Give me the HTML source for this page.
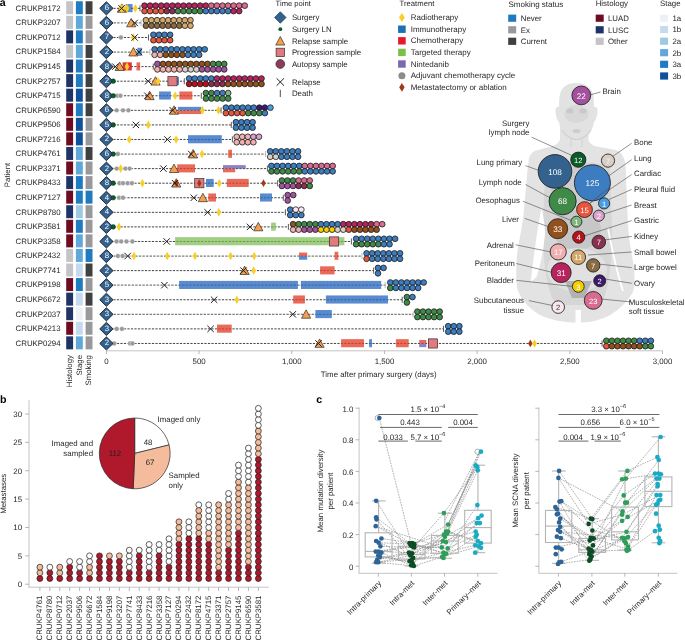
<!DOCTYPE html>
<html><head><meta charset="utf-8"><style>
html,body{margin:0;padding:0;background:#fff;overflow:hidden;width:685px;height:640px;}
svg{display:block;font-family:"Liberation Sans",sans-serif;text-rendering:geometricPrecision;will-change:transform;}
</style></head><body>
<svg width="685" height="640" viewBox="0 0 685 640">
<rect width="685" height="640" fill="#fff"/>
<text x="-0.3" y="6.4" font-size="10.6" font-weight="bold" fill="#000">a</text>
<text x="15.6" y="8.15" font-size="7.85" text-anchor="start" fill="#231f20" font-weight="normal" dominant-baseline="central" >CRUKP8172</text>
<rect x="66.2" y="1.25" width="6.9" height="13.0" fill="#c4c4c6"/>
<rect x="75.9" y="1.25" width="6.9" height="13.0" fill="#1f7bc2"/>
<rect x="85.6" y="1.25" width="6.9" height="13.0" fill="#404040"/>
<line x1="106.4" y1="8.35" x2="140" y2="8.35" stroke="#2e2e2e" stroke-width="0.9" stroke-dasharray="2.2,1.3"/>
<rect x="125.6" y="4.05" width="7" height="8.1" fill="#2a6ac0" fill-opacity="0.78"/>
<path d="M121.9,3.85 L126.5,12.25 L117.3,12.25 Z" fill="#f0a050" stroke="#3a2a20" stroke-width="0.7" stroke-linejoin="round"/>
<path d="M121.2,4.05 L123.6,8.35 L121.2,12.65 L118.8,8.35 Z" fill="#f7cf2a" stroke="none" stroke-width="0"/>
<path d="M123,4.05 L125.4,8.35 L123,12.65 L120.6,8.35 Z" fill="#f7cf2a" stroke="none" stroke-width="0"/>
<path d="M127,4.05 L129.4,8.35 L127,12.65 L124.6,8.35 Z" fill="#f7cf2a" stroke="none" stroke-width="0"/>
<path d="M135.3,4.05 L137.7,8.35 L135.3,12.65 L132.9,8.35 Z" fill="#f7cf2a" stroke="none" stroke-width="0"/>
<path d="M118.4,5.15 L124.8,11.55 M124.8,5.15 L118.4,11.55" stroke="#1e1e1e" stroke-width="1.0" fill="none"/>
<line x1="140" y1="5.35" x2="140" y2="11.35" stroke="#333" stroke-width="0.8"/>
<path d="M106.4,1.75 L113.05,8.35 L106.4,14.95 L99.75,8.35 Z" fill="#33628f" stroke="#141c28" stroke-width="0.9"/>
<text x="106.9" y="7.85" font-size="7.8" text-anchor="middle" fill="#fff" font-weight="normal" dominant-baseline="central" >6</text>
<circle cx="144.5" cy="5.65" r="2.85" fill="#b5245c" stroke="#1c1c1c" stroke-width="0.8"/>
<circle cx="150.07" cy="5.65" r="2.85" fill="#b5245c" stroke="#1c1c1c" stroke-width="0.8"/>
<circle cx="155.64" cy="5.65" r="2.85" fill="#b5245c" stroke="#1c1c1c" stroke-width="0.8"/>
<circle cx="161.21" cy="5.65" r="2.85" fill="#b5245c" stroke="#1c1c1c" stroke-width="0.8"/>
<circle cx="166.78" cy="5.65" r="2.85" fill="#b5245c" stroke="#1c1c1c" stroke-width="0.8"/>
<circle cx="172.35" cy="5.65" r="2.85" fill="#b5245c" stroke="#1c1c1c" stroke-width="0.8"/>
<circle cx="177.92" cy="5.65" r="2.85" fill="#b5245c" stroke="#1c1c1c" stroke-width="0.8"/>
<circle cx="183.49" cy="5.65" r="2.85" fill="#b5245c" stroke="#1c1c1c" stroke-width="0.8"/>
<circle cx="189.06" cy="5.65" r="2.85" fill="#b5245c" stroke="#1c1c1c" stroke-width="0.8"/>
<circle cx="194.63" cy="5.65" r="2.85" fill="#b5245c" stroke="#1c1c1c" stroke-width="0.8"/>
<circle cx="200.2" cy="5.65" r="2.85" fill="#b5245c" stroke="#1c1c1c" stroke-width="0.8"/>
<circle cx="205.77" cy="5.65" r="2.85" fill="#b5245c" stroke="#1c1c1c" stroke-width="0.8"/>
<circle cx="211.34" cy="5.65" r="2.85" fill="#d96a90" stroke="#1c1c1c" stroke-width="0.8"/>
<circle cx="216.91" cy="5.65" r="2.85" fill="#d96a90" stroke="#1c1c1c" stroke-width="0.8"/>
<circle cx="222.48" cy="5.65" r="2.85" fill="#d96a90" stroke="#1c1c1c" stroke-width="0.8"/>
<circle cx="228.05" cy="5.65" r="2.85" fill="#d96a90" stroke="#1c1c1c" stroke-width="0.8"/>
<circle cx="233.62" cy="5.65" r="2.85" fill="#d96a90" stroke="#1c1c1c" stroke-width="0.8"/>
<circle cx="239.19" cy="5.65" r="2.85" fill="#d96a90" stroke="#1c1c1c" stroke-width="0.8"/>
<circle cx="244.76" cy="5.65" r="2.85" fill="#d96a90" stroke="#1c1c1c" stroke-width="0.8"/>
<circle cx="144.5" cy="11.1" r="2.85" fill="#e8553d" stroke="#1c1c1c" stroke-width="0.8"/>
<circle cx="150.07" cy="11.1" r="2.85" fill="#e8553d" stroke="#1c1c1c" stroke-width="0.8"/>
<circle cx="155.64" cy="11.1" r="2.85" fill="#e8553d" stroke="#1c1c1c" stroke-width="0.8"/>
<circle cx="161.21" cy="11.1" r="2.85" fill="#e8553d" stroke="#1c1c1c" stroke-width="0.8"/>
<circle cx="166.78" cy="11.1" r="2.85" fill="#8b3050" stroke="#1c1c1c" stroke-width="0.8"/>
<circle cx="172.35" cy="11.1" r="2.85" fill="#8b3050" stroke="#1c1c1c" stroke-width="0.8"/>
<circle cx="177.92" cy="11.1" r="2.85" fill="#3f8a48" stroke="#1c1c1c" stroke-width="0.8"/>
<circle cx="183.49" cy="11.1" r="2.85" fill="#3f8a48" stroke="#1c1c1c" stroke-width="0.8"/>
<circle cx="189.06" cy="11.1" r="2.85" fill="#3f8a48" stroke="#1c1c1c" stroke-width="0.8"/>
<circle cx="194.63" cy="11.1" r="2.85" fill="#3f8a48" stroke="#1c1c1c" stroke-width="0.8"/>
<circle cx="200.2" cy="11.1" r="2.85" fill="#3f8a48" stroke="#1c1c1c" stroke-width="0.8"/>
<circle cx="205.77" cy="11.1" r="2.85" fill="#3b7dc0" stroke="#1c1c1c" stroke-width="0.8"/>
<circle cx="211.34" cy="11.1" r="2.85" fill="#3b7dc0" stroke="#1c1c1c" stroke-width="0.8"/>
<circle cx="216.91" cy="11.1" r="2.85" fill="#3b7dc0" stroke="#1c1c1c" stroke-width="0.8"/>
<circle cx="222.48" cy="11.1" r="2.85" fill="#3b7dc0" stroke="#1c1c1c" stroke-width="0.8"/>
<circle cx="228.05" cy="11.1" r="2.85" fill="#3b7dc0" stroke="#1c1c1c" stroke-width="0.8"/>
<circle cx="233.62" cy="11.1" r="2.85" fill="#b5245c" stroke="#1c1c1c" stroke-width="0.8"/>
<circle cx="239.19" cy="11.1" r="2.85" fill="#b5245c" stroke="#1c1c1c" stroke-width="0.8"/>
<text x="15.6" y="22.72" font-size="7.85" text-anchor="start" fill="#231f20" font-weight="normal" dominant-baseline="central" >CRUKP3207</text>
<rect x="66.2" y="15.82" width="6.9" height="13.0" fill="#c4c4c6"/>
<rect x="75.9" y="15.82" width="6.9" height="13.0" fill="#60a8da"/>
<rect x="85.6" y="15.82" width="6.9" height="13.0" fill="#99999c"/>
<line x1="106.4" y1="22.92" x2="141.1" y2="22.92" stroke="#7c7c7c" stroke-width="1.2" stroke-dasharray="2.4,1.2"/>
<path d="M131.2,18.42 L135.8,26.82 L126.6,26.82 Z" fill="#f0a050" stroke="#3a2a20" stroke-width="0.7" stroke-linejoin="round"/>
<path d="M131.5,19.72 L137.9,26.12 M137.9,19.72 L131.5,26.12" stroke="#1e1e1e" stroke-width="1.0" fill="none"/>
<line x1="141.1" y1="19.92" x2="141.1" y2="25.92" stroke="#aaa" stroke-width="0.8"/>
<path d="M106.4,16.32 L113.05,22.92 L106.4,29.52 L99.75,22.92 Z" fill="#33628f" stroke="#141c28" stroke-width="0.9"/>
<text x="106.9" y="22.42" font-size="7.8" text-anchor="middle" fill="#fff" font-weight="normal" dominant-baseline="central" >6</text>
<circle cx="145.9" cy="20.22" r="2.85" fill="#d4a86a" stroke="#1c1c1c" stroke-width="0.8"/>
<circle cx="151.47" cy="20.22" r="2.85" fill="#d4a86a" stroke="#1c1c1c" stroke-width="0.8"/>
<circle cx="157.04" cy="20.22" r="2.85" fill="#d4a86a" stroke="#1c1c1c" stroke-width="0.8"/>
<circle cx="162.61" cy="20.22" r="2.85" fill="#d4a86a" stroke="#1c1c1c" stroke-width="0.8"/>
<circle cx="168.18" cy="20.22" r="2.85" fill="#d4a86a" stroke="#1c1c1c" stroke-width="0.8"/>
<circle cx="173.75" cy="20.22" r="2.85" fill="#d4a86a" stroke="#1c1c1c" stroke-width="0.8"/>
<circle cx="179.32" cy="20.22" r="2.85" fill="#d4a86a" stroke="#1c1c1c" stroke-width="0.8"/>
<circle cx="184.89" cy="20.22" r="2.85" fill="#d4a86a" stroke="#1c1c1c" stroke-width="0.8"/>
<circle cx="190.46" cy="20.22" r="2.85" fill="#d4a86a" stroke="#1c1c1c" stroke-width="0.8"/>
<circle cx="145.9" cy="25.67" r="2.85" fill="#8a6a40" stroke="#1c1c1c" stroke-width="0.8"/>
<circle cx="151.47" cy="25.67" r="2.85" fill="#8a6a40" stroke="#1c1c1c" stroke-width="0.8"/>
<circle cx="157.04" cy="25.67" r="2.85" fill="#8a6a40" stroke="#1c1c1c" stroke-width="0.8"/>
<circle cx="162.61" cy="25.67" r="2.85" fill="#8a6a40" stroke="#1c1c1c" stroke-width="0.8"/>
<circle cx="168.18" cy="25.67" r="2.85" fill="#8a6a40" stroke="#1c1c1c" stroke-width="0.8"/>
<circle cx="173.75" cy="25.67" r="2.85" fill="#8a6a40" stroke="#1c1c1c" stroke-width="0.8"/>
<circle cx="179.32" cy="25.67" r="2.85" fill="#8a6a40" stroke="#1c1c1c" stroke-width="0.8"/>
<circle cx="184.89" cy="25.67" r="2.85" fill="#d4a86a" stroke="#1c1c1c" stroke-width="0.8"/>
<circle cx="190.46" cy="25.67" r="2.85" fill="#d4a86a" stroke="#1c1c1c" stroke-width="0.8"/>
<text x="15.6" y="37.29" font-size="7.85" text-anchor="start" fill="#231f20" font-weight="normal" dominant-baseline="central" >CRUKP0712</text>
<rect x="66.2" y="30.39" width="6.9" height="13.0" fill="#1f3466"/>
<rect x="75.9" y="30.39" width="6.9" height="13.0" fill="#1f7bc2"/>
<rect x="85.6" y="30.39" width="6.9" height="13.0" fill="#99999c"/>
<line x1="106.4" y1="37.49" x2="148.5" y2="37.49" stroke="#2e2e2e" stroke-width="0.9" stroke-dasharray="2.2,1.3"/>
<circle cx="120.9" cy="37.49" r="2.45" fill="#9a9a9a" stroke="#ffffff" stroke-width="0.45"/>
<path d="M133.3,33.19 L135.7,37.49 L133.3,41.79 L130.9,37.49 Z" fill="#f7cf2a" stroke="none" stroke-width="0"/>
<path d="M131.4,34.29 L137.8,40.69 M137.8,34.29 L131.4,40.69" stroke="#1e1e1e" stroke-width="1.0" fill="none"/>
<line x1="148.5" y1="34.49" x2="148.5" y2="40.49" stroke="#333" stroke-width="0.8"/>
<path d="M106.4,30.89 L113.05,37.49 L106.4,44.09 L99.75,37.49 Z" fill="#33628f" stroke="#141c28" stroke-width="0.9"/>
<text x="106.9" y="36.99" font-size="7.8" text-anchor="middle" fill="#fff" font-weight="normal" dominant-baseline="central" >7</text>
<circle cx="153.4" cy="34.79" r="2.85" fill="#3b7dc0" stroke="#1c1c1c" stroke-width="0.8"/>
<circle cx="158.97" cy="34.79" r="2.85" fill="#3b7dc0" stroke="#1c1c1c" stroke-width="0.8"/>
<circle cx="164.54" cy="34.79" r="2.85" fill="#3b7dc0" stroke="#1c1c1c" stroke-width="0.8"/>
<circle cx="170.11" cy="34.79" r="2.85" fill="#3b7dc0" stroke="#1c1c1c" stroke-width="0.8"/>
<circle cx="153.4" cy="40.24" r="2.85" fill="#e8553d" stroke="#1c1c1c" stroke-width="0.8"/>
<circle cx="158.97" cy="40.24" r="2.85" fill="#e8553d" stroke="#1c1c1c" stroke-width="0.8"/>
<circle cx="164.54" cy="40.24" r="2.85" fill="#e8553d" stroke="#1c1c1c" stroke-width="0.8"/>
<circle cx="170.11" cy="40.24" r="2.85" fill="#e8553d" stroke="#1c1c1c" stroke-width="0.8"/>
<text x="15.6" y="51.86" font-size="7.85" text-anchor="start" fill="#231f20" font-weight="normal" dominant-baseline="central" >CRUKP1584</text>
<rect x="66.2" y="44.96" width="6.9" height="13.0" fill="#c4c4c6"/>
<rect x="75.9" y="44.96" width="6.9" height="13.0" fill="#60a8da"/>
<rect x="85.6" y="44.96" width="6.9" height="13.0" fill="#404040"/>
<line x1="106.4" y1="52.06" x2="149.9" y2="52.06" stroke="#7c7c7c" stroke-width="1.2" stroke-dasharray="2.4,1.2"/>
<rect x="137.4" y="47.76" width="4.4" height="8.1" fill="#2a6ac0" fill-opacity="0.78"/>
<path d="M133.4,47.56 L138,55.96 L128.8,55.96 Z" fill="#f0a050" stroke="#3a2a20" stroke-width="0.7" stroke-linejoin="round"/>
<path d="M135.8,48.86 L142.2,55.26 M142.2,48.86 L135.8,55.26" stroke="#1e1e1e" stroke-width="1.0" fill="none"/>
<line x1="149.9" y1="49.06" x2="149.9" y2="55.06" stroke="#aaa" stroke-width="0.8"/>
<path d="M106.4,45.46 L113.05,52.06 L106.4,58.66 L99.75,52.06 Z" fill="#33628f" stroke="#141c28" stroke-width="0.9"/>
<text x="106.9" y="51.56" font-size="7.8" text-anchor="middle" fill="#fff" font-weight="normal" dominant-baseline="central" >2</text>
<circle cx="154.6" cy="49.36" r="2.85" fill="#3b7dc0" stroke="#1c1c1c" stroke-width="0.8"/>
<circle cx="160.17" cy="49.36" r="2.85" fill="#3b7dc0" stroke="#1c1c1c" stroke-width="0.8"/>
<circle cx="165.74" cy="49.36" r="2.85" fill="#3b7dc0" stroke="#1c1c1c" stroke-width="0.8"/>
<circle cx="171.31" cy="49.36" r="2.85" fill="#3b7dc0" stroke="#1c1c1c" stroke-width="0.8"/>
<circle cx="176.88" cy="49.36" r="2.85" fill="#3b7dc0" stroke="#1c1c1c" stroke-width="0.8"/>
<circle cx="182.45" cy="49.36" r="2.85" fill="#3b7dc0" stroke="#1c1c1c" stroke-width="0.8"/>
<circle cx="188.02" cy="49.36" r="2.85" fill="#3b7dc0" stroke="#1c1c1c" stroke-width="0.8"/>
<circle cx="193.59" cy="49.36" r="2.85" fill="#3b7dc0" stroke="#1c1c1c" stroke-width="0.8"/>
<circle cx="199.16" cy="49.36" r="2.85" fill="#3b7dc0" stroke="#1c1c1c" stroke-width="0.8"/>
<circle cx="204.73" cy="49.36" r="2.85" fill="#3b7dc0" stroke="#1c1c1c" stroke-width="0.8"/>
<circle cx="154.6" cy="54.81" r="2.85" fill="#efb0b0" stroke="#1c1c1c" stroke-width="0.8"/>
<circle cx="160.17" cy="54.81" r="2.85" fill="#efb0b0" stroke="#1c1c1c" stroke-width="0.8"/>
<circle cx="165.74" cy="54.81" r="2.85" fill="#92501d" stroke="#1c1c1c" stroke-width="0.8"/>
<circle cx="171.31" cy="54.81" r="2.85" fill="#92501d" stroke="#1c1c1c" stroke-width="0.8"/>
<circle cx="176.88" cy="54.81" r="2.85" fill="#92501d" stroke="#1c1c1c" stroke-width="0.8"/>
<circle cx="182.45" cy="54.81" r="2.85" fill="#92501d" stroke="#1c1c1c" stroke-width="0.8"/>
<circle cx="188.02" cy="54.81" r="2.85" fill="#3b7dc0" stroke="#1c1c1c" stroke-width="0.8"/>
<circle cx="193.59" cy="54.81" r="2.85" fill="#3b7dc0" stroke="#1c1c1c" stroke-width="0.8"/>
<circle cx="199.16" cy="54.81" r="2.85" fill="#3b7dc0" stroke="#1c1c1c" stroke-width="0.8"/>
<text x="15.6" y="66.43" font-size="7.85" text-anchor="start" fill="#231f20" font-weight="normal" dominant-baseline="central" >CRUKP9145</text>
<rect x="66.2" y="59.53" width="6.9" height="13.0" fill="#1f3466"/>
<rect x="75.9" y="59.53" width="6.9" height="13.0" fill="#1f7bc2"/>
<rect x="85.6" y="59.53" width="6.9" height="13.0" fill="#404040"/>
<line x1="106.4" y1="66.63" x2="153.3" y2="66.63" stroke="#2e2e2e" stroke-width="0.9" stroke-dasharray="2.2,1.3"/>
<rect x="122.6" y="62.33" width="9.2" height="8.1" fill="#e11f1f" fill-opacity="0.92"/>
<rect x="136.5" y="62.33" width="3.6" height="8.1" fill="#e3402a" fill-opacity="0.78"/>
<path d="M119.7,62.13 L124.3,70.53 L115.1,70.53 Z" fill="#f0a050" stroke="#3a2a20" stroke-width="0.7" stroke-linejoin="round"/>
<path d="M127,62.33 L129.4,66.63 L127,70.93 L124.6,66.63 Z" fill="#f7cf2a" stroke="none" stroke-width="0"/>
<path d="M112.1,63.43 L118.5,69.83 M118.5,63.43 L112.1,69.83" stroke="#1e1e1e" stroke-width="1.0" fill="none"/>
<line x1="153.3" y1="63.63" x2="153.3" y2="69.63" stroke="#333" stroke-width="0.8"/>
<path d="M106.4,60.03 L113.05,66.63 L106.4,73.23 L99.75,66.63 Z" fill="#33628f" stroke="#141c28" stroke-width="0.9"/>
<text x="106.9" y="66.13" font-size="7.8" text-anchor="middle" fill="#fff" font-weight="normal" dominant-baseline="central" >8</text>
<circle cx="157.4" cy="63.93" r="2.85" fill="#a3519e" stroke="#1c1c1c" stroke-width="0.8"/>
<circle cx="162.97" cy="63.93" r="2.85" fill="#92501d" stroke="#1c1c1c" stroke-width="0.8"/>
<circle cx="168.54" cy="63.93" r="2.85" fill="#92501d" stroke="#1c1c1c" stroke-width="0.8"/>
<circle cx="174.11" cy="63.93" r="2.85" fill="#92501d" stroke="#1c1c1c" stroke-width="0.8"/>
<circle cx="179.68" cy="63.93" r="2.85" fill="#92501d" stroke="#1c1c1c" stroke-width="0.8"/>
<circle cx="185.25" cy="63.93" r="2.85" fill="#92501d" stroke="#1c1c1c" stroke-width="0.8"/>
<circle cx="190.82" cy="63.93" r="2.85" fill="#92501d" stroke="#1c1c1c" stroke-width="0.8"/>
<circle cx="196.39" cy="63.93" r="2.85" fill="#92501d" stroke="#1c1c1c" stroke-width="0.8"/>
<circle cx="201.96" cy="63.93" r="2.85" fill="#92501d" stroke="#1c1c1c" stroke-width="0.8"/>
<circle cx="207.53" cy="63.93" r="2.85" fill="#92501d" stroke="#1c1c1c" stroke-width="0.8"/>
<circle cx="213.1" cy="63.93" r="2.85" fill="#3f8a48" stroke="#1c1c1c" stroke-width="0.8"/>
<circle cx="218.67" cy="63.93" r="2.85" fill="#3f8a48" stroke="#1c1c1c" stroke-width="0.8"/>
<circle cx="224.24" cy="63.93" r="2.85" fill="#3f8a48" stroke="#1c1c1c" stroke-width="0.8"/>
<circle cx="157.4" cy="69.38" r="2.85" fill="#efb0b0" stroke="#1c1c1c" stroke-width="0.8"/>
<circle cx="162.97" cy="69.38" r="2.85" fill="#efb0b0" stroke="#1c1c1c" stroke-width="0.8"/>
<circle cx="168.54" cy="69.38" r="2.85" fill="#efb0b0" stroke="#1c1c1c" stroke-width="0.8"/>
<circle cx="174.11" cy="69.38" r="2.85" fill="#efb0b0" stroke="#1c1c1c" stroke-width="0.8"/>
<circle cx="179.68" cy="69.38" r="2.85" fill="#efb0b0" stroke="#1c1c1c" stroke-width="0.8"/>
<circle cx="185.25" cy="69.38" r="2.85" fill="#d8d0c8" stroke="#1c1c1c" stroke-width="0.8"/>
<circle cx="190.82" cy="69.38" r="2.85" fill="#d8d0c8" stroke="#1c1c1c" stroke-width="0.8"/>
<circle cx="196.39" cy="69.38" r="2.85" fill="#d8d0c8" stroke="#1c1c1c" stroke-width="0.8"/>
<circle cx="201.96" cy="69.38" r="2.85" fill="#a3519e" stroke="#1c1c1c" stroke-width="0.8"/>
<circle cx="207.53" cy="69.38" r="2.85" fill="#a3519e" stroke="#1c1c1c" stroke-width="0.8"/>
<circle cx="213.1" cy="69.38" r="2.85" fill="#a3519e" stroke="#1c1c1c" stroke-width="0.8"/>
<circle cx="218.67" cy="69.38" r="2.85" fill="#a3519e" stroke="#1c1c1c" stroke-width="0.8"/>
<circle cx="224.24" cy="69.38" r="2.85" fill="#a3519e" stroke="#1c1c1c" stroke-width="0.8"/>
<text x="15.6" y="81" font-size="7.85" text-anchor="start" fill="#231f20" font-weight="normal" dominant-baseline="central" >CRUKP2757</text>
<rect x="66.2" y="74.1" width="6.9" height="13.0" fill="#1f3466"/>
<rect x="75.9" y="74.1" width="6.9" height="13.0" fill="#1f7bc2"/>
<rect x="85.6" y="74.1" width="6.9" height="13.0" fill="#404040"/>
<line x1="106.4" y1="81.2" x2="184.3" y2="81.2" stroke="#2e2e2e" stroke-width="0.9" stroke-dasharray="2.2,1.3"/>
<rect x="176.5" y="76.9" width="2.5" height="8.1" fill="#2a6ac0" fill-opacity="0.78"/>
<path d="M155.5,76.7 L160.1,85.1 L150.9,85.1 Z" fill="#f0a050" stroke="#3a2a20" stroke-width="0.7" stroke-linejoin="round"/>
<path d="M158.1,76.9 L160.5,81.2 L158.1,85.5 L155.7,81.2 Z" fill="#f7cf2a" stroke="none" stroke-width="0"/>
<rect x="167.9" y="76.6" width="9.2" height="9.2" fill="#e07a80" stroke="#3a2a2a" stroke-width="0.7"/>
<path d="M145,78 L151.4,84.4 M151.4,78 L145,84.4" stroke="#1e1e1e" stroke-width="1.0" fill="none"/>
<line x1="184.3" y1="78.2" x2="184.3" y2="84.2" stroke="#333" stroke-width="0.8"/>
<path d="M106.4,74.6 L113.05,81.2 L106.4,87.8 L99.75,81.2 Z" fill="#33628f" stroke="#141c28" stroke-width="0.9"/>
<text x="106.9" y="80.7" font-size="7.8" text-anchor="middle" fill="#fff" font-weight="normal" dominant-baseline="central" >2</text>
<circle cx="113.2" cy="81.2" r="2.35" fill="#0a5a2a" stroke="#1a1a1a" stroke-width="0.4"/>
<circle cx="189.1" cy="78.5" r="2.85" fill="#3b7dc0" stroke="#1c1c1c" stroke-width="0.8"/>
<circle cx="194.67" cy="78.5" r="2.85" fill="#3b7dc0" stroke="#1c1c1c" stroke-width="0.8"/>
<circle cx="200.24" cy="78.5" r="2.85" fill="#3b7dc0" stroke="#1c1c1c" stroke-width="0.8"/>
<circle cx="205.81" cy="78.5" r="2.85" fill="#3b7dc0" stroke="#1c1c1c" stroke-width="0.8"/>
<circle cx="211.38" cy="78.5" r="2.85" fill="#3b7dc0" stroke="#1c1c1c" stroke-width="0.8"/>
<circle cx="216.95" cy="78.5" r="2.85" fill="#b5245c" stroke="#1c1c1c" stroke-width="0.8"/>
<circle cx="222.52" cy="78.5" r="2.85" fill="#b5245c" stroke="#1c1c1c" stroke-width="0.8"/>
<circle cx="228.09" cy="78.5" r="2.85" fill="#b5245c" stroke="#1c1c1c" stroke-width="0.8"/>
<circle cx="233.66" cy="78.5" r="2.85" fill="#b5245c" stroke="#1c1c1c" stroke-width="0.8"/>
<circle cx="239.23" cy="78.5" r="2.85" fill="#b5245c" stroke="#1c1c1c" stroke-width="0.8"/>
<circle cx="244.8" cy="78.5" r="2.85" fill="#b5245c" stroke="#1c1c1c" stroke-width="0.8"/>
<circle cx="250.37" cy="78.5" r="2.85" fill="#b5245c" stroke="#1c1c1c" stroke-width="0.8"/>
<circle cx="255.94" cy="78.5" r="2.85" fill="#b5245c" stroke="#1c1c1c" stroke-width="0.8"/>
<circle cx="261.51" cy="78.5" r="2.85" fill="#b5245c" stroke="#1c1c1c" stroke-width="0.8"/>
<circle cx="189.1" cy="83.95" r="2.85" fill="#b5121b" stroke="#1c1c1c" stroke-width="0.8"/>
<circle cx="194.67" cy="83.95" r="2.85" fill="#b5121b" stroke="#1c1c1c" stroke-width="0.8"/>
<circle cx="200.24" cy="83.95" r="2.85" fill="#b5121b" stroke="#1c1c1c" stroke-width="0.8"/>
<circle cx="205.81" cy="83.95" r="2.85" fill="#b5121b" stroke="#1c1c1c" stroke-width="0.8"/>
<circle cx="211.38" cy="83.95" r="2.85" fill="#8b3050" stroke="#1c1c1c" stroke-width="0.8"/>
<circle cx="216.95" cy="83.95" r="2.85" fill="#8b3050" stroke="#1c1c1c" stroke-width="0.8"/>
<circle cx="222.52" cy="83.95" r="2.85" fill="#8b3050" stroke="#1c1c1c" stroke-width="0.8"/>
<circle cx="228.09" cy="83.95" r="2.85" fill="#92501d" stroke="#1c1c1c" stroke-width="0.8"/>
<circle cx="233.66" cy="83.95" r="2.85" fill="#92501d" stroke="#1c1c1c" stroke-width="0.8"/>
<circle cx="239.23" cy="83.95" r="2.85" fill="#92501d" stroke="#1c1c1c" stroke-width="0.8"/>
<circle cx="244.8" cy="83.95" r="2.85" fill="#92501d" stroke="#1c1c1c" stroke-width="0.8"/>
<circle cx="250.37" cy="83.95" r="2.85" fill="#92501d" stroke="#1c1c1c" stroke-width="0.8"/>
<circle cx="255.94" cy="83.95" r="2.85" fill="#92501d" stroke="#1c1c1c" stroke-width="0.8"/>
<circle cx="261.51" cy="83.95" r="2.85" fill="#92501d" stroke="#1c1c1c" stroke-width="0.8"/>
<text x="15.6" y="95.57" font-size="7.85" text-anchor="start" fill="#231f20" font-weight="normal" dominant-baseline="central" >CRUKP4715</text>
<rect x="66.2" y="88.67" width="6.9" height="13.0" fill="#1f3466"/>
<rect x="75.9" y="88.67" width="6.9" height="13.0" fill="#0f4f9c"/>
<rect x="85.6" y="88.67" width="6.9" height="13.0" fill="#404040"/>
<line x1="106.4" y1="95.77" x2="201.3" y2="95.77" stroke="#2e2e2e" stroke-width="0.9" stroke-dasharray="2.2,1.3"/>
<rect x="159.1" y="91.47" width="11.7" height="8.1" fill="#2a6ac0" fill-opacity="0.78"/>
<rect x="179.3" y="91.47" width="13" height="8.1" fill="#e3402a" fill-opacity="0.78"/>
<circle cx="117.2" cy="95.77" r="2.45" fill="#9a9a9a" stroke="#ffffff" stroke-width="0.45"/>
<circle cx="120.4" cy="95.77" r="2.45" fill="#9a9a9a" stroke="#ffffff" stroke-width="0.45"/>
<path d="M149.6,91.27 L154.2,99.67 L145,99.67 Z" fill="#f0a050" stroke="#3a2a20" stroke-width="0.7" stroke-linejoin="round"/>
<path d="M175.2,91.47 L177.6,95.77 L175.2,100.07 L172.8,95.77 Z" fill="#f7cf2a" stroke="none" stroke-width="0"/>
<path d="M144.2,92.57 L150.6,98.97 M150.6,92.57 L144.2,98.97" stroke="#1e1e1e" stroke-width="1.0" fill="none"/>
<line x1="201.3" y1="92.77" x2="201.3" y2="98.77" stroke="#333" stroke-width="0.8"/>
<path d="M106.4,89.17 L113.05,95.77 L106.4,102.37 L99.75,95.77 Z" fill="#33628f" stroke="#141c28" stroke-width="0.9"/>
<text x="106.9" y="95.27" font-size="7.8" text-anchor="middle" fill="#fff" font-weight="normal" dominant-baseline="central" >8</text>
<circle cx="113.2" cy="95.77" r="2.35" fill="#0a5a2a" stroke="#1a1a1a" stroke-width="0.4"/>
<circle cx="205.9" cy="93.07" r="2.85" fill="#3f8a48" stroke="#1c1c1c" stroke-width="0.8"/>
<circle cx="211.47" cy="93.07" r="2.85" fill="#3f8a48" stroke="#1c1c1c" stroke-width="0.8"/>
<circle cx="217.04" cy="93.07" r="2.85" fill="#3b7dc0" stroke="#1c1c1c" stroke-width="0.8"/>
<circle cx="222.61" cy="93.07" r="2.85" fill="#3b7dc0" stroke="#1c1c1c" stroke-width="0.8"/>
<circle cx="228.18" cy="93.07" r="2.85" fill="#7fb77e" stroke="#1c1c1c" stroke-width="0.8"/>
<circle cx="205.9" cy="98.52" r="2.85" fill="#3f8a48" stroke="#1c1c1c" stroke-width="0.8"/>
<circle cx="211.47" cy="98.52" r="2.85" fill="#3f8a48" stroke="#1c1c1c" stroke-width="0.8"/>
<circle cx="217.04" cy="98.52" r="2.85" fill="#3f8a48" stroke="#1c1c1c" stroke-width="0.8"/>
<circle cx="222.61" cy="98.52" r="2.85" fill="#3f8a48" stroke="#1c1c1c" stroke-width="0.8"/>
<circle cx="228.18" cy="98.52" r="2.85" fill="#3f8a48" stroke="#1c1c1c" stroke-width="0.8"/>
<text x="15.6" y="110.14" font-size="7.85" text-anchor="start" fill="#231f20" font-weight="normal" dominant-baseline="central" >CRUKP6590</text>
<rect x="66.2" y="103.24" width="6.9" height="13.0" fill="#6e0b20"/>
<rect x="75.9" y="103.24" width="6.9" height="13.0" fill="#1f7bc2"/>
<rect x="85.6" y="103.24" width="6.9" height="13.0" fill="#404040"/>
<line x1="106.4" y1="110.34" x2="221.1" y2="110.34" stroke="#2e2e2e" stroke-width="0.9" stroke-dasharray="2.2,1.3"/>
<rect x="177.9" y="106.84" width="23.4" height="3.6" fill="#2a6ac0" fill-opacity="0.78"/>
<rect x="177.9" y="110.44" width="23.4" height="3.6" fill="#e3402a" fill-opacity="0.78"/>
<circle cx="116.7" cy="110.34" r="2.45" fill="#9a9a9a" stroke="#ffffff" stroke-width="0.45"/>
<circle cx="123" cy="110.34" r="2.45" fill="#9a9a9a" stroke="#ffffff" stroke-width="0.45"/>
<circle cx="128.4" cy="110.34" r="2.45" fill="#9a9a9a" stroke="#ffffff" stroke-width="0.45"/>
<path d="M174,105.84 L178.6,114.24 L169.4,114.24 Z" fill="#f0a050" stroke="#3a2a20" stroke-width="0.7" stroke-linejoin="round"/>
<path d="M202.5,106.04 L204.9,110.34 L202.5,114.64 L200.1,110.34 Z" fill="#f7cf2a" stroke="none" stroke-width="0"/>
<path d="M218.5,106.04 L220.9,110.34 L218.5,114.64 L216.1,110.34 Z" fill="#f7cf2a" stroke="none" stroke-width="0"/>
<path d="M169.6,107.14 L176,113.54 M176,107.14 L169.6,113.54" stroke="#1e1e1e" stroke-width="1.0" fill="none"/>
<line x1="221.1" y1="107.34" x2="221.1" y2="113.34" stroke="#333" stroke-width="0.8"/>
<path d="M106.4,103.74 L113.05,110.34 L106.4,116.94 L99.75,110.34 Z" fill="#33628f" stroke="#141c28" stroke-width="0.9"/>
<text x="106.9" y="109.84" font-size="7.8" text-anchor="middle" fill="#fff" font-weight="normal" dominant-baseline="central" >6</text>
<circle cx="225.9" cy="107.64" r="2.85" fill="#3b7dc0" stroke="#1c1c1c" stroke-width="0.8"/>
<circle cx="231.47" cy="107.64" r="2.85" fill="#3b7dc0" stroke="#1c1c1c" stroke-width="0.8"/>
<circle cx="237.04" cy="107.64" r="2.85" fill="#3b7dc0" stroke="#1c1c1c" stroke-width="0.8"/>
<circle cx="242.61" cy="107.64" r="2.85" fill="#3b7dc0" stroke="#1c1c1c" stroke-width="0.8"/>
<circle cx="248.18" cy="107.64" r="2.85" fill="#3b7dc0" stroke="#1c1c1c" stroke-width="0.8"/>
<circle cx="253.75" cy="107.64" r="2.85" fill="#3b7dc0" stroke="#1c1c1c" stroke-width="0.8"/>
<circle cx="259.32" cy="107.64" r="2.85" fill="#3b1a6e" stroke="#1c1c1c" stroke-width="0.8"/>
<circle cx="264.89" cy="107.64" r="2.85" fill="#3b1a6e" stroke="#1c1c1c" stroke-width="0.8"/>
<circle cx="270.46" cy="107.64" r="2.85" fill="#4a9ee0" stroke="#1c1c1c" stroke-width="0.8"/>
<circle cx="225.9" cy="113.09" r="2.85" fill="#e8553d" stroke="#1c1c1c" stroke-width="0.8"/>
<circle cx="231.47" cy="113.09" r="2.85" fill="#e8553d" stroke="#1c1c1c" stroke-width="0.8"/>
<circle cx="237.04" cy="113.09" r="2.85" fill="#e8553d" stroke="#1c1c1c" stroke-width="0.8"/>
<circle cx="242.61" cy="113.09" r="2.85" fill="#e8553d" stroke="#1c1c1c" stroke-width="0.8"/>
<circle cx="248.18" cy="113.09" r="2.85" fill="#3f8a48" stroke="#1c1c1c" stroke-width="0.8"/>
<circle cx="253.75" cy="113.09" r="2.85" fill="#3f8a48" stroke="#1c1c1c" stroke-width="0.8"/>
<circle cx="259.32" cy="113.09" r="2.85" fill="#3f8a48" stroke="#1c1c1c" stroke-width="0.8"/>
<circle cx="264.89" cy="113.09" r="2.85" fill="#3b7dc0" stroke="#1c1c1c" stroke-width="0.8"/>
<text x="15.6" y="124.71" font-size="7.85" text-anchor="start" fill="#231f20" font-weight="normal" dominant-baseline="central" >CRUKP9506</text>
<rect x="66.2" y="117.81" width="6.9" height="13.0" fill="#6e0b20"/>
<rect x="75.9" y="117.81" width="6.9" height="13.0" fill="#0f4f9c"/>
<rect x="85.6" y="117.81" width="6.9" height="13.0" fill="#99999c"/>
<line x1="106.4" y1="124.91" x2="231.3" y2="124.91" stroke="#2e2e2e" stroke-width="0.9" stroke-dasharray="2.2,1.3"/>
<path d="M148.3,120.61 L150.7,124.91 L148.3,129.21 L145.9,124.91 Z" fill="#f7cf2a" stroke="none" stroke-width="0"/>
<path d="M132.7,121.71 L139.1,128.11 M139.1,121.71 L132.7,128.11" stroke="#1e1e1e" stroke-width="1.0" fill="none"/>
<line x1="231.3" y1="121.91" x2="231.3" y2="127.91" stroke="#333" stroke-width="0.8"/>
<path d="M106.4,118.31 L113.05,124.91 L106.4,131.51 L99.75,124.91 Z" fill="#33628f" stroke="#141c28" stroke-width="0.9"/>
<text x="106.9" y="124.41" font-size="7.8" text-anchor="middle" fill="#fff" font-weight="normal" dominant-baseline="central" >5</text>
<circle cx="113.2" cy="124.91" r="2.35" fill="#0a5a2a" stroke="#1a1a1a" stroke-width="0.4"/>
<circle cx="235.9" cy="122.21" r="2.85" fill="#3b7dc0" stroke="#1c1c1c" stroke-width="0.8"/>
<circle cx="241.47" cy="122.21" r="2.85" fill="#3b7dc0" stroke="#1c1c1c" stroke-width="0.8"/>
<circle cx="247.04" cy="122.21" r="2.85" fill="#3b7dc0" stroke="#1c1c1c" stroke-width="0.8"/>
<circle cx="252.61" cy="122.21" r="2.85" fill="#3b7dc0" stroke="#1c1c1c" stroke-width="0.8"/>
<circle cx="235.9" cy="127.66" r="2.85" fill="#3b7dc0" stroke="#1c1c1c" stroke-width="0.8"/>
<circle cx="241.47" cy="127.66" r="2.85" fill="#3b7dc0" stroke="#1c1c1c" stroke-width="0.8"/>
<circle cx="247.04" cy="127.66" r="2.85" fill="#3b7dc0" stroke="#1c1c1c" stroke-width="0.8"/>
<circle cx="252.61" cy="127.66" r="2.85" fill="#3b7dc0" stroke="#1c1c1c" stroke-width="0.8"/>
<text x="15.6" y="139.28" font-size="7.85" text-anchor="start" fill="#231f20" font-weight="normal" dominant-baseline="central" >CRUKP7216</text>
<rect x="66.2" y="132.38" width="6.9" height="13.0" fill="#6e0b20"/>
<rect x="75.9" y="132.38" width="6.9" height="13.0" fill="#0f4f9c"/>
<rect x="85.6" y="132.38" width="6.9" height="13.0" fill="#99999c"/>
<line x1="106.4" y1="139.48" x2="232.4" y2="139.48" stroke="#2e2e2e" stroke-width="0.9" stroke-dasharray="2.2,1.3"/>
<rect x="188" y="135.18" width="33.8" height="8.1" fill="#2a6ac0" fill-opacity="0.78"/>
<path d="M129.3,135.18 L131.7,139.48 L129.3,143.78 L126.9,139.48 Z" fill="#f7cf2a" stroke="none" stroke-width="0"/>
<path d="M176.1,135.18 L178.5,139.48 L176.1,143.78 L173.7,139.48 Z" fill="#f7cf2a" stroke="none" stroke-width="0"/>
<path d="M164.2,136.28 L170.6,142.68 M170.6,136.28 L164.2,142.68" stroke="#1e1e1e" stroke-width="1.0" fill="none"/>
<line x1="232.4" y1="136.48" x2="232.4" y2="142.48" stroke="#333" stroke-width="0.8"/>
<path d="M106.4,132.88 L113.05,139.48 L106.4,146.08 L99.75,139.48 Z" fill="#33628f" stroke="#141c28" stroke-width="0.9"/>
<text x="106.9" y="138.98" font-size="7.8" text-anchor="middle" fill="#fff" font-weight="normal" dominant-baseline="central" >2</text>
<circle cx="236.7" cy="136.78" r="2.85" fill="#efb0b0" stroke="#1c1c1c" stroke-width="0.8"/>
<circle cx="242.27" cy="136.78" r="2.85" fill="#efb0b0" stroke="#1c1c1c" stroke-width="0.8"/>
<circle cx="247.84" cy="136.78" r="2.85" fill="#efb0b0" stroke="#1c1c1c" stroke-width="0.8"/>
<circle cx="253.41" cy="136.78" r="2.85" fill="#d9a0cc" stroke="#1c1c1c" stroke-width="0.8"/>
<circle cx="258.98" cy="136.78" r="2.85" fill="#d9a0cc" stroke="#1c1c1c" stroke-width="0.8"/>
<circle cx="236.7" cy="142.23" r="2.85" fill="#efb0b0" stroke="#1c1c1c" stroke-width="0.8"/>
<circle cx="242.27" cy="142.23" r="2.85" fill="#efb0b0" stroke="#1c1c1c" stroke-width="0.8"/>
<circle cx="247.84" cy="142.23" r="2.85" fill="#efb0b0" stroke="#1c1c1c" stroke-width="0.8"/>
<circle cx="253.41" cy="142.23" r="2.85" fill="#efb0b0" stroke="#1c1c1c" stroke-width="0.8"/>
<text x="15.6" y="153.85" font-size="7.85" text-anchor="start" fill="#231f20" font-weight="normal" dominant-baseline="central" >CRUKP4761</text>
<rect x="66.2" y="146.95" width="6.9" height="13.0" fill="#1f3466"/>
<rect x="75.9" y="146.95" width="6.9" height="13.0" fill="#60a8da"/>
<rect x="85.6" y="146.95" width="6.9" height="13.0" fill="#404040"/>
<line x1="106.4" y1="154.05" x2="265.6" y2="154.05" stroke="#7c7c7c" stroke-width="1.2" stroke-dasharray="2.4,1.2"/>
<rect x="228.2" y="149.75" width="3.8" height="8.1" fill="#e3402a" fill-opacity="0.78"/>
<circle cx="117.9" cy="154.05" r="2.45" fill="#9a9a9a" stroke="#ffffff" stroke-width="0.45"/>
<path d="M193.1,149.55 L197.7,157.95 L188.5,157.95 Z" fill="#f0a050" stroke="#3a2a20" stroke-width="0.7" stroke-linejoin="round"/>
<path d="M202,149.75 L204.4,154.05 L202,158.35 L199.6,154.05 Z" fill="#f7cf2a" stroke="none" stroke-width="0"/>
<path d="M188.1,150.85 L194.5,157.25 M194.5,150.85 L188.1,157.25" stroke="#1e1e1e" stroke-width="1.0" fill="none"/>
<line x1="265.6" y1="151.05" x2="265.6" y2="157.05" stroke="#aaa" stroke-width="0.8"/>
<path d="M106.4,147.45 L113.05,154.05 L106.4,160.65 L99.75,154.05 Z" fill="#33628f" stroke="#141c28" stroke-width="0.9"/>
<text x="106.9" y="153.55" font-size="7.8" text-anchor="middle" fill="#fff" font-weight="normal" dominant-baseline="central" >6</text>
<circle cx="113.2" cy="154.05" r="2.35" fill="#0a5a2a" stroke="#1a1a1a" stroke-width="0.4"/>
<circle cx="270.2" cy="151.35" r="2.85" fill="#3b7dc0" stroke="#1c1c1c" stroke-width="0.8"/>
<circle cx="275.77" cy="151.35" r="2.85" fill="#3b7dc0" stroke="#1c1c1c" stroke-width="0.8"/>
<circle cx="281.34" cy="151.35" r="2.85" fill="#3b7dc0" stroke="#1c1c1c" stroke-width="0.8"/>
<circle cx="286.91" cy="151.35" r="2.85" fill="#3b7dc0" stroke="#1c1c1c" stroke-width="0.8"/>
<circle cx="292.48" cy="151.35" r="2.85" fill="#3b7dc0" stroke="#1c1c1c" stroke-width="0.8"/>
<circle cx="298.05" cy="151.35" r="2.85" fill="#3b7dc0" stroke="#1c1c1c" stroke-width="0.8"/>
<circle cx="270.2" cy="156.8" r="2.85" fill="#d8d0c8" stroke="#1c1c1c" stroke-width="0.8"/>
<circle cx="275.77" cy="156.8" r="2.85" fill="#d8d0c8" stroke="#1c1c1c" stroke-width="0.8"/>
<circle cx="281.34" cy="156.8" r="2.85" fill="#3b7dc0" stroke="#1c1c1c" stroke-width="0.8"/>
<circle cx="286.91" cy="156.8" r="2.85" fill="#3b7dc0" stroke="#1c1c1c" stroke-width="0.8"/>
<circle cx="292.48" cy="156.8" r="2.85" fill="#3b7dc0" stroke="#1c1c1c" stroke-width="0.8"/>
<circle cx="298.05" cy="156.8" r="2.85" fill="#3b7dc0" stroke="#1c1c1c" stroke-width="0.8"/>
<text x="15.6" y="168.42" font-size="7.85" text-anchor="start" fill="#231f20" font-weight="normal" dominant-baseline="central" >CRUKP3371</text>
<rect x="66.2" y="161.52" width="6.9" height="13.0" fill="#6e0b20"/>
<rect x="75.9" y="161.52" width="6.9" height="13.0" fill="#60a8da"/>
<rect x="85.6" y="161.52" width="6.9" height="13.0" fill="#99999c"/>
<line x1="106.4" y1="168.62" x2="267.4" y2="168.62" stroke="#2e2e2e" stroke-width="0.9" stroke-dasharray="2.2,1.3"/>
<rect x="177.2" y="164.32" width="17.8" height="8.1" fill="#e3402a" fill-opacity="0.78"/>
<rect x="223" y="165.12" width="22.7" height="3.6" fill="#6b56ab" fill-opacity="0.75"/>
<rect x="223" y="168.72" width="12.2" height="3.6" fill="#e3402a" fill-opacity="0.78"/>
<circle cx="116.7" cy="168.62" r="2.45" fill="#9a9a9a" stroke="#ffffff" stroke-width="0.45"/>
<path d="M120.7,164.32 L123.1,168.62 L120.7,172.92 L118.3,168.62 Z" fill="#f7cf2a" stroke="none" stroke-width="0"/>
<circle cx="125.4" cy="168.62" r="2.45" fill="#9a9a9a" stroke="#ffffff" stroke-width="0.45"/>
<circle cx="129.6" cy="168.62" r="2.45" fill="#9a9a9a" stroke="#ffffff" stroke-width="0.45"/>
<path d="M174,164.12 L178.6,172.52 L169.4,172.52 Z" fill="#f0a050" stroke="#3a2a20" stroke-width="0.7" stroke-linejoin="round"/>
<path d="M160.2,165.42 L166.6,171.82 M166.6,165.42 L160.2,171.82" stroke="#1e1e1e" stroke-width="1.0" fill="none"/>
<line x1="267.4" y1="165.62" x2="267.4" y2="171.62" stroke="#333" stroke-width="0.8"/>
<path d="M106.4,162.02 L113.05,168.62 L106.4,175.22 L99.75,168.62 Z" fill="#33628f" stroke="#141c28" stroke-width="0.9"/>
<text x="106.9" y="168.12" font-size="7.8" text-anchor="middle" fill="#fff" font-weight="normal" dominant-baseline="central" >2</text>
<circle cx="271.4" cy="165.92" r="2.85" fill="#3b7dc0" stroke="#1c1c1c" stroke-width="0.8"/>
<circle cx="276.97" cy="165.92" r="2.85" fill="#3b7dc0" stroke="#1c1c1c" stroke-width="0.8"/>
<circle cx="282.54" cy="165.92" r="2.85" fill="#3b7dc0" stroke="#1c1c1c" stroke-width="0.8"/>
<circle cx="288.11" cy="165.92" r="2.85" fill="#3b7dc0" stroke="#1c1c1c" stroke-width="0.8"/>
<circle cx="293.68" cy="165.92" r="2.85" fill="#3b7dc0" stroke="#1c1c1c" stroke-width="0.8"/>
<circle cx="299.25" cy="165.92" r="2.85" fill="#3b7dc0" stroke="#1c1c1c" stroke-width="0.8"/>
<circle cx="304.82" cy="165.92" r="2.85" fill="#d96a90" stroke="#1c1c1c" stroke-width="0.8"/>
<circle cx="310.39" cy="165.92" r="2.85" fill="#d96a90" stroke="#1c1c1c" stroke-width="0.8"/>
<circle cx="315.96" cy="165.92" r="2.85" fill="#d96a90" stroke="#1c1c1c" stroke-width="0.8"/>
<circle cx="321.53" cy="165.92" r="2.85" fill="#d96a90" stroke="#1c1c1c" stroke-width="0.8"/>
<circle cx="327.1" cy="165.92" r="2.85" fill="#d96a90" stroke="#1c1c1c" stroke-width="0.8"/>
<circle cx="332.67" cy="165.92" r="2.85" fill="#d96a90" stroke="#1c1c1c" stroke-width="0.8"/>
<circle cx="271.4" cy="171.37" r="2.85" fill="#3f8a48" stroke="#1c1c1c" stroke-width="0.8"/>
<circle cx="276.97" cy="171.37" r="2.85" fill="#3f8a48" stroke="#1c1c1c" stroke-width="0.8"/>
<circle cx="282.54" cy="171.37" r="2.85" fill="#3f8a48" stroke="#1c1c1c" stroke-width="0.8"/>
<circle cx="288.11" cy="171.37" r="2.85" fill="#3f8a48" stroke="#1c1c1c" stroke-width="0.8"/>
<circle cx="293.68" cy="171.37" r="2.85" fill="#3f8a48" stroke="#1c1c1c" stroke-width="0.8"/>
<circle cx="299.25" cy="171.37" r="2.85" fill="#3f8a48" stroke="#1c1c1c" stroke-width="0.8"/>
<circle cx="304.82" cy="171.37" r="2.85" fill="#3b7dc0" stroke="#1c1c1c" stroke-width="0.8"/>
<circle cx="310.39" cy="171.37" r="2.85" fill="#3b7dc0" stroke="#1c1c1c" stroke-width="0.8"/>
<circle cx="315.96" cy="171.37" r="2.85" fill="#3b7dc0" stroke="#1c1c1c" stroke-width="0.8"/>
<circle cx="321.53" cy="171.37" r="2.85" fill="#3b7dc0" stroke="#1c1c1c" stroke-width="0.8"/>
<circle cx="327.1" cy="171.37" r="2.85" fill="#3b7dc0" stroke="#1c1c1c" stroke-width="0.8"/>
<circle cx="332.67" cy="171.37" r="2.85" fill="#3b7dc0" stroke="#1c1c1c" stroke-width="0.8"/>
<text x="15.6" y="182.99" font-size="7.85" text-anchor="start" fill="#231f20" font-weight="normal" dominant-baseline="central" >CRUKP8433</text>
<rect x="66.2" y="176.09" width="6.9" height="13.0" fill="#1f3466"/>
<rect x="75.9" y="176.09" width="6.9" height="13.0" fill="#1f7bc2"/>
<rect x="85.6" y="176.09" width="6.9" height="13.0" fill="#99999c"/>
<line x1="106.4" y1="183.19" x2="277.6" y2="183.19" stroke="#2e2e2e" stroke-width="0.9" stroke-dasharray="2.2,1.3"/>
<rect x="206" y="178.89" width="7.7" height="8.1" fill="#2a6ac0" fill-opacity="0.78"/>
<rect x="226.8" y="178.89" width="21.9" height="8.1" fill="#e3402a" fill-opacity="0.78"/>
<circle cx="119.5" cy="183.19" r="2.45" fill="#9a9a9a" stroke="#ffffff" stroke-width="0.45"/>
<circle cx="123" cy="183.19" r="2.45" fill="#9a9a9a" stroke="#ffffff" stroke-width="0.45"/>
<circle cx="127.7" cy="183.19" r="2.45" fill="#9a9a9a" stroke="#ffffff" stroke-width="0.45"/>
<circle cx="131.9" cy="183.19" r="2.45" fill="#9a9a9a" stroke="#ffffff" stroke-width="0.45"/>
<path d="M142.4,178.89 L144.8,183.19 L142.4,187.49 L140,183.19 Z" fill="#f7cf2a" stroke="none" stroke-width="0"/>
<path d="M176.3,178.69 L180.9,187.09 L171.7,187.09 Z" fill="#f0a050" stroke="#3a2a20" stroke-width="0.7" stroke-linejoin="round"/>
<path d="M176.3,179.29 L178.5,183.19 L176.3,187.09 L174.1,183.19 Z" fill="#a0381a" stroke="none" stroke-width="0"/>
<rect x="194.7" y="178.59" width="9.2" height="9.2" fill="#e07a80" stroke="#3a2a2a" stroke-width="0.7"/>
<path d="M199.3,179.29 L201.5,183.19 L199.3,187.09 L197.1,183.19 Z" fill="#a0381a" stroke="none" stroke-width="0"/>
<path d="M219.3,178.89 L221.7,183.19 L219.3,187.49 L216.9,183.19 Z" fill="#f7cf2a" stroke="none" stroke-width="0"/>
<path d="M263.5,179.29 L265.7,183.19 L263.5,187.09 L261.3,183.19 Z" fill="#a0381a" stroke="none" stroke-width="0"/>
<path d="M171.8,179.99 L178.2,186.39 M178.2,179.99 L171.8,186.39" stroke="#1e1e1e" stroke-width="1.0" fill="none"/>
<line x1="277.6" y1="180.19" x2="277.6" y2="186.19" stroke="#333" stroke-width="0.8"/>
<path d="M106.4,176.59 L113.05,183.19 L106.4,189.79 L99.75,183.19 Z" fill="#33628f" stroke="#141c28" stroke-width="0.9"/>
<text x="106.9" y="182.69" font-size="7.8" text-anchor="middle" fill="#fff" font-weight="normal" dominant-baseline="central" >8</text>
<circle cx="113.2" cy="183.19" r="2.35" fill="#0a5a2a" stroke="#1a1a1a" stroke-width="0.4"/>
<circle cx="281.9" cy="180.49" r="2.85" fill="#3f8a48" stroke="#1c1c1c" stroke-width="0.8"/>
<circle cx="287.47" cy="180.49" r="2.85" fill="#3f8a48" stroke="#1c1c1c" stroke-width="0.8"/>
<circle cx="293.04" cy="180.49" r="2.85" fill="#3f8a48" stroke="#1c1c1c" stroke-width="0.8"/>
<circle cx="298.61" cy="180.49" r="2.85" fill="#d96a90" stroke="#1c1c1c" stroke-width="0.8"/>
<circle cx="304.18" cy="180.49" r="2.85" fill="#d96a90" stroke="#1c1c1c" stroke-width="0.8"/>
<circle cx="309.75" cy="180.49" r="2.85" fill="#d96a90" stroke="#1c1c1c" stroke-width="0.8"/>
<circle cx="281.9" cy="185.94" r="2.85" fill="#a3519e" stroke="#1c1c1c" stroke-width="0.8"/>
<circle cx="287.47" cy="185.94" r="2.85" fill="#a3519e" stroke="#1c1c1c" stroke-width="0.8"/>
<circle cx="293.04" cy="185.94" r="2.85" fill="#a3519e" stroke="#1c1c1c" stroke-width="0.8"/>
<circle cx="298.61" cy="185.94" r="2.85" fill="#8b3050" stroke="#1c1c1c" stroke-width="0.8"/>
<circle cx="304.18" cy="185.94" r="2.85" fill="#8b3050" stroke="#1c1c1c" stroke-width="0.8"/>
<circle cx="309.75" cy="185.94" r="2.85" fill="#3f8a48" stroke="#1c1c1c" stroke-width="0.8"/>
<text x="15.6" y="197.56" font-size="7.85" text-anchor="start" fill="#231f20" font-weight="normal" dominant-baseline="central" >CRUKP7127</text>
<rect x="66.2" y="190.66" width="6.9" height="13.0" fill="#6e0b20"/>
<rect x="75.9" y="190.66" width="6.9" height="13.0" fill="#1f7bc2"/>
<rect x="85.6" y="190.66" width="6.9" height="13.0" fill="#1f7ac0"/>
<line x1="106.4" y1="197.76" x2="283.3" y2="197.76" stroke="#2e2e2e" stroke-width="0.9" stroke-dasharray="2.2,1.3"/>
<rect x="208.3" y="193.46" width="7.7" height="8.1" fill="#e3402a" fill-opacity="0.78"/>
<rect x="260" y="193.46" width="12" height="8.1" fill="#2a6ac0" fill-opacity="0.78"/>
<circle cx="119" cy="197.76" r="2.45" fill="#9a9a9a" stroke="#ffffff" stroke-width="0.45"/>
<circle cx="123" cy="197.76" r="2.45" fill="#9a9a9a" stroke="#ffffff" stroke-width="0.45"/>
<path d="M202.9,193.26 L207.5,201.66 L198.3,201.66 Z" fill="#f0a050" stroke="#3a2a20" stroke-width="0.7" stroke-linejoin="round"/>
<path d="M190.6,194.56 L197,200.96 M197,194.56 L190.6,200.96" stroke="#1e1e1e" stroke-width="1.0" fill="none"/>
<line x1="283.3" y1="194.76" x2="283.3" y2="200.76" stroke="#333" stroke-width="0.8"/>
<path d="M106.4,191.16 L113.05,197.76 L106.4,204.36 L99.75,197.76 Z" fill="#33628f" stroke="#141c28" stroke-width="0.9"/>
<text x="106.9" y="197.26" font-size="7.8" text-anchor="middle" fill="#fff" font-weight="normal" dominant-baseline="central" >4</text>
<circle cx="113.2" cy="197.76" r="2.35" fill="#0a5a2a" stroke="#1a1a1a" stroke-width="0.4"/>
<circle cx="287.7" cy="195.06" r="2.85" fill="#a3519e" stroke="#1c1c1c" stroke-width="0.8"/>
<circle cx="293.27" cy="195.06" r="2.85" fill="#a3519e" stroke="#1c1c1c" stroke-width="0.8"/>
<circle cx="287.7" cy="200.51" r="2.85" fill="#a3519e" stroke="#1c1c1c" stroke-width="0.8"/>
<text x="15.6" y="212.13" font-size="7.85" text-anchor="start" fill="#231f20" font-weight="normal" dominant-baseline="central" >CRUKP8780</text>
<rect x="66.2" y="205.23" width="6.9" height="13.0" fill="#1f3466"/>
<rect x="75.9" y="205.23" width="6.9" height="13.0" fill="#9dcae1"/>
<rect x="85.6" y="205.23" width="6.9" height="13.0" fill="#99999c"/>
<line x1="106.4" y1="212.33" x2="285.4" y2="212.33" stroke="#2e2e2e" stroke-width="0.9" stroke-dasharray="2.2,1.3"/>
<path d="M218.8,208.03 L221.2,212.33 L218.8,216.63 L216.4,212.33 Z" fill="#f7cf2a" stroke="none" stroke-width="0"/>
<path d="M204.4,209.13 L210.8,215.53 M210.8,209.13 L204.4,215.53" stroke="#1e1e1e" stroke-width="1.0" fill="none"/>
<line x1="285.4" y1="209.33" x2="285.4" y2="215.33" stroke="#333" stroke-width="0.8"/>
<path d="M106.4,205.73 L113.05,212.33 L106.4,218.93 L99.75,212.33 Z" fill="#33628f" stroke="#141c28" stroke-width="0.9"/>
<text x="106.9" y="211.83" font-size="7.8" text-anchor="middle" fill="#fff" font-weight="normal" dominant-baseline="central" >4</text>
<circle cx="290.2" cy="209.63" r="2.85" fill="#3b7dc0" stroke="#1c1c1c" stroke-width="0.8"/>
<circle cx="295.77" cy="209.63" r="2.85" fill="#f8e8ee" stroke="#1c1c1c" stroke-width="0.8"/>
<circle cx="301.34" cy="209.63" r="2.85" fill="#f8e8ee" stroke="#1c1c1c" stroke-width="0.8"/>
<circle cx="290.2" cy="215.08" r="2.85" fill="#3b7dc0" stroke="#1c1c1c" stroke-width="0.8"/>
<circle cx="295.77" cy="215.08" r="2.85" fill="#3b7dc0" stroke="#1c1c1c" stroke-width="0.8"/>
<circle cx="301.34" cy="215.08" r="2.85" fill="#3b7dc0" stroke="#1c1c1c" stroke-width="0.8"/>
<text x="15.6" y="226.7" font-size="7.85" text-anchor="start" fill="#231f20" font-weight="normal" dominant-baseline="central" >CRUKP3581</text>
<rect x="66.2" y="219.8" width="6.9" height="13.0" fill="#6e0b20"/>
<rect x="75.9" y="219.8" width="6.9" height="13.0" fill="#1f7bc2"/>
<rect x="85.6" y="219.8" width="6.9" height="13.0" fill="#99999c"/>
<line x1="106.4" y1="226.9" x2="288.4" y2="226.9" stroke="#2e2e2e" stroke-width="0.9" stroke-dasharray="2.2,1.3"/>
<rect x="271.1" y="222.6" width="4.7" height="8.1" fill="#7cbb52" fill-opacity="0.72"/>
<path d="M119,222.6 L121.4,226.9 L119,231.2 L116.6,226.9 Z" fill="#f7cf2a" stroke="none" stroke-width="0"/>
<path d="M258.3,222.4 L262.9,230.8 L253.7,230.8 Z" fill="#f0a050" stroke="#3a2a20" stroke-width="0.7" stroke-linejoin="round"/>
<path d="M246.8,223.7 L253.2,230.1 M253.2,223.7 L246.8,230.1" stroke="#1e1e1e" stroke-width="1.0" fill="none"/>
<line x1="288.4" y1="223.9" x2="288.4" y2="229.9" stroke="#333" stroke-width="0.8"/>
<path d="M106.4,220.3 L113.05,226.9 L106.4,233.5 L99.75,226.9 Z" fill="#33628f" stroke="#141c28" stroke-width="0.9"/>
<text x="106.9" y="226.4" font-size="7.8" text-anchor="middle" fill="#fff" font-weight="normal" dominant-baseline="central" >2</text>
<circle cx="113.2" cy="226.9" r="2.35" fill="#0a5a2a" stroke="#1a1a1a" stroke-width="0.4"/>
<circle cx="293.1" cy="224.2" r="2.85" fill="#92501d" stroke="#1c1c1c" stroke-width="0.8"/>
<circle cx="298.67" cy="224.2" r="2.85" fill="#3f8a48" stroke="#1c1c1c" stroke-width="0.8"/>
<circle cx="304.24" cy="224.2" r="2.85" fill="#3f8a48" stroke="#1c1c1c" stroke-width="0.8"/>
<circle cx="309.81" cy="224.2" r="2.85" fill="#3f8a48" stroke="#1c1c1c" stroke-width="0.8"/>
<circle cx="315.38" cy="224.2" r="2.85" fill="#3f8a48" stroke="#1c1c1c" stroke-width="0.8"/>
<circle cx="320.95" cy="224.2" r="2.85" fill="#3b7dc0" stroke="#1c1c1c" stroke-width="0.8"/>
<circle cx="326.52" cy="224.2" r="2.85" fill="#3b7dc0" stroke="#1c1c1c" stroke-width="0.8"/>
<circle cx="332.09" cy="224.2" r="2.85" fill="#3b7dc0" stroke="#1c1c1c" stroke-width="0.8"/>
<circle cx="337.66" cy="224.2" r="2.85" fill="#3b7dc0" stroke="#1c1c1c" stroke-width="0.8"/>
<circle cx="343.23" cy="224.2" r="2.85" fill="#b5245c" stroke="#1c1c1c" stroke-width="0.8"/>
<circle cx="348.8" cy="224.2" r="2.85" fill="#b5245c" stroke="#1c1c1c" stroke-width="0.8"/>
<circle cx="354.37" cy="224.2" r="2.85" fill="#b5245c" stroke="#1c1c1c" stroke-width="0.8"/>
<circle cx="359.94" cy="224.2" r="2.85" fill="#b5245c" stroke="#1c1c1c" stroke-width="0.8"/>
<circle cx="365.51" cy="224.2" r="2.85" fill="#b5245c" stroke="#1c1c1c" stroke-width="0.8"/>
<circle cx="371.08" cy="224.2" r="2.85" fill="#b5245c" stroke="#1c1c1c" stroke-width="0.8"/>
<circle cx="376.65" cy="224.2" r="2.85" fill="#d96a90" stroke="#1c1c1c" stroke-width="0.8"/>
<circle cx="382.22" cy="224.2" r="2.85" fill="#d96a90" stroke="#1c1c1c" stroke-width="0.8"/>
<circle cx="293.1" cy="229.65" r="2.85" fill="#efb0b0" stroke="#1c1c1c" stroke-width="0.8"/>
<circle cx="298.67" cy="229.65" r="2.85" fill="#efb0b0" stroke="#1c1c1c" stroke-width="0.8"/>
<circle cx="304.24" cy="229.65" r="2.85" fill="#a3519e" stroke="#1c1c1c" stroke-width="0.8"/>
<circle cx="309.81" cy="229.65" r="2.85" fill="#a3519e" stroke="#1c1c1c" stroke-width="0.8"/>
<circle cx="315.38" cy="229.65" r="2.85" fill="#a3519e" stroke="#1c1c1c" stroke-width="0.8"/>
<circle cx="320.95" cy="229.65" r="2.85" fill="#f5d000" stroke="#1c1c1c" stroke-width="0.8"/>
<circle cx="326.52" cy="229.65" r="2.85" fill="#f5d000" stroke="#1c1c1c" stroke-width="0.8"/>
<circle cx="332.09" cy="229.65" r="2.85" fill="#f5d000" stroke="#1c1c1c" stroke-width="0.8"/>
<circle cx="337.66" cy="229.65" r="2.85" fill="#d8d0c8" stroke="#1c1c1c" stroke-width="0.8"/>
<circle cx="343.23" cy="229.65" r="2.85" fill="#d8d0c8" stroke="#1c1c1c" stroke-width="0.8"/>
<circle cx="348.8" cy="229.65" r="2.85" fill="#e8553d" stroke="#1c1c1c" stroke-width="0.8"/>
<circle cx="354.37" cy="229.65" r="2.85" fill="#92501d" stroke="#1c1c1c" stroke-width="0.8"/>
<circle cx="359.94" cy="229.65" r="2.85" fill="#92501d" stroke="#1c1c1c" stroke-width="0.8"/>
<circle cx="365.51" cy="229.65" r="2.85" fill="#92501d" stroke="#1c1c1c" stroke-width="0.8"/>
<circle cx="371.08" cy="229.65" r="2.85" fill="#92501d" stroke="#1c1c1c" stroke-width="0.8"/>
<circle cx="376.65" cy="229.65" r="2.85" fill="#92501d" stroke="#1c1c1c" stroke-width="0.8"/>
<text x="15.6" y="241.27" font-size="7.85" text-anchor="start" fill="#231f20" font-weight="normal" dominant-baseline="central" >CRUKP3358</text>
<rect x="66.2" y="234.37" width="6.9" height="13.0" fill="#6e0b20"/>
<rect x="75.9" y="234.37" width="6.9" height="13.0" fill="#60a8da"/>
<rect x="85.6" y="234.37" width="6.9" height="13.0" fill="#99999c"/>
<line x1="106.4" y1="241.47" x2="351.4" y2="241.47" stroke="#2e2e2e" stroke-width="0.9" stroke-dasharray="2.2,1.3"/>
<rect x="175.1" y="237.17" width="169.3" height="8.1" fill="#7cbb52" fill-opacity="0.72"/>
<circle cx="116.7" cy="241.47" r="2.45" fill="#9a9a9a" stroke="#ffffff" stroke-width="0.45"/>
<circle cx="121.2" cy="241.47" r="2.45" fill="#9a9a9a" stroke="#ffffff" stroke-width="0.45"/>
<circle cx="126.5" cy="241.47" r="2.45" fill="#9a9a9a" stroke="#ffffff" stroke-width="0.45"/>
<circle cx="132.4" cy="241.47" r="2.45" fill="#9a9a9a" stroke="#ffffff" stroke-width="0.45"/>
<rect x="329.5" y="236.87" width="9.2" height="9.2" fill="#e07a80" stroke="#3a2a2a" stroke-width="0.7"/>
<path d="M163.5,238.27 L169.9,244.67 M169.9,238.27 L163.5,244.67" stroke="#1e1e1e" stroke-width="1.0" fill="none"/>
<line x1="351.4" y1="238.47" x2="351.4" y2="244.47" stroke="#333" stroke-width="0.8"/>
<path d="M106.4,234.87 L113.05,241.47 L106.4,248.07 L99.75,241.47 Z" fill="#33628f" stroke="#141c28" stroke-width="0.9"/>
<text x="106.9" y="240.97" font-size="7.8" text-anchor="middle" fill="#fff" font-weight="normal" dominant-baseline="central" >4</text>
<circle cx="356.1" cy="238.77" r="2.85" fill="#3b7dc0" stroke="#1c1c1c" stroke-width="0.8"/>
<circle cx="361.67" cy="238.77" r="2.85" fill="#3b7dc0" stroke="#1c1c1c" stroke-width="0.8"/>
<circle cx="367.24" cy="238.77" r="2.85" fill="#3b7dc0" stroke="#1c1c1c" stroke-width="0.8"/>
<circle cx="372.81" cy="238.77" r="2.85" fill="#3b7dc0" stroke="#1c1c1c" stroke-width="0.8"/>
<circle cx="378.38" cy="238.77" r="2.85" fill="#3b7dc0" stroke="#1c1c1c" stroke-width="0.8"/>
<circle cx="383.95" cy="238.77" r="2.85" fill="#3b7dc0" stroke="#1c1c1c" stroke-width="0.8"/>
<circle cx="389.52" cy="238.77" r="2.85" fill="#3b7dc0" stroke="#1c1c1c" stroke-width="0.8"/>
<circle cx="395.09" cy="238.77" r="2.85" fill="#3b7dc0" stroke="#1c1c1c" stroke-width="0.8"/>
<circle cx="356.1" cy="244.22" r="2.85" fill="#3f8a48" stroke="#1c1c1c" stroke-width="0.8"/>
<circle cx="361.67" cy="244.22" r="2.85" fill="#3f8a48" stroke="#1c1c1c" stroke-width="0.8"/>
<circle cx="367.24" cy="244.22" r="2.85" fill="#3f8a48" stroke="#1c1c1c" stroke-width="0.8"/>
<circle cx="372.81" cy="244.22" r="2.85" fill="#3f8a48" stroke="#1c1c1c" stroke-width="0.8"/>
<circle cx="378.38" cy="244.22" r="2.85" fill="#3f8a48" stroke="#1c1c1c" stroke-width="0.8"/>
<circle cx="383.95" cy="244.22" r="2.85" fill="#3b7dc0" stroke="#1c1c1c" stroke-width="0.8"/>
<circle cx="389.52" cy="244.22" r="2.85" fill="#3b7dc0" stroke="#1c1c1c" stroke-width="0.8"/>
<text x="15.6" y="255.84" font-size="7.85" text-anchor="start" fill="#231f20" font-weight="normal" dominant-baseline="central" >CRUKP2432</text>
<rect x="66.2" y="248.94" width="6.9" height="13.0" fill="#c4c4c6"/>
<rect x="75.9" y="248.94" width="6.9" height="13.0" fill="#60a8da"/>
<rect x="85.6" y="248.94" width="6.9" height="13.0" fill="#1f7ac0"/>
<line x1="106.4" y1="256.04" x2="362" y2="256.04" stroke="#7c7c7c" stroke-width="1.2" stroke-dasharray="2.4,1.2"/>
<rect x="299" y="252.54" width="8.2" height="3.6" fill="#e3402a" fill-opacity="0.78"/>
<rect x="299" y="256.14" width="8.2" height="3.6" fill="#2a6ac0" fill-opacity="0.78"/>
<rect x="334.6" y="251.74" width="3.7" height="8.1" fill="#e3402a" fill-opacity="0.78"/>
<circle cx="117.9" cy="256.04" r="2.45" fill="#9a9a9a" stroke="#ffffff" stroke-width="0.45"/>
<circle cx="122.6" cy="256.04" r="2.45" fill="#9a9a9a" stroke="#ffffff" stroke-width="0.45"/>
<path d="M134,251.74 L136.4,256.04 L134,260.34 L131.6,256.04 Z" fill="#f7cf2a" stroke="none" stroke-width="0"/>
<path d="M167.2,251.74 L169.6,256.04 L167.2,260.34 L164.8,256.04 Z" fill="#f7cf2a" stroke="none" stroke-width="0"/>
<path d="M195,251.74 L197.4,256.04 L195,260.34 L192.6,256.04 Z" fill="#f7cf2a" stroke="none" stroke-width="0"/>
<path d="M230.6,251.74 L233,256.04 L230.6,260.34 L228.2,256.04 Z" fill="#f7cf2a" stroke="none" stroke-width="0"/>
<path d="M254.2,251.74 L256.6,256.04 L254.2,260.34 L251.8,256.04 Z" fill="#f7cf2a" stroke="none" stroke-width="0"/>
<path d="M124.5,252.84 L130.9,259.24 M130.9,252.84 L124.5,259.24" stroke="#1e1e1e" stroke-width="1.0" fill="none"/>
<line x1="362" y1="253.04" x2="362" y2="259.04" stroke="#aaa" stroke-width="0.8"/>
<path d="M106.4,249.44 L113.05,256.04 L106.4,262.64 L99.75,256.04 Z" fill="#33628f" stroke="#141c28" stroke-width="0.9"/>
<text x="106.9" y="255.54" font-size="7.8" text-anchor="middle" fill="#fff" font-weight="normal" dominant-baseline="central" >8</text>
<circle cx="366.6" cy="253.34" r="2.85" fill="#3b7dc0" stroke="#1c1c1c" stroke-width="0.8"/>
<circle cx="372.17" cy="253.34" r="2.85" fill="#3b7dc0" stroke="#1c1c1c" stroke-width="0.8"/>
<circle cx="377.74" cy="253.34" r="2.85" fill="#3b7dc0" stroke="#1c1c1c" stroke-width="0.8"/>
<circle cx="383.31" cy="253.34" r="2.85" fill="#3b7dc0" stroke="#1c1c1c" stroke-width="0.8"/>
<circle cx="388.88" cy="253.34" r="2.85" fill="#3b7dc0" stroke="#1c1c1c" stroke-width="0.8"/>
<circle cx="394.45" cy="253.34" r="2.85" fill="#3b7dc0" stroke="#1c1c1c" stroke-width="0.8"/>
<circle cx="400.02" cy="253.34" r="2.85" fill="#3b7dc0" stroke="#1c1c1c" stroke-width="0.8"/>
<circle cx="366.6" cy="258.79" r="2.85" fill="#e8553d" stroke="#1c1c1c" stroke-width="0.8"/>
<circle cx="372.17" cy="258.79" r="2.85" fill="#3b7dc0" stroke="#1c1c1c" stroke-width="0.8"/>
<circle cx="377.74" cy="258.79" r="2.85" fill="#3b7dc0" stroke="#1c1c1c" stroke-width="0.8"/>
<circle cx="383.31" cy="258.79" r="2.85" fill="#3b7dc0" stroke="#1c1c1c" stroke-width="0.8"/>
<circle cx="388.88" cy="258.79" r="2.85" fill="#3b7dc0" stroke="#1c1c1c" stroke-width="0.8"/>
<circle cx="394.45" cy="258.79" r="2.85" fill="#3b7dc0" stroke="#1c1c1c" stroke-width="0.8"/>
<circle cx="400.02" cy="258.79" r="2.85" fill="#3b7dc0" stroke="#1c1c1c" stroke-width="0.8"/>
<text x="15.6" y="270.41" font-size="7.85" text-anchor="start" fill="#231f20" font-weight="normal" dominant-baseline="central" >CRUKP7741</text>
<rect x="66.2" y="263.51" width="6.9" height="13.0" fill="#c4c4c6"/>
<rect x="75.9" y="263.51" width="6.9" height="13.0" fill="#c6daef"/>
<rect x="85.6" y="263.51" width="6.9" height="13.0" fill="#404040"/>
<line x1="106.4" y1="270.61" x2="373.6" y2="270.61" stroke="#2e2e2e" stroke-width="0.9" stroke-dasharray="2.2,1.3"/>
<rect x="320.1" y="266.31" width="14.5" height="8.1" fill="#e3402a" fill-opacity="0.78"/>
<path d="M244.6,266.11 L249.2,274.51 L240,274.51 Z" fill="#f0a050" stroke="#3a2a20" stroke-width="0.7" stroke-linejoin="round"/>
<path d="M253.7,266.31 L256.1,270.61 L253.7,274.91 L251.3,270.61 Z" fill="#f7cf2a" stroke="none" stroke-width="0"/>
<path d="M240.3,267.41 L246.7,273.81 M246.7,267.41 L240.3,273.81" stroke="#1e1e1e" stroke-width="1.0" fill="none"/>
<line x1="373.6" y1="267.61" x2="373.6" y2="273.61" stroke="#333" stroke-width="0.8"/>
<path d="M106.4,264.01 L113.05,270.61 L106.4,277.21 L99.75,270.61 Z" fill="#33628f" stroke="#141c28" stroke-width="0.9"/>
<text x="106.9" y="270.11" font-size="7.8" text-anchor="middle" fill="#fff" font-weight="normal" dominant-baseline="central" >2</text>
<circle cx="378" cy="267.91" r="2.85" fill="#3b7dc0" stroke="#1c1c1c" stroke-width="0.8"/>
<circle cx="383.57" cy="267.91" r="2.85" fill="#3b7dc0" stroke="#1c1c1c" stroke-width="0.8"/>
<circle cx="378" cy="273.36" r="2.85" fill="#3b7dc0" stroke="#1c1c1c" stroke-width="0.8"/>
<text x="15.6" y="284.98" font-size="7.85" text-anchor="start" fill="#231f20" font-weight="normal" dominant-baseline="central" >CRUKP9198</text>
<rect x="66.2" y="278.08" width="6.9" height="13.0" fill="#6e0b20"/>
<rect x="75.9" y="278.08" width="6.9" height="13.0" fill="#1f7bc2"/>
<rect x="85.6" y="278.08" width="6.9" height="13.0" fill="#99999c"/>
<line x1="106.4" y1="285.18" x2="385.2" y2="285.18" stroke="#7c7c7c" stroke-width="1.2" stroke-dasharray="2.4,1.2"/>
<rect x="179.1" y="280.88" width="118.8" height="8.1" fill="#2a6ac0" fill-opacity="0.78"/>
<rect x="300.9" y="280.88" width="80.3" height="8.1" fill="#2a6ac0" fill-opacity="0.78"/>
<path d="M161.2,281.98 L167.6,288.38 M167.6,281.98 L161.2,288.38" stroke="#1e1e1e" stroke-width="1.0" fill="none"/>
<line x1="385.2" y1="282.18" x2="385.2" y2="288.18" stroke="#aaa" stroke-width="0.8"/>
<path d="M106.4,278.58 L113.05,285.18 L106.4,291.78 L99.75,285.18 Z" fill="#33628f" stroke="#141c28" stroke-width="0.9"/>
<text x="106.9" y="284.68" font-size="7.8" text-anchor="middle" fill="#fff" font-weight="normal" dominant-baseline="central" >5</text>
<circle cx="390.3" cy="282.48" r="2.85" fill="#3b7dc0" stroke="#1c1c1c" stroke-width="0.8"/>
<circle cx="395.87" cy="282.48" r="2.85" fill="#3b7dc0" stroke="#1c1c1c" stroke-width="0.8"/>
<circle cx="401.44" cy="282.48" r="2.85" fill="#3b7dc0" stroke="#1c1c1c" stroke-width="0.8"/>
<circle cx="407.01" cy="282.48" r="2.85" fill="#3b7dc0" stroke="#1c1c1c" stroke-width="0.8"/>
<circle cx="412.58" cy="282.48" r="2.85" fill="#3b7dc0" stroke="#1c1c1c" stroke-width="0.8"/>
<circle cx="418.15" cy="282.48" r="2.85" fill="#3b7dc0" stroke="#1c1c1c" stroke-width="0.8"/>
<circle cx="423.72" cy="282.48" r="2.85" fill="#3b7dc0" stroke="#1c1c1c" stroke-width="0.8"/>
<circle cx="390.3" cy="287.93" r="2.85" fill="#3f8a48" stroke="#1c1c1c" stroke-width="0.8"/>
<circle cx="395.87" cy="287.93" r="2.85" fill="#3b7dc0" stroke="#1c1c1c" stroke-width="0.8"/>
<circle cx="401.44" cy="287.93" r="2.85" fill="#3b7dc0" stroke="#1c1c1c" stroke-width="0.8"/>
<circle cx="407.01" cy="287.93" r="2.85" fill="#3b7dc0" stroke="#1c1c1c" stroke-width="0.8"/>
<circle cx="412.58" cy="287.93" r="2.85" fill="#3b7dc0" stroke="#1c1c1c" stroke-width="0.8"/>
<circle cx="418.15" cy="287.93" r="2.85" fill="#3b7dc0" stroke="#1c1c1c" stroke-width="0.8"/>
<text x="15.6" y="299.55" font-size="7.85" text-anchor="start" fill="#231f20" font-weight="normal" dominant-baseline="central" >CRUKP6672</text>
<rect x="66.2" y="292.65" width="6.9" height="13.0" fill="#1f3466"/>
<rect x="75.9" y="292.65" width="6.9" height="13.0" fill="#c6daef"/>
<rect x="85.6" y="292.65" width="6.9" height="13.0" fill="#404040"/>
<line x1="106.4" y1="299.75" x2="402.2" y2="299.75" stroke="#2e2e2e" stroke-width="0.9" stroke-dasharray="2.2,1.3"/>
<rect x="293.2" y="295.45" width="11.7" height="8.1" fill="#e3402a" fill-opacity="0.78"/>
<rect x="325.9" y="295.45" width="62.1" height="8.1" fill="#2a6ac0" fill-opacity="0.78"/>
<path d="M236.8,295.45 L239.2,299.75 L236.8,304.05 L234.4,299.75 Z" fill="#f7cf2a" stroke="none" stroke-width="0"/>
<path d="M210.9,296.55 L217.3,302.95 M217.3,296.55 L210.9,302.95" stroke="#1e1e1e" stroke-width="1.0" fill="none"/>
<line x1="402.2" y1="296.75" x2="402.2" y2="302.75" stroke="#333" stroke-width="0.8"/>
<path d="M106.4,293.15 L113.05,299.75 L106.4,306.35 L99.75,299.75 Z" fill="#33628f" stroke="#141c28" stroke-width="0.9"/>
<text x="106.9" y="299.25" font-size="7.8" text-anchor="middle" fill="#fff" font-weight="normal" dominant-baseline="central" >3</text>
<circle cx="406.9" cy="297.05" r="2.85" fill="#3f8a48" stroke="#1c1c1c" stroke-width="0.8"/>
<circle cx="412.47" cy="297.05" r="2.85" fill="#3b7dc0" stroke="#1c1c1c" stroke-width="0.8"/>
<circle cx="406.9" cy="302.5" r="2.85" fill="#3f8a48" stroke="#1c1c1c" stroke-width="0.8"/>
<text x="15.6" y="314.12" font-size="7.85" text-anchor="start" fill="#231f20" font-weight="normal" dominant-baseline="central" >CRUKP2037</text>
<rect x="66.2" y="307.22" width="6.9" height="13.0" fill="#1f3466"/>
<rect x="75.9" y="307.22" width="6.9" height="13.0" fill="#eef0f7"/>
<rect x="85.6" y="307.22" width="6.9" height="13.0" fill="#99999c"/>
<line x1="106.4" y1="314.32" x2="413.2" y2="314.32" stroke="#7c7c7c" stroke-width="1.2" stroke-dasharray="2.4,1.2"/>
<rect x="315.4" y="310.02" width="16.4" height="8.1" fill="#2a6ac0" fill-opacity="0.78"/>
<path d="M306.1,309.82 L310.7,318.22 L301.5,318.22 Z" fill="#f0a050" stroke="#3a2a20" stroke-width="0.7" stroke-linejoin="round"/>
<path d="M289.6,311.12 L296,317.52 M296,311.12 L289.6,317.52" stroke="#1e1e1e" stroke-width="1.0" fill="none"/>
<line x1="413.2" y1="311.32" x2="413.2" y2="317.32" stroke="#aaa" stroke-width="0.8"/>
<path d="M106.4,307.72 L113.05,314.32 L106.4,320.92 L99.75,314.32 Z" fill="#33628f" stroke="#141c28" stroke-width="0.9"/>
<text x="106.9" y="313.82" font-size="7.8" text-anchor="middle" fill="#fff" font-weight="normal" dominant-baseline="central" >3</text>
<circle cx="417.4" cy="311.62" r="2.85" fill="#3f8a48" stroke="#1c1c1c" stroke-width="0.8"/>
<circle cx="422.97" cy="311.62" r="2.85" fill="#3f8a48" stroke="#1c1c1c" stroke-width="0.8"/>
<circle cx="428.54" cy="311.62" r="2.85" fill="#3f8a48" stroke="#1c1c1c" stroke-width="0.8"/>
<circle cx="434.11" cy="311.62" r="2.85" fill="#3f8a48" stroke="#1c1c1c" stroke-width="0.8"/>
<circle cx="439.68" cy="311.62" r="2.85" fill="#3f8a48" stroke="#1c1c1c" stroke-width="0.8"/>
<circle cx="417.4" cy="317.07" r="2.85" fill="#3f8a48" stroke="#1c1c1c" stroke-width="0.8"/>
<circle cx="422.97" cy="317.07" r="2.85" fill="#3f8a48" stroke="#1c1c1c" stroke-width="0.8"/>
<circle cx="428.54" cy="317.07" r="2.85" fill="#3f8a48" stroke="#1c1c1c" stroke-width="0.8"/>
<circle cx="434.11" cy="317.07" r="2.85" fill="#3f8a48" stroke="#1c1c1c" stroke-width="0.8"/>
<circle cx="439.68" cy="317.07" r="2.85" fill="#3f8a48" stroke="#1c1c1c" stroke-width="0.8"/>
<text x="15.6" y="328.69" font-size="7.85" text-anchor="start" fill="#231f20" font-weight="normal" dominant-baseline="central" >CRUKP4213</text>
<rect x="66.2" y="321.79" width="6.9" height="13.0" fill="#6e0b20"/>
<rect x="75.9" y="321.79" width="6.9" height="13.0" fill="#c6daef"/>
<rect x="85.6" y="321.79" width="6.9" height="13.0" fill="#99999c"/>
<line x1="106.4" y1="328.89" x2="443.5" y2="328.89" stroke="#2e2e2e" stroke-width="0.9" stroke-dasharray="2.2,1.3"/>
<rect x="217" y="324.59" width="14.7" height="8.1" fill="#e3402a" fill-opacity="0.78"/>
<circle cx="116.7" cy="328.89" r="2.45" fill="#9a9a9a" stroke="#ffffff" stroke-width="0.45"/>
<circle cx="121.9" cy="328.89" r="2.45" fill="#9a9a9a" stroke="#ffffff" stroke-width="0.45"/>
<path d="M207.4,325.69 L213.8,332.09 M213.8,325.69 L207.4,332.09" stroke="#1e1e1e" stroke-width="1.0" fill="none"/>
<line x1="443.5" y1="325.89" x2="443.5" y2="331.89" stroke="#333" stroke-width="0.8"/>
<path d="M106.4,322.29 L113.05,328.89 L106.4,335.49 L99.75,328.89 Z" fill="#33628f" stroke="#141c28" stroke-width="0.9"/>
<text x="106.9" y="328.39" font-size="7.8" text-anchor="middle" fill="#fff" font-weight="normal" dominant-baseline="central" >3</text>
<circle cx="448.2" cy="326.19" r="2.85" fill="#3b7dc0" stroke="#1c1c1c" stroke-width="0.8"/>
<circle cx="453.77" cy="326.19" r="2.85" fill="#3b7dc0" stroke="#1c1c1c" stroke-width="0.8"/>
<circle cx="459.34" cy="326.19" r="2.85" fill="#3b7dc0" stroke="#1c1c1c" stroke-width="0.8"/>
<circle cx="448.2" cy="331.64" r="2.85" fill="#3b7dc0" stroke="#1c1c1c" stroke-width="0.8"/>
<circle cx="453.77" cy="331.64" r="2.85" fill="#3b7dc0" stroke="#1c1c1c" stroke-width="0.8"/>
<circle cx="459.34" cy="331.64" r="2.85" fill="#3b7dc0" stroke="#1c1c1c" stroke-width="0.8"/>
<text x="15.6" y="343.26" font-size="7.85" text-anchor="start" fill="#231f20" font-weight="normal" dominant-baseline="central" >CRUKP0294</text>
<rect x="66.2" y="336.36" width="6.9" height="13.0" fill="#1f3466"/>
<rect x="75.9" y="336.36" width="6.9" height="13.0" fill="#60a8da"/>
<rect x="85.6" y="336.36" width="6.9" height="13.0" fill="#99999c"/>
<line x1="106.4" y1="343.46" x2="602.1" y2="343.46" stroke="#2e2e2e" stroke-width="0.9" stroke-dasharray="2.2,1.3"/>
<rect x="341.1" y="339.16" width="22.9" height="8.1" fill="#e3402a" fill-opacity="0.78"/>
<rect x="369.1" y="339.16" width="2.9" height="8.1" fill="#2a6ac0" fill-opacity="0.78"/>
<rect x="395.9" y="339.16" width="12.8" height="8.1" fill="#e3402a" fill-opacity="0.78"/>
<rect x="419.2" y="339.96" width="7.1" height="3.6" fill="#e3402a" fill-opacity="0.78"/>
<rect x="419.2" y="343.56" width="7.1" height="3.6" fill="#6b56ab" fill-opacity="0.75"/>
<circle cx="114.2" cy="343.46" r="2.45" fill="#9a9a9a" stroke="#ffffff" stroke-width="0.45"/>
<circle cx="130" cy="343.46" r="2.45" fill="#9a9a9a" stroke="#ffffff" stroke-width="0.45"/>
<circle cx="132.4" cy="343.46" r="2.45" fill="#9a9a9a" stroke="#ffffff" stroke-width="0.45"/>
<path d="M319.6,338.96 L324.2,347.36 L315,347.36 Z" fill="#f0a050" stroke="#3a2a20" stroke-width="0.7" stroke-linejoin="round"/>
<rect x="428.4" y="338.86" width="9.2" height="9.2" fill="#e07a80" stroke="#3a2a2a" stroke-width="0.7"/>
<path d="M530.3,339.56 L532.5,343.46 L530.3,347.36 L528.1,343.46 Z" fill="#a0381a" stroke="none" stroke-width="0"/>
<path d="M534.5,339.16 L536.9,343.46 L534.5,347.76 L532.1,343.46 Z" fill="#f7cf2a" stroke="none" stroke-width="0"/>
<path d="M315.3,340.26 L321.7,346.66 M321.7,340.26 L315.3,346.66" stroke="#1e1e1e" stroke-width="1.0" fill="none"/>
<line x1="602.1" y1="340.46" x2="602.1" y2="346.46" stroke="#333" stroke-width="0.8"/>
<path d="M106.4,336.86 L113.05,343.46 L106.4,350.06 L99.75,343.46 Z" fill="#33628f" stroke="#141c28" stroke-width="0.9"/>
<text x="106.9" y="342.96" font-size="7.8" text-anchor="middle" fill="#fff" font-weight="normal" dominant-baseline="central" >2</text>
<circle cx="606.3" cy="340.76" r="2.85" fill="#3f8a48" stroke="#1c1c1c" stroke-width="0.8"/>
<circle cx="611.87" cy="340.76" r="2.85" fill="#3f8a48" stroke="#1c1c1c" stroke-width="0.8"/>
<circle cx="617.44" cy="340.76" r="2.85" fill="#3f8a48" stroke="#1c1c1c" stroke-width="0.8"/>
<circle cx="623.01" cy="340.76" r="2.85" fill="#3f8a48" stroke="#1c1c1c" stroke-width="0.8"/>
<circle cx="628.58" cy="340.76" r="2.85" fill="#3f8a48" stroke="#1c1c1c" stroke-width="0.8"/>
<circle cx="634.15" cy="340.76" r="2.85" fill="#3f8a48" stroke="#1c1c1c" stroke-width="0.8"/>
<circle cx="639.72" cy="340.76" r="2.85" fill="#3b7dc0" stroke="#1c1c1c" stroke-width="0.8"/>
<circle cx="645.29" cy="340.76" r="2.85" fill="#3b7dc0" stroke="#1c1c1c" stroke-width="0.8"/>
<circle cx="650.86" cy="340.76" r="2.85" fill="#3b7dc0" stroke="#1c1c1c" stroke-width="0.8"/>
<circle cx="606.3" cy="346.21" r="2.85" fill="#e8553d" stroke="#1c1c1c" stroke-width="0.8"/>
<circle cx="611.87" cy="346.21" r="2.85" fill="#92501d" stroke="#1c1c1c" stroke-width="0.8"/>
<circle cx="617.44" cy="346.21" r="2.85" fill="#92501d" stroke="#1c1c1c" stroke-width="0.8"/>
<circle cx="623.01" cy="346.21" r="2.85" fill="#92501d" stroke="#1c1c1c" stroke-width="0.8"/>
<circle cx="628.58" cy="346.21" r="2.85" fill="#92501d" stroke="#1c1c1c" stroke-width="0.8"/>
<circle cx="634.15" cy="346.21" r="2.85" fill="#92501d" stroke="#1c1c1c" stroke-width="0.8"/>
<circle cx="639.72" cy="346.21" r="2.85" fill="#92501d" stroke="#1c1c1c" stroke-width="0.8"/>
<circle cx="645.29" cy="346.21" r="2.85" fill="#3f8a48" stroke="#1c1c1c" stroke-width="0.8"/>
<circle cx="650.86" cy="346.21" r="2.85" fill="#3f8a48" stroke="#1c1c1c" stroke-width="0.8"/>
<text transform="translate(69.6,355) rotate(-90)" font-size="7.85" text-anchor="end" fill="#231f20" dominant-baseline="central">Histology</text>
<text transform="translate(79.3,355) rotate(-90)" font-size="7.85" text-anchor="end" fill="#231f20" dominant-baseline="central">Stage</text>
<text transform="translate(88.6,355) rotate(-90)" font-size="7.85" text-anchor="end" fill="#231f20" dominant-baseline="central">Smoking</text>
<text transform="translate(7.2,175) rotate(-90)" font-size="7.85" text-anchor="middle" fill="#231f20" dominant-baseline="central">Patient</text>
<line x1="106.4" y1="350.8" x2="662.51" y2="350.8" stroke="#c4c4c4" stroke-width="1"/>
<line x1="106.4" y1="350.8" x2="106.4" y2="354" stroke="#999" stroke-width="0.7"/>
<text x="106.4" y="361.6" font-size="7.85" text-anchor="middle" fill="#231f20" font-weight="normal" dominant-baseline="central" >0</text>
<line x1="199.09" y1="350.8" x2="199.09" y2="354" stroke="#999" stroke-width="0.7"/>
<text x="199.09" y="361.6" font-size="7.85" text-anchor="middle" fill="#231f20" font-weight="normal" dominant-baseline="central" >500</text>
<line x1="291.77" y1="350.8" x2="291.77" y2="354" stroke="#999" stroke-width="0.7"/>
<text x="291.77" y="361.6" font-size="7.85" text-anchor="middle" fill="#231f20" font-weight="normal" dominant-baseline="central" >1,000</text>
<line x1="384.46" y1="350.8" x2="384.46" y2="354" stroke="#999" stroke-width="0.7"/>
<text x="384.46" y="361.6" font-size="7.85" text-anchor="middle" fill="#231f20" font-weight="normal" dominant-baseline="central" >1,500</text>
<line x1="477.14" y1="350.8" x2="477.14" y2="354" stroke="#999" stroke-width="0.7"/>
<text x="477.14" y="361.6" font-size="7.85" text-anchor="middle" fill="#231f20" font-weight="normal" dominant-baseline="central" >2,000</text>
<line x1="569.83" y1="350.8" x2="569.83" y2="354" stroke="#999" stroke-width="0.7"/>
<text x="569.83" y="361.6" font-size="7.85" text-anchor="middle" fill="#231f20" font-weight="normal" dominant-baseline="central" >2,500</text>
<line x1="662.51" y1="350.8" x2="662.51" y2="354" stroke="#999" stroke-width="0.7"/>
<text x="662.51" y="361.6" font-size="7.85" text-anchor="middle" fill="#231f20" font-weight="normal" dominant-baseline="central" >3,000</text>
<text x="378.7" y="374.2" font-size="7.85" text-anchor="middle" fill="#231f20" font-weight="normal" dominant-baseline="central" >Time after primary surgery (days)</text>
<text x="275.6" y="3.5" font-size="7.6" text-anchor="start" fill="#231f20" font-weight="normal" dominant-baseline="central" >Time point</text>
<path d="M280.3,11.75 L286.05,17.5 L280.3,23.25 L274.55,17.5 Z" fill="#33628f" stroke="#1e3550" stroke-width="0.7"/>
<text x="291.9" y="17.8" font-size="7.85" text-anchor="start" fill="#231f20" font-weight="normal" dominant-baseline="central" >Surgery</text>
<circle cx="280.3" cy="29.2" r="1.9" fill="#0a5a2a" stroke="none" stroke-width="0"/>
<text x="291.9" y="29.5" font-size="7.85" text-anchor="start" fill="#231f20" font-weight="normal" dominant-baseline="central" >Surgery LN</text>
<path d="M280.3,36.55 L284.8,45.05 L275.8,45.05 Z" fill="#f0a050" stroke="#3a2a20" stroke-width="0.7" stroke-linejoin="round"/>
<text x="291.9" y="41.3" font-size="7.85" text-anchor="start" fill="#231f20" font-weight="normal" dominant-baseline="central" >Relapse sample</text>
<rect x="276.1" y="48.2" width="8.4" height="8.4" fill="#e07a80" stroke="#3a2a2a" stroke-width="0.7"/>
<text x="291.9" y="52.7" font-size="7.85" text-anchor="start" fill="#231f20" font-weight="normal" dominant-baseline="central" >Progression sample</text>
<circle cx="280.3" cy="64" r="4.4" fill="#8e3a5c" stroke="#2a2a2a" stroke-width="0.7"/>
<text x="291.9" y="64.3" font-size="7.85" text-anchor="start" fill="#231f20" font-weight="normal" dominant-baseline="central" >Autopsy sample</text>
<path d="M276.6,78.3 L284,85.7 M284,78.3 L276.6,85.7" stroke="#1e1e1e" stroke-width="1.0" fill="none"/>
<text x="291.9" y="82.3" font-size="7.85" text-anchor="start" fill="#231f20" font-weight="normal" dominant-baseline="central" >Relapse</text>
<line x1="280.3" y1="89.8" x2="280.3" y2="97" stroke="#222" stroke-width="0.8"/>
<text x="291.9" y="93.6" font-size="7.85" text-anchor="start" fill="#231f20" font-weight="normal" dominant-baseline="central" >Death</text>
<text x="399.6" y="3.5" font-size="7.7" text-anchor="start" fill="#231f20" font-weight="normal" dominant-baseline="central" >Treatment</text>
<path d="M401.9,13.1 L404.8,17.5 L401.9,21.9 L399,17.5 Z" fill="#f7cf2a" stroke="none" stroke-width="0"/>
<text x="410.7" y="17.5" font-size="8.0" text-anchor="start" fill="#231f20" font-weight="normal" dominant-baseline="central" >Radiotherapy</text>
<rect x="398.1" y="25.5" width="7.6" height="7.4" fill="#1a6fb5"/>
<text x="410.7" y="29.2" font-size="8.0" text-anchor="start" fill="#231f20" font-weight="normal" dominant-baseline="central" >Immunotherapy</text>
<rect x="398.1" y="37.1" width="7.6" height="7.4" fill="#e31a2c"/>
<text x="410.7" y="40.8" font-size="8.0" text-anchor="start" fill="#231f20" font-weight="normal" dominant-baseline="central" >Chemotherapy</text>
<rect x="398.1" y="48.7" width="7.6" height="7.4" fill="#7cbf4c"/>
<text x="410.7" y="52.4" font-size="8.0" text-anchor="start" fill="#231f20" font-weight="normal" dominant-baseline="central" >Targeted therapy</text>
<rect x="398.1" y="60.3" width="7.6" height="7.4" fill="#7b68b0"/>
<text x="410.7" y="64" font-size="8.0" text-anchor="start" fill="#231f20" font-weight="normal" dominant-baseline="central" >Nintedanib</text>
<circle cx="401.9" cy="75.7" r="3.5" fill="#8c8c8c" stroke="none" stroke-width="0"/>
<text x="410.7" y="75.5" font-size="8.0" text-anchor="start" fill="#231f20" font-weight="normal" dominant-baseline="central" >Adjuvant chemotherapy cycle</text>
<path d="M401.9,82.9 L404.6,87.3 L401.9,91.7 L399.2,87.3 Z" fill="#a0381a" stroke="none" stroke-width="0"/>
<text x="410.7" y="87.3" font-size="8.0" text-anchor="start" fill="#231f20" font-weight="normal" dominant-baseline="central" >Metastatectomy or ablation</text>
<text x="508.5" y="4" font-size="8.0" text-anchor="start" fill="#231f20" font-weight="normal" dominant-baseline="central" >Smoking status</text>
<rect x="508.2" y="14.6" width="8.0" height="7.2" fill="#1f7ac0"/>
<text x="520.8" y="18.5" font-size="7.85" text-anchor="start" fill="#231f20" font-weight="normal" dominant-baseline="central" >Never</text>
<rect x="508.2" y="26.2" width="8.0" height="7.2" fill="#99999c"/>
<text x="520.8" y="30.1" font-size="7.85" text-anchor="start" fill="#231f20" font-weight="normal" dominant-baseline="central" >Ex</text>
<rect x="508.2" y="37.7" width="8.0" height="7.2" fill="#404040"/>
<text x="520.8" y="41.6" font-size="7.85" text-anchor="start" fill="#231f20" font-weight="normal" dominant-baseline="central" >Current</text>
<text x="595.7" y="3.7" font-size="7.85" text-anchor="start" fill="#231f20" font-weight="normal" dominant-baseline="central" >Histology</text>
<rect x="595.7" y="14.6" width="8.0" height="7.2" fill="#6e0b20"/>
<text x="608" y="18.5" font-size="7.85" text-anchor="start" fill="#231f20" font-weight="normal" dominant-baseline="central" >LUAD</text>
<rect x="595.7" y="26.2" width="8.0" height="7.2" fill="#1f3466"/>
<text x="608" y="30.1" font-size="7.85" text-anchor="start" fill="#231f20" font-weight="normal" dominant-baseline="central" >LUSC</text>
<rect x="595.7" y="37.7" width="8.0" height="7.2" fill="#c4c4c6"/>
<text x="608" y="41.6" font-size="7.85" text-anchor="start" fill="#231f20" font-weight="normal" dominant-baseline="central" >Other</text>
<text x="660" y="3.7" font-size="7.85" text-anchor="start" fill="#231f20" font-weight="normal" dominant-baseline="central" >Stage</text>
<rect x="660.1" y="14.7" width="8.0" height="7.2" fill="#eef0f7"/>
<text x="672.4" y="18.6" font-size="7.85" text-anchor="start" fill="#231f20" font-weight="normal" dominant-baseline="central" >1a</text>
<rect x="660.1" y="25.9" width="8.0" height="7.2" fill="#c6daef"/>
<text x="672.4" y="29.8" font-size="7.85" text-anchor="start" fill="#231f20" font-weight="normal" dominant-baseline="central" >1b</text>
<rect x="660.1" y="37.6" width="8.0" height="7.2" fill="#9dcae1"/>
<text x="672.4" y="41.5" font-size="7.85" text-anchor="start" fill="#231f20" font-weight="normal" dominant-baseline="central" >2a</text>
<rect x="660.1" y="49.1" width="8.0" height="7.2" fill="#60a8da"/>
<text x="672.4" y="53" font-size="7.85" text-anchor="start" fill="#231f20" font-weight="normal" dominant-baseline="central" >2b</text>
<rect x="660.1" y="60.7" width="8.0" height="7.2" fill="#1f7bc2"/>
<text x="672.4" y="64.6" font-size="7.85" text-anchor="start" fill="#231f20" font-weight="normal" dominant-baseline="central" >3a</text>
<rect x="660.1" y="72.4" width="8.0" height="7.2" fill="#0f4f9c"/>
<text x="672.4" y="76.3" font-size="7.85" text-anchor="start" fill="#231f20" font-weight="normal" dominant-baseline="central" >3b</text>
<g>
<path d="M560,122 L560,139 C559.5,142 557,144.5 553,146 C547,147.5 541,149 536,150.5 C531,152.5 529,156 528.5,162 C527,172 526,190 524.5,205 C523,225 518,245 517,255 C516,268 516,280 517,288 C520,298 528,308 540,315 C550,320 565,322.5 575.5,322.5 L575.5,310 L581,310 L581,322.5 C592,322.5 603,319 611,314.5 C620,309 628,301 633,292 C635,285 635,275 633,262 C631,250 628.5,235 628,225 C627.5,210 626.5,190 625.8,170 C625.5,160 623,153 617,150.5 C610,148.5 600,147.5 595,146 C591,144.5 588.5,142 588.5,139 L588.5,122 Z" fill="#e3e3e3"/>
<path d="M576,83 C586,83 592.5,88 593.5,97 C594,101 594,104 593.8,107 C596,106 598,108 597.5,112 C597,117 595.5,121 594,122 C593,128 590,134 585,138 L568,138 C563,134 560,128 559,122 C557.5,121 556,117 555.5,112 C555,108 557,106 559.2,107 C559,104 559,101 559.5,97 C560.5,88 566,83 576,83 Z" fill="#e2e2e2"/>
<ellipse cx="576.5" cy="114" rx="12" ry="9" fill="#d6d6d6" opacity="0.8"/>
<ellipse cx="570" cy="111" rx="3.5" ry="2.5" fill="#c8c8c8"/>
<ellipse cx="583" cy="111" rx="3.5" ry="2.5" fill="#c8c8c8"/>
<path d="M562,130 C566,136 571,139 576.5,139.5 C582,139 587,136 591,130" stroke="#c9c9c9" stroke-width="1" fill="none"/>
<path d="M571,138 L571,147 M582,138 L582,147" stroke="#cfcfcf" stroke-width="0.9" fill="none"/>
<ellipse cx="576.5" cy="131" rx="4" ry="2" fill="#cdcdcd"/>
<path d="M545,168 C555,160 600,160 610,168 L612,230 C612,260 610,290 600,305 L556,305 C546,290 543,260 543,230 Z" fill="#d6d6d6"/>
<ellipse cx="577" cy="185" rx="27" ry="22" fill="#cdcdcd"/>
<ellipse cx="577" cy="230" rx="24" ry="20" fill="#bdbdbd" opacity="0.6"/>
<ellipse cx="577" cy="270" rx="30" ry="22" fill="#e6e6e6" opacity="0.7"/>
<path d="M565,281 L592,281 L584,298 L572,298 Z" fill="#a4a4a4" opacity="0.75"/>
<path d="M541.5,208 C544,220 545.5,228 544.8,236 C543.5,250 540.5,265 536.5,277 L530.8,282 C532,270 533.8,256 535.8,242 C537.5,229 539.5,218 541.5,208 Z" fill="#fff"/>
<path d="M608,228 C612,250 617,272 623,291" stroke="#fff" stroke-width="1.8" fill="none"/>
</g>
<path d="M531.7,137.2 L573,156" stroke="#4a4a4a" stroke-width="0.6" fill="none"/>
<path d="M525.5,165.6 L539,170.5" stroke="#4a4a4a" stroke-width="0.6" fill="none"/>
<path d="M525.5,184.4 L552,199" stroke="#4a4a4a" stroke-width="0.6" fill="none"/>
<path d="M522.8,201.2 L571,220.4" stroke="#4a4a4a" stroke-width="0.6" fill="none"/>
<path d="M524.8,218.4 L548,226.5" stroke="#4a4a4a" stroke-width="0.6" fill="none"/>
<path d="M515.7,244.8 L550.5,251.9" stroke="#4a4a4a" stroke-width="0.6" fill="none"/>
<path d="M516.3,263.5 L551.5,272.2" stroke="#4a4a4a" stroke-width="0.6" fill="none"/>
<path d="M516.3,280.3 L573,286.5" stroke="#4a4a4a" stroke-width="0.6" fill="none"/>
<path d="M528.9,300.6 L552.5,305.5" stroke="#4a4a4a" stroke-width="0.6" fill="none"/>
<path d="M600.5,92 L590,95" stroke="#4a4a4a" stroke-width="0.6" fill="none"/>
<path d="M631.7,143.3 L612.5,156.5" stroke="#4a4a4a" stroke-width="0.6" fill="none"/>
<path d="M631.7,159.7 L608.5,176" stroke="#4a4a4a" stroke-width="0.6" fill="none"/>
<path d="M631.7,174.5 L590,203" stroke="#4a4a4a" stroke-width="0.6" fill="none"/>
<path d="M631.7,189.4 L609,199.5" stroke="#4a4a4a" stroke-width="0.6" fill="none"/>
<path d="M631.7,205 L604,214" stroke="#4a4a4a" stroke-width="0.6" fill="none"/>
<path d="M631.7,220.6 L584,236" stroke="#4a4a4a" stroke-width="0.6" fill="none"/>
<path d="M631.7,236.4 L604,240" stroke="#4a4a4a" stroke-width="0.6" fill="none"/>
<path d="M631.7,252 L588,255" stroke="#4a4a4a" stroke-width="0.6" fill="none"/>
<path d="M631.7,267.6 L598,264" stroke="#4a4a4a" stroke-width="0.6" fill="none"/>
<path d="M631.7,283.3 L605,279" stroke="#4a4a4a" stroke-width="0.6" fill="none"/>
<path d="M631.7,302 L601,299" stroke="#4a4a4a" stroke-width="0.6" fill="none"/>
<circle cx="581.3" cy="95.4" r="9.4" fill="#a3519e" stroke="#1e1e1e" stroke-width="0.85"/>
<text x="581.3" y="96" font-size="8.2" text-anchor="middle" fill="#fff" font-weight="normal" dominant-baseline="central" >22</text>
<circle cx="578.3" cy="159.7" r="7.6" fill="#0a5a2a" stroke="#1e1e1e" stroke-width="0.85"/>
<text x="578.3" y="160.3" font-size="7.6" text-anchor="middle" fill="#fff" font-weight="normal" dominant-baseline="central" >12</text>
<circle cx="608" cy="160.6" r="6.6" fill="#d8d0c8" stroke="#1e1e1e" stroke-width="0.85"/>
<text x="608" y="161.2" font-size="7.6" text-anchor="middle" fill="#f4f4f4" font-weight="normal" dominant-baseline="central" >7</text>
<circle cx="555" cy="171.4" r="16.8" fill="#33628f" stroke="#1e1e1e" stroke-width="0.85"/>
<text x="555" y="172" font-size="8.2" text-anchor="middle" fill="#fff" font-weight="normal" dominant-baseline="central" >108</text>
<circle cx="592.4" cy="182.8" r="18" fill="#3b7dc0" stroke="#1e1e1e" stroke-width="0.85"/>
<text x="592.4" y="183.4" font-size="8.2" text-anchor="middle" fill="#fff" font-weight="normal" dominant-baseline="central" >125</text>
<circle cx="562.6" cy="201.2" r="13.6" fill="#3f8a48" stroke="#1e1e1e" stroke-width="0.85"/>
<text x="562.6" y="201.8" font-size="8.2" text-anchor="middle" fill="#fff" font-weight="normal" dominant-baseline="central" >68</text>
<circle cx="584.5" cy="209.6" r="7.9" fill="#e8553d" stroke="#1e1e1e" stroke-width="0.85"/>
<text x="584.5" y="210.2" font-size="7.6" text-anchor="middle" fill="#fff" font-weight="normal" dominant-baseline="central" >15</text>
<circle cx="604.1" cy="203.4" r="5.6" fill="#4a9ee0" stroke="#1e1e1e" stroke-width="0.85"/>
<text x="604.1" y="204" font-size="7.6" text-anchor="middle" fill="#fff" font-weight="normal" dominant-baseline="central" >1</text>
<circle cx="598.8" cy="215.7" r="5.6" fill="#d9a0cc" stroke="#1e1e1e" stroke-width="0.85"/>
<text x="598.8" y="216.3" font-size="7.6" text-anchor="middle" fill="#fff" font-weight="normal" dominant-baseline="central" >2</text>
<circle cx="576.4" cy="221.7" r="5.5" fill="#7fb77e" stroke="#1e1e1e" stroke-width="0.85"/>
<text x="576.4" y="222.3" font-size="7.6" text-anchor="middle" fill="#fff" font-weight="normal" dominant-baseline="central" >1</text>
<circle cx="557.7" cy="228.7" r="10" fill="#92501d" stroke="#1e1e1e" stroke-width="0.85"/>
<text x="557.7" y="229.3" font-size="8.2" text-anchor="middle" fill="#fff" font-weight="normal" dominant-baseline="central" >33</text>
<circle cx="578.7" cy="237.1" r="6.1" fill="#b5121b" stroke="#1e1e1e" stroke-width="0.85"/>
<text x="578.7" y="237.7" font-size="7.6" text-anchor="middle" fill="#fff" font-weight="normal" dominant-baseline="central" >4</text>
<circle cx="598.8" cy="242" r="6.8" fill="#8b3050" stroke="#1e1e1e" stroke-width="0.85"/>
<text x="598.8" y="242.6" font-size="7.6" text-anchor="middle" fill="#fff" font-weight="normal" dominant-baseline="central" >7</text>
<circle cx="558.2" cy="251.9" r="8.1" fill="#efb0b0" stroke="#1e1e1e" stroke-width="0.85"/>
<text x="558.2" y="252.5" font-size="7.6" text-anchor="middle" fill="#fff" font-weight="normal" dominant-baseline="central" >17</text>
<circle cx="578.3" cy="257.2" r="7.3" fill="#d4a86a" stroke="#1e1e1e" stroke-width="0.85"/>
<text x="578.3" y="257.8" font-size="7.6" text-anchor="middle" fill="#fff" font-weight="normal" dominant-baseline="central" >11</text>
<circle cx="593.2" cy="265.4" r="6.7" fill="#8a6a40" stroke="#1e1e1e" stroke-width="0.85"/>
<text x="593.2" y="266" font-size="7.6" text-anchor="middle" fill="#fff" font-weight="normal" dominant-baseline="central" >7</text>
<circle cx="561.2" cy="272.6" r="10" fill="#b5245c" stroke="#1e1e1e" stroke-width="0.85"/>
<text x="561.2" y="273.2" font-size="8.2" text-anchor="middle" fill="#fff" font-weight="normal" dominant-baseline="central" >31</text>
<circle cx="599.7" cy="280.8" r="6" fill="#3b1a6e" stroke="#1e1e1e" stroke-width="0.85"/>
<text x="599.7" y="281.4" font-size="7.6" text-anchor="middle" fill="#fff" font-weight="normal" dominant-baseline="central" >2</text>
<circle cx="578.3" cy="286.4" r="5.9" fill="#f5d000" stroke="#1e1e1e" stroke-width="0.85"/>
<text x="578.3" y="287" font-size="7.6" text-anchor="middle" fill="#fff" font-weight="normal" dominant-baseline="central" >3</text>
<circle cx="593.2" cy="300.4" r="8.9" fill="#d96a90" stroke="#1e1e1e" stroke-width="0.85"/>
<text x="593.2" y="301" font-size="7.6" text-anchor="middle" fill="#fff" font-weight="normal" dominant-baseline="central" >23</text>
<circle cx="558.2" cy="307.1" r="6.3" fill="#f8e8ee" stroke="#1e1e1e" stroke-width="0.85"/>
<text x="558.2" y="307.7" font-size="7.6" text-anchor="middle" fill="#333" font-weight="normal" dominant-baseline="central" >2</text>
<path d="M609,188 L590,203" stroke="#4a4a4a" stroke-width="0.6" fill="none"/>
<text x="529.4" y="123.4" font-size="7.85" text-anchor="end" fill="#231f20" font-weight="normal" dominant-baseline="central" >Surgery</text>
<text x="529.4" y="132.6" font-size="7.85" text-anchor="end" fill="#231f20" font-weight="normal" dominant-baseline="central" >lymph node</text>
<text x="522.3" y="162.6" font-size="7.85" text-anchor="end" fill="#231f20" font-weight="normal" dominant-baseline="central" >Lung primary</text>
<text x="521.7" y="182.5" font-size="7.85" text-anchor="end" fill="#231f20" font-weight="normal" dominant-baseline="central" >Lymph node</text>
<text x="519.9" y="200" font-size="7.85" text-anchor="end" fill="#231f20" font-weight="normal" dominant-baseline="central" >Oesophagus</text>
<text x="518.9" y="219.7" font-size="7.85" text-anchor="end" fill="#231f20" font-weight="normal" dominant-baseline="central" >Liver</text>
<text x="513.8" y="245.5" font-size="7.85" text-anchor="end" fill="#231f20" font-weight="normal" dominant-baseline="central" >Adrenal</text>
<text x="514.9" y="263" font-size="7.85" text-anchor="end" fill="#231f20" font-weight="normal" dominant-baseline="central" >Peritoneum</text>
<text x="513.8" y="280" font-size="7.85" text-anchor="end" fill="#231f20" font-weight="normal" dominant-baseline="central" >Bladder</text>
<text x="524" y="300.5" font-size="7.85" text-anchor="end" fill="#231f20" font-weight="normal" dominant-baseline="central" >Subcutaneous</text>
<text x="524" y="310" font-size="7.85" text-anchor="end" fill="#231f20" font-weight="normal" dominant-baseline="central" >tissue</text>
<text x="602.5" y="91.5" font-size="7.85" text-anchor="start" fill="#231f20" font-weight="normal" dominant-baseline="central" >Brain</text>
<text x="634.1" y="142" font-size="7.85" text-anchor="start" fill="#231f20" font-weight="normal" dominant-baseline="central" >Bone</text>
<text x="634.1" y="158.1" font-size="7.85" text-anchor="start" fill="#231f20" font-weight="normal" dominant-baseline="central" >Lung</text>
<text x="634.1" y="173.6" font-size="7.85" text-anchor="start" fill="#231f20" font-weight="normal" dominant-baseline="central" >Cardiac</text>
<text x="634.1" y="189.4" font-size="7.85" text-anchor="start" fill="#231f20" font-weight="normal" dominant-baseline="central" >Pleural fluid</text>
<text x="634.1" y="205.3" font-size="7.85" text-anchor="start" fill="#231f20" font-weight="normal" dominant-baseline="central" >Breast</text>
<text x="634.1" y="220.9" font-size="7.85" text-anchor="start" fill="#231f20" font-weight="normal" dominant-baseline="central" >Gastric</text>
<text x="634.1" y="236.7" font-size="7.85" text-anchor="start" fill="#231f20" font-weight="normal" dominant-baseline="central" >Kidney</text>
<text x="634.1" y="252.3" font-size="7.85" text-anchor="start" fill="#231f20" font-weight="normal" dominant-baseline="central" >Small bowel</text>
<text x="634.1" y="267.9" font-size="7.85" text-anchor="start" fill="#231f20" font-weight="normal" dominant-baseline="central" >Large bowel</text>
<text x="634.1" y="283.6" font-size="7.85" text-anchor="start" fill="#231f20" font-weight="normal" dominant-baseline="central" >Ovary</text>
<text x="628.8" y="302.3" font-size="7.85" text-anchor="start" fill="#231f20" font-weight="normal" dominant-baseline="central" >Musculoskeletal</text>
<text x="628.8" y="311.7" font-size="7.85" text-anchor="start" fill="#231f20" font-weight="normal" dominant-baseline="central" >soft tissue</text>
<text x="-0.1" y="402.7" font-size="10.6" font-weight="bold" fill="#000">b</text>
<line x1="29" y1="400.2" x2="29" y2="587.7" stroke="#c4c4c4" stroke-width="1"/>
<line x1="25.1" y1="584.2" x2="29" y2="584.2" stroke="#999" stroke-width="0.7"/>
<text x="22.1" y="584.7" font-size="7.85" text-anchor="end" fill="#231f20" font-weight="normal" dominant-baseline="central" >0</text>
<line x1="25.1" y1="555.84" x2="29" y2="555.84" stroke="#999" stroke-width="0.7"/>
<text x="22.1" y="556.34" font-size="7.85" text-anchor="end" fill="#231f20" font-weight="normal" dominant-baseline="central" >5</text>
<line x1="25.1" y1="527.47" x2="29" y2="527.47" stroke="#999" stroke-width="0.7"/>
<text x="22.1" y="527.97" font-size="7.85" text-anchor="end" fill="#231f20" font-weight="normal" dominant-baseline="central" >10</text>
<line x1="25.1" y1="499.11" x2="29" y2="499.11" stroke="#999" stroke-width="0.7"/>
<text x="22.1" y="499.61" font-size="7.85" text-anchor="end" fill="#231f20" font-weight="normal" dominant-baseline="central" >15</text>
<line x1="25.1" y1="470.74" x2="29" y2="470.74" stroke="#999" stroke-width="0.7"/>
<text x="22.1" y="471.24" font-size="7.85" text-anchor="end" fill="#231f20" font-weight="normal" dominant-baseline="central" >20</text>
<line x1="25.1" y1="442.38" x2="29" y2="442.38" stroke="#999" stroke-width="0.7"/>
<text x="22.1" y="442.88" font-size="7.85" text-anchor="end" fill="#231f20" font-weight="normal" dominant-baseline="central" >25</text>
<line x1="25.1" y1="414.01" x2="29" y2="414.01" stroke="#999" stroke-width="0.7"/>
<text x="22.1" y="414.51" font-size="7.85" text-anchor="end" fill="#231f20" font-weight="normal" dominant-baseline="central" >30</text>
<text transform="translate(3.5,493.8) rotate(-90)" font-size="7.85" text-anchor="middle" fill="#231f20" dominant-baseline="central">Metastases</text>
<line x1="28.5" y1="587.2" x2="268.8" y2="587.2" stroke="#c4c4c4" stroke-width="1"/>
<line x1="39.9" y1="587.2" x2="39.9" y2="591" stroke="#999" stroke-width="0.7"/>
<text transform="translate(39.9,595.6) rotate(-90)" font-size="7.85" text-anchor="end" fill="#231f20" dominant-baseline="central">CRUKP4761</text>
<circle cx="39.9" cy="578.53" r="2.95" fill="#b0182c" stroke="#1e1e1e" stroke-width="0.7"/>
<circle cx="39.9" cy="572.85" r="2.95" fill="#f4bc9c" stroke="#1e1e1e" stroke-width="0.7"/>
<circle cx="39.9" cy="567.18" r="2.95" fill="#f4bc9c" stroke="#1e1e1e" stroke-width="0.7"/>
<line x1="49.83" y1="587.2" x2="49.83" y2="591" stroke="#999" stroke-width="0.7"/>
<text transform="translate(49.83,595.6) rotate(-90)" font-size="7.85" text-anchor="end" fill="#231f20" dominant-baseline="central">CRUKP8780</text>
<circle cx="49.83" cy="578.53" r="2.95" fill="#b0182c" stroke="#1e1e1e" stroke-width="0.7"/>
<circle cx="49.83" cy="572.85" r="2.95" fill="#b0182c" stroke="#1e1e1e" stroke-width="0.7"/>
<circle cx="49.83" cy="567.18" r="2.95" fill="#ffffff" stroke="#1e1e1e" stroke-width="0.7"/>
<line x1="59.76" y1="587.2" x2="59.76" y2="591" stroke="#999" stroke-width="0.7"/>
<text transform="translate(59.76,595.6) rotate(-90)" font-size="7.85" text-anchor="end" fill="#231f20" dominant-baseline="central">CRUKP0712</text>
<circle cx="59.76" cy="578.53" r="2.95" fill="#b0182c" stroke="#1e1e1e" stroke-width="0.7"/>
<circle cx="59.76" cy="572.85" r="2.95" fill="#f4bc9c" stroke="#1e1e1e" stroke-width="0.7"/>
<circle cx="59.76" cy="567.18" r="2.95" fill="#f4bc9c" stroke="#1e1e1e" stroke-width="0.7"/>
<line x1="69.69" y1="587.2" x2="69.69" y2="591" stroke="#999" stroke-width="0.7"/>
<text transform="translate(69.69,595.6) rotate(-90)" font-size="7.85" text-anchor="end" fill="#231f20" dominant-baseline="central">CRUKP2037</text>
<circle cx="69.69" cy="578.53" r="2.95" fill="#b0182c" stroke="#1e1e1e" stroke-width="0.7"/>
<circle cx="69.69" cy="572.85" r="2.95" fill="#b0182c" stroke="#1e1e1e" stroke-width="0.7"/>
<circle cx="69.69" cy="567.18" r="2.95" fill="#b0182c" stroke="#1e1e1e" stroke-width="0.7"/>
<circle cx="69.69" cy="561.51" r="2.95" fill="#ffffff" stroke="#1e1e1e" stroke-width="0.7"/>
<line x1="79.62" y1="587.2" x2="79.62" y2="591" stroke="#999" stroke-width="0.7"/>
<text transform="translate(79.62,595.6) rotate(-90)" font-size="7.85" text-anchor="end" fill="#231f20" dominant-baseline="central">CRUKP9506</text>
<circle cx="79.62" cy="578.53" r="2.95" fill="#b0182c" stroke="#1e1e1e" stroke-width="0.7"/>
<circle cx="79.62" cy="572.85" r="2.95" fill="#b0182c" stroke="#1e1e1e" stroke-width="0.7"/>
<circle cx="79.62" cy="567.18" r="2.95" fill="#ffffff" stroke="#1e1e1e" stroke-width="0.7"/>
<circle cx="79.62" cy="561.51" r="2.95" fill="#ffffff" stroke="#1e1e1e" stroke-width="0.7"/>
<line x1="89.55" y1="587.2" x2="89.55" y2="591" stroke="#999" stroke-width="0.7"/>
<text transform="translate(89.55,595.6) rotate(-90)" font-size="7.85" text-anchor="end" fill="#231f20" dominant-baseline="central">CRUKP6672</text>
<circle cx="89.55" cy="578.53" r="2.95" fill="#b0182c" stroke="#1e1e1e" stroke-width="0.7"/>
<circle cx="89.55" cy="572.85" r="2.95" fill="#f4bc9c" stroke="#1e1e1e" stroke-width="0.7"/>
<circle cx="89.55" cy="567.18" r="2.95" fill="#f4bc9c" stroke="#1e1e1e" stroke-width="0.7"/>
<circle cx="89.55" cy="561.51" r="2.95" fill="#ffffff" stroke="#1e1e1e" stroke-width="0.7"/>
<circle cx="89.55" cy="555.84" r="2.95" fill="#ffffff" stroke="#1e1e1e" stroke-width="0.7"/>
<line x1="99.48" y1="587.2" x2="99.48" y2="591" stroke="#999" stroke-width="0.7"/>
<text transform="translate(99.48,595.6) rotate(-90)" font-size="7.85" text-anchor="end" fill="#231f20" dominant-baseline="central">CRUKP1584</text>
<circle cx="99.48" cy="578.53" r="2.95" fill="#b0182c" stroke="#1e1e1e" stroke-width="0.7"/>
<circle cx="99.48" cy="572.85" r="2.95" fill="#b0182c" stroke="#1e1e1e" stroke-width="0.7"/>
<circle cx="99.48" cy="567.18" r="2.95" fill="#b0182c" stroke="#1e1e1e" stroke-width="0.7"/>
<circle cx="99.48" cy="561.51" r="2.95" fill="#b0182c" stroke="#1e1e1e" stroke-width="0.7"/>
<circle cx="99.48" cy="555.84" r="2.95" fill="#b0182c" stroke="#1e1e1e" stroke-width="0.7"/>
<line x1="109.41" y1="587.2" x2="109.41" y2="591" stroke="#999" stroke-width="0.7"/>
<text transform="translate(109.41,595.6) rotate(-90)" font-size="7.85" text-anchor="end" fill="#231f20" dominant-baseline="central">CRUKP9198</text>
<circle cx="109.41" cy="578.53" r="2.95" fill="#b0182c" stroke="#1e1e1e" stroke-width="0.7"/>
<circle cx="109.41" cy="572.85" r="2.95" fill="#b0182c" stroke="#1e1e1e" stroke-width="0.7"/>
<circle cx="109.41" cy="567.18" r="2.95" fill="#b0182c" stroke="#1e1e1e" stroke-width="0.7"/>
<circle cx="109.41" cy="561.51" r="2.95" fill="#b0182c" stroke="#1e1e1e" stroke-width="0.7"/>
<circle cx="109.41" cy="555.84" r="2.95" fill="#f4bc9c" stroke="#1e1e1e" stroke-width="0.7"/>
<line x1="119.34" y1="587.2" x2="119.34" y2="591" stroke="#999" stroke-width="0.7"/>
<text transform="translate(119.34,595.6) rotate(-90)" font-size="7.85" text-anchor="end" fill="#231f20" dominant-baseline="central">CRUKP3207</text>
<circle cx="119.34" cy="578.53" r="2.95" fill="#b0182c" stroke="#1e1e1e" stroke-width="0.7"/>
<circle cx="119.34" cy="572.85" r="2.95" fill="#b0182c" stroke="#1e1e1e" stroke-width="0.7"/>
<circle cx="119.34" cy="567.18" r="2.95" fill="#b0182c" stroke="#1e1e1e" stroke-width="0.7"/>
<circle cx="119.34" cy="561.51" r="2.95" fill="#b0182c" stroke="#1e1e1e" stroke-width="0.7"/>
<circle cx="119.34" cy="555.84" r="2.95" fill="#f4bc9c" stroke="#1e1e1e" stroke-width="0.7"/>
<line x1="129.27" y1="587.2" x2="129.27" y2="591" stroke="#999" stroke-width="0.7"/>
<text transform="translate(129.27,595.6) rotate(-90)" font-size="7.85" text-anchor="end" fill="#231f20" dominant-baseline="central">CRUKP7741</text>
<circle cx="129.27" cy="578.53" r="2.95" fill="#b0182c" stroke="#1e1e1e" stroke-width="0.7"/>
<circle cx="129.27" cy="572.85" r="2.95" fill="#b0182c" stroke="#1e1e1e" stroke-width="0.7"/>
<circle cx="129.27" cy="567.18" r="2.95" fill="#ffffff" stroke="#1e1e1e" stroke-width="0.7"/>
<circle cx="129.27" cy="561.51" r="2.95" fill="#ffffff" stroke="#1e1e1e" stroke-width="0.7"/>
<circle cx="129.27" cy="555.84" r="2.95" fill="#ffffff" stroke="#1e1e1e" stroke-width="0.7"/>
<circle cx="129.27" cy="550.16" r="2.95" fill="#ffffff" stroke="#1e1e1e" stroke-width="0.7"/>
<line x1="139.2" y1="587.2" x2="139.2" y2="591" stroke="#999" stroke-width="0.7"/>
<text transform="translate(139.2,595.6) rotate(-90)" font-size="7.85" text-anchor="end" fill="#231f20" dominant-baseline="central">CRUKP8433</text>
<circle cx="139.2" cy="578.53" r="2.95" fill="#b0182c" stroke="#1e1e1e" stroke-width="0.7"/>
<circle cx="139.2" cy="572.85" r="2.95" fill="#b0182c" stroke="#1e1e1e" stroke-width="0.7"/>
<circle cx="139.2" cy="567.18" r="2.95" fill="#b0182c" stroke="#1e1e1e" stroke-width="0.7"/>
<circle cx="139.2" cy="561.51" r="2.95" fill="#b0182c" stroke="#1e1e1e" stroke-width="0.7"/>
<circle cx="139.2" cy="555.84" r="2.95" fill="#b0182c" stroke="#1e1e1e" stroke-width="0.7"/>
<circle cx="139.2" cy="550.16" r="2.95" fill="#ffffff" stroke="#1e1e1e" stroke-width="0.7"/>
<line x1="149.13" y1="587.2" x2="149.13" y2="591" stroke="#999" stroke-width="0.7"/>
<text transform="translate(149.13,595.6) rotate(-90)" font-size="7.85" text-anchor="end" fill="#231f20" dominant-baseline="central">CRUKP7216</text>
<circle cx="149.13" cy="578.53" r="2.95" fill="#b0182c" stroke="#1e1e1e" stroke-width="0.7"/>
<circle cx="149.13" cy="572.85" r="2.95" fill="#b0182c" stroke="#1e1e1e" stroke-width="0.7"/>
<circle cx="149.13" cy="567.18" r="2.95" fill="#ffffff" stroke="#1e1e1e" stroke-width="0.7"/>
<circle cx="149.13" cy="561.51" r="2.95" fill="#ffffff" stroke="#1e1e1e" stroke-width="0.7"/>
<circle cx="149.13" cy="555.84" r="2.95" fill="#ffffff" stroke="#1e1e1e" stroke-width="0.7"/>
<circle cx="149.13" cy="550.16" r="2.95" fill="#ffffff" stroke="#1e1e1e" stroke-width="0.7"/>
<circle cx="149.13" cy="544.49" r="2.95" fill="#ffffff" stroke="#1e1e1e" stroke-width="0.7"/>
<line x1="159.06" y1="587.2" x2="159.06" y2="591" stroke="#999" stroke-width="0.7"/>
<text transform="translate(159.06,595.6) rotate(-90)" font-size="7.85" text-anchor="end" fill="#231f20" dominant-baseline="central">CRUKP3358</text>
<circle cx="159.06" cy="578.53" r="2.95" fill="#b0182c" stroke="#1e1e1e" stroke-width="0.7"/>
<circle cx="159.06" cy="572.85" r="2.95" fill="#b0182c" stroke="#1e1e1e" stroke-width="0.7"/>
<circle cx="159.06" cy="567.18" r="2.95" fill="#b0182c" stroke="#1e1e1e" stroke-width="0.7"/>
<circle cx="159.06" cy="561.51" r="2.95" fill="#b0182c" stroke="#1e1e1e" stroke-width="0.7"/>
<circle cx="159.06" cy="555.84" r="2.95" fill="#b0182c" stroke="#1e1e1e" stroke-width="0.7"/>
<circle cx="159.06" cy="550.16" r="2.95" fill="#ffffff" stroke="#1e1e1e" stroke-width="0.7"/>
<circle cx="159.06" cy="544.49" r="2.95" fill="#ffffff" stroke="#1e1e1e" stroke-width="0.7"/>
<line x1="168.99" y1="587.2" x2="168.99" y2="591" stroke="#999" stroke-width="0.7"/>
<text transform="translate(168.99,595.6) rotate(-90)" font-size="7.85" text-anchor="end" fill="#231f20" dominant-baseline="central">CRUKP7127</text>
<circle cx="168.99" cy="578.53" r="2.95" fill="#b0182c" stroke="#1e1e1e" stroke-width="0.7"/>
<circle cx="168.99" cy="572.85" r="2.95" fill="#b0182c" stroke="#1e1e1e" stroke-width="0.7"/>
<circle cx="168.99" cy="567.18" r="2.95" fill="#b0182c" stroke="#1e1e1e" stroke-width="0.7"/>
<circle cx="168.99" cy="561.51" r="2.95" fill="#ffffff" stroke="#1e1e1e" stroke-width="0.7"/>
<circle cx="168.99" cy="555.84" r="2.95" fill="#ffffff" stroke="#1e1e1e" stroke-width="0.7"/>
<circle cx="168.99" cy="550.16" r="2.95" fill="#ffffff" stroke="#1e1e1e" stroke-width="0.7"/>
<circle cx="168.99" cy="544.49" r="2.95" fill="#ffffff" stroke="#1e1e1e" stroke-width="0.7"/>
<circle cx="168.99" cy="538.82" r="2.95" fill="#ffffff" stroke="#1e1e1e" stroke-width="0.7"/>
<line x1="178.92" y1="587.2" x2="178.92" y2="591" stroke="#999" stroke-width="0.7"/>
<text transform="translate(178.92,595.6) rotate(-90)" font-size="7.85" text-anchor="end" fill="#231f20" dominant-baseline="central">CRUKP0294</text>
<circle cx="178.92" cy="578.53" r="2.95" fill="#b0182c" stroke="#1e1e1e" stroke-width="0.7"/>
<circle cx="178.92" cy="572.85" r="2.95" fill="#b0182c" stroke="#1e1e1e" stroke-width="0.7"/>
<circle cx="178.92" cy="567.18" r="2.95" fill="#b0182c" stroke="#1e1e1e" stroke-width="0.7"/>
<circle cx="178.92" cy="561.51" r="2.95" fill="#b0182c" stroke="#1e1e1e" stroke-width="0.7"/>
<circle cx="178.92" cy="555.84" r="2.95" fill="#b0182c" stroke="#1e1e1e" stroke-width="0.7"/>
<circle cx="178.92" cy="550.16" r="2.95" fill="#b0182c" stroke="#1e1e1e" stroke-width="0.7"/>
<circle cx="178.92" cy="544.49" r="2.95" fill="#b0182c" stroke="#1e1e1e" stroke-width="0.7"/>
<circle cx="178.92" cy="538.82" r="2.95" fill="#f4bc9c" stroke="#1e1e1e" stroke-width="0.7"/>
<circle cx="178.92" cy="533.14" r="2.95" fill="#f4bc9c" stroke="#1e1e1e" stroke-width="0.7"/>
<circle cx="178.92" cy="527.47" r="2.95" fill="#f4bc9c" stroke="#1e1e1e" stroke-width="0.7"/>
<circle cx="178.92" cy="521.8" r="2.95" fill="#f4bc9c" stroke="#1e1e1e" stroke-width="0.7"/>
<line x1="188.85" y1="587.2" x2="188.85" y2="591" stroke="#999" stroke-width="0.7"/>
<text transform="translate(188.85,595.6) rotate(-90)" font-size="7.85" text-anchor="end" fill="#231f20" dominant-baseline="central">CRUKP2432</text>
<circle cx="188.85" cy="578.53" r="2.95" fill="#b0182c" stroke="#1e1e1e" stroke-width="0.7"/>
<circle cx="188.85" cy="572.85" r="2.95" fill="#b0182c" stroke="#1e1e1e" stroke-width="0.7"/>
<circle cx="188.85" cy="567.18" r="2.95" fill="#b0182c" stroke="#1e1e1e" stroke-width="0.7"/>
<circle cx="188.85" cy="561.51" r="2.95" fill="#b0182c" stroke="#1e1e1e" stroke-width="0.7"/>
<circle cx="188.85" cy="555.84" r="2.95" fill="#b0182c" stroke="#1e1e1e" stroke-width="0.7"/>
<circle cx="188.85" cy="550.16" r="2.95" fill="#b0182c" stroke="#1e1e1e" stroke-width="0.7"/>
<circle cx="188.85" cy="544.49" r="2.95" fill="#b0182c" stroke="#1e1e1e" stroke-width="0.7"/>
<circle cx="188.85" cy="538.82" r="2.95" fill="#b0182c" stroke="#1e1e1e" stroke-width="0.7"/>
<circle cx="188.85" cy="533.14" r="2.95" fill="#ffffff" stroke="#1e1e1e" stroke-width="0.7"/>
<circle cx="188.85" cy="527.47" r="2.95" fill="#ffffff" stroke="#1e1e1e" stroke-width="0.7"/>
<circle cx="188.85" cy="521.8" r="2.95" fill="#ffffff" stroke="#1e1e1e" stroke-width="0.7"/>
<line x1="198.78" y1="587.2" x2="198.78" y2="591" stroke="#999" stroke-width="0.7"/>
<text transform="translate(198.78,595.6) rotate(-90)" font-size="7.85" text-anchor="end" fill="#231f20" dominant-baseline="central">CRUKP8172</text>
<circle cx="198.78" cy="578.53" r="2.95" fill="#b0182c" stroke="#1e1e1e" stroke-width="0.7"/>
<circle cx="198.78" cy="572.85" r="2.95" fill="#b0182c" stroke="#1e1e1e" stroke-width="0.7"/>
<circle cx="198.78" cy="567.18" r="2.95" fill="#b0182c" stroke="#1e1e1e" stroke-width="0.7"/>
<circle cx="198.78" cy="561.51" r="2.95" fill="#b0182c" stroke="#1e1e1e" stroke-width="0.7"/>
<circle cx="198.78" cy="555.84" r="2.95" fill="#b0182c" stroke="#1e1e1e" stroke-width="0.7"/>
<circle cx="198.78" cy="550.16" r="2.95" fill="#b0182c" stroke="#1e1e1e" stroke-width="0.7"/>
<circle cx="198.78" cy="544.49" r="2.95" fill="#b0182c" stroke="#1e1e1e" stroke-width="0.7"/>
<circle cx="198.78" cy="538.82" r="2.95" fill="#b0182c" stroke="#1e1e1e" stroke-width="0.7"/>
<circle cx="198.78" cy="533.14" r="2.95" fill="#f4bc9c" stroke="#1e1e1e" stroke-width="0.7"/>
<circle cx="198.78" cy="527.47" r="2.95" fill="#f4bc9c" stroke="#1e1e1e" stroke-width="0.7"/>
<circle cx="198.78" cy="521.8" r="2.95" fill="#f4bc9c" stroke="#1e1e1e" stroke-width="0.7"/>
<circle cx="198.78" cy="516.12" r="2.95" fill="#f4bc9c" stroke="#1e1e1e" stroke-width="0.7"/>
<circle cx="198.78" cy="510.45" r="2.95" fill="#f4bc9c" stroke="#1e1e1e" stroke-width="0.7"/>
<circle cx="198.78" cy="504.78" r="2.95" fill="#ffffff" stroke="#1e1e1e" stroke-width="0.7"/>
<line x1="208.71" y1="587.2" x2="208.71" y2="591" stroke="#999" stroke-width="0.7"/>
<text transform="translate(208.71,595.6) rotate(-90)" font-size="7.85" text-anchor="end" fill="#231f20" dominant-baseline="central">CRUKP4715</text>
<circle cx="208.71" cy="578.53" r="2.95" fill="#b0182c" stroke="#1e1e1e" stroke-width="0.7"/>
<circle cx="208.71" cy="572.85" r="2.95" fill="#b0182c" stroke="#1e1e1e" stroke-width="0.7"/>
<circle cx="208.71" cy="567.18" r="2.95" fill="#b0182c" stroke="#1e1e1e" stroke-width="0.7"/>
<circle cx="208.71" cy="561.51" r="2.95" fill="#b0182c" stroke="#1e1e1e" stroke-width="0.7"/>
<circle cx="208.71" cy="555.84" r="2.95" fill="#b0182c" stroke="#1e1e1e" stroke-width="0.7"/>
<circle cx="208.71" cy="550.16" r="2.95" fill="#b0182c" stroke="#1e1e1e" stroke-width="0.7"/>
<circle cx="208.71" cy="544.49" r="2.95" fill="#b0182c" stroke="#1e1e1e" stroke-width="0.7"/>
<circle cx="208.71" cy="538.82" r="2.95" fill="#f4bc9c" stroke="#1e1e1e" stroke-width="0.7"/>
<circle cx="208.71" cy="533.14" r="2.95" fill="#f4bc9c" stroke="#1e1e1e" stroke-width="0.7"/>
<circle cx="208.71" cy="527.47" r="2.95" fill="#ffffff" stroke="#1e1e1e" stroke-width="0.7"/>
<circle cx="208.71" cy="521.8" r="2.95" fill="#ffffff" stroke="#1e1e1e" stroke-width="0.7"/>
<circle cx="208.71" cy="516.12" r="2.95" fill="#ffffff" stroke="#1e1e1e" stroke-width="0.7"/>
<circle cx="208.71" cy="510.45" r="2.95" fill="#ffffff" stroke="#1e1e1e" stroke-width="0.7"/>
<circle cx="208.71" cy="504.78" r="2.95" fill="#ffffff" stroke="#1e1e1e" stroke-width="0.7"/>
<line x1="218.64" y1="587.2" x2="218.64" y2="591" stroke="#999" stroke-width="0.7"/>
<text transform="translate(218.64,595.6) rotate(-90)" font-size="7.85" text-anchor="end" fill="#231f20" dominant-baseline="central">CRUKP3371</text>
<circle cx="218.64" cy="578.53" r="2.95" fill="#b0182c" stroke="#1e1e1e" stroke-width="0.7"/>
<circle cx="218.64" cy="572.85" r="2.95" fill="#b0182c" stroke="#1e1e1e" stroke-width="0.7"/>
<circle cx="218.64" cy="567.18" r="2.95" fill="#f4bc9c" stroke="#1e1e1e" stroke-width="0.7"/>
<circle cx="218.64" cy="561.51" r="2.95" fill="#f4bc9c" stroke="#1e1e1e" stroke-width="0.7"/>
<circle cx="218.64" cy="555.84" r="2.95" fill="#f4bc9c" stroke="#1e1e1e" stroke-width="0.7"/>
<circle cx="218.64" cy="550.16" r="2.95" fill="#f4bc9c" stroke="#1e1e1e" stroke-width="0.7"/>
<circle cx="218.64" cy="544.49" r="2.95" fill="#f4bc9c" stroke="#1e1e1e" stroke-width="0.7"/>
<circle cx="218.64" cy="538.82" r="2.95" fill="#f4bc9c" stroke="#1e1e1e" stroke-width="0.7"/>
<circle cx="218.64" cy="533.14" r="2.95" fill="#f4bc9c" stroke="#1e1e1e" stroke-width="0.7"/>
<circle cx="218.64" cy="527.47" r="2.95" fill="#f4bc9c" stroke="#1e1e1e" stroke-width="0.7"/>
<circle cx="218.64" cy="521.8" r="2.95" fill="#f4bc9c" stroke="#1e1e1e" stroke-width="0.7"/>
<circle cx="218.64" cy="516.12" r="2.95" fill="#f4bc9c" stroke="#1e1e1e" stroke-width="0.7"/>
<circle cx="218.64" cy="510.45" r="2.95" fill="#f4bc9c" stroke="#1e1e1e" stroke-width="0.7"/>
<circle cx="218.64" cy="504.78" r="2.95" fill="#f4bc9c" stroke="#1e1e1e" stroke-width="0.7"/>
<line x1="228.57" y1="587.2" x2="228.57" y2="591" stroke="#999" stroke-width="0.7"/>
<text transform="translate(228.57,595.6) rotate(-90)" font-size="7.85" text-anchor="end" fill="#231f20" dominant-baseline="central">CRUKP2757</text>
<circle cx="228.57" cy="578.53" r="2.95" fill="#b0182c" stroke="#1e1e1e" stroke-width="0.7"/>
<circle cx="228.57" cy="572.85" r="2.95" fill="#b0182c" stroke="#1e1e1e" stroke-width="0.7"/>
<circle cx="228.57" cy="567.18" r="2.95" fill="#b0182c" stroke="#1e1e1e" stroke-width="0.7"/>
<circle cx="228.57" cy="561.51" r="2.95" fill="#b0182c" stroke="#1e1e1e" stroke-width="0.7"/>
<circle cx="228.57" cy="555.84" r="2.95" fill="#b0182c" stroke="#1e1e1e" stroke-width="0.7"/>
<circle cx="228.57" cy="550.16" r="2.95" fill="#b0182c" stroke="#1e1e1e" stroke-width="0.7"/>
<circle cx="228.57" cy="544.49" r="2.95" fill="#f4bc9c" stroke="#1e1e1e" stroke-width="0.7"/>
<circle cx="228.57" cy="538.82" r="2.95" fill="#f4bc9c" stroke="#1e1e1e" stroke-width="0.7"/>
<circle cx="228.57" cy="533.14" r="2.95" fill="#f4bc9c" stroke="#1e1e1e" stroke-width="0.7"/>
<circle cx="228.57" cy="527.47" r="2.95" fill="#f4bc9c" stroke="#1e1e1e" stroke-width="0.7"/>
<circle cx="228.57" cy="521.8" r="2.95" fill="#f4bc9c" stroke="#1e1e1e" stroke-width="0.7"/>
<circle cx="228.57" cy="516.12" r="2.95" fill="#f4bc9c" stroke="#1e1e1e" stroke-width="0.7"/>
<circle cx="228.57" cy="510.45" r="2.95" fill="#f4bc9c" stroke="#1e1e1e" stroke-width="0.7"/>
<circle cx="228.57" cy="504.78" r="2.95" fill="#f4bc9c" stroke="#1e1e1e" stroke-width="0.7"/>
<circle cx="228.57" cy="499.11" r="2.95" fill="#ffffff" stroke="#1e1e1e" stroke-width="0.7"/>
<circle cx="228.57" cy="493.43" r="2.95" fill="#ffffff" stroke="#1e1e1e" stroke-width="0.7"/>
<line x1="238.5" y1="587.2" x2="238.5" y2="591" stroke="#999" stroke-width="0.7"/>
<text transform="translate(238.5,595.6) rotate(-90)" font-size="7.85" text-anchor="end" fill="#231f20" dominant-baseline="central">CRUKP9145</text>
<circle cx="238.5" cy="578.53" r="2.95" fill="#b0182c" stroke="#1e1e1e" stroke-width="0.7"/>
<circle cx="238.5" cy="572.85" r="2.95" fill="#b0182c" stroke="#1e1e1e" stroke-width="0.7"/>
<circle cx="238.5" cy="567.18" r="2.95" fill="#b0182c" stroke="#1e1e1e" stroke-width="0.7"/>
<circle cx="238.5" cy="561.51" r="2.95" fill="#b0182c" stroke="#1e1e1e" stroke-width="0.7"/>
<circle cx="238.5" cy="555.84" r="2.95" fill="#b0182c" stroke="#1e1e1e" stroke-width="0.7"/>
<circle cx="238.5" cy="550.16" r="2.95" fill="#b0182c" stroke="#1e1e1e" stroke-width="0.7"/>
<circle cx="238.5" cy="544.49" r="2.95" fill="#b0182c" stroke="#1e1e1e" stroke-width="0.7"/>
<circle cx="238.5" cy="538.82" r="2.95" fill="#b0182c" stroke="#1e1e1e" stroke-width="0.7"/>
<circle cx="238.5" cy="533.14" r="2.95" fill="#b0182c" stroke="#1e1e1e" stroke-width="0.7"/>
<circle cx="238.5" cy="527.47" r="2.95" fill="#f4bc9c" stroke="#1e1e1e" stroke-width="0.7"/>
<circle cx="238.5" cy="521.8" r="2.95" fill="#f4bc9c" stroke="#1e1e1e" stroke-width="0.7"/>
<circle cx="238.5" cy="516.12" r="2.95" fill="#f4bc9c" stroke="#1e1e1e" stroke-width="0.7"/>
<circle cx="238.5" cy="510.45" r="2.95" fill="#f4bc9c" stroke="#1e1e1e" stroke-width="0.7"/>
<circle cx="238.5" cy="504.78" r="2.95" fill="#f4bc9c" stroke="#1e1e1e" stroke-width="0.7"/>
<circle cx="238.5" cy="499.11" r="2.95" fill="#f4bc9c" stroke="#1e1e1e" stroke-width="0.7"/>
<circle cx="238.5" cy="493.43" r="2.95" fill="#f4bc9c" stroke="#1e1e1e" stroke-width="0.7"/>
<circle cx="238.5" cy="487.76" r="2.95" fill="#f4bc9c" stroke="#1e1e1e" stroke-width="0.7"/>
<circle cx="238.5" cy="482.09" r="2.95" fill="#f4bc9c" stroke="#1e1e1e" stroke-width="0.7"/>
<circle cx="238.5" cy="476.41" r="2.95" fill="#ffffff" stroke="#1e1e1e" stroke-width="0.7"/>
<circle cx="238.5" cy="470.74" r="2.95" fill="#ffffff" stroke="#1e1e1e" stroke-width="0.7"/>
<circle cx="238.5" cy="465.07" r="2.95" fill="#ffffff" stroke="#1e1e1e" stroke-width="0.7"/>
<line x1="248.43" y1="587.2" x2="248.43" y2="591" stroke="#999" stroke-width="0.7"/>
<text transform="translate(248.43,595.6) rotate(-90)" font-size="7.85" text-anchor="end" fill="#231f20" dominant-baseline="central">CRUKP6590</text>
<circle cx="248.43" cy="578.53" r="2.95" fill="#b0182c" stroke="#1e1e1e" stroke-width="0.7"/>
<circle cx="248.43" cy="572.85" r="2.95" fill="#b0182c" stroke="#1e1e1e" stroke-width="0.7"/>
<circle cx="248.43" cy="567.18" r="2.95" fill="#b0182c" stroke="#1e1e1e" stroke-width="0.7"/>
<circle cx="248.43" cy="561.51" r="2.95" fill="#f4bc9c" stroke="#1e1e1e" stroke-width="0.7"/>
<circle cx="248.43" cy="555.84" r="2.95" fill="#f4bc9c" stroke="#1e1e1e" stroke-width="0.7"/>
<circle cx="248.43" cy="550.16" r="2.95" fill="#f4bc9c" stroke="#1e1e1e" stroke-width="0.7"/>
<circle cx="248.43" cy="544.49" r="2.95" fill="#f4bc9c" stroke="#1e1e1e" stroke-width="0.7"/>
<circle cx="248.43" cy="538.82" r="2.95" fill="#f4bc9c" stroke="#1e1e1e" stroke-width="0.7"/>
<circle cx="248.43" cy="533.14" r="2.95" fill="#f4bc9c" stroke="#1e1e1e" stroke-width="0.7"/>
<circle cx="248.43" cy="527.47" r="2.95" fill="#f4bc9c" stroke="#1e1e1e" stroke-width="0.7"/>
<circle cx="248.43" cy="521.8" r="2.95" fill="#f4bc9c" stroke="#1e1e1e" stroke-width="0.7"/>
<circle cx="248.43" cy="516.12" r="2.95" fill="#f4bc9c" stroke="#1e1e1e" stroke-width="0.7"/>
<circle cx="248.43" cy="510.45" r="2.95" fill="#f4bc9c" stroke="#1e1e1e" stroke-width="0.7"/>
<circle cx="248.43" cy="504.78" r="2.95" fill="#f4bc9c" stroke="#1e1e1e" stroke-width="0.7"/>
<circle cx="248.43" cy="499.11" r="2.95" fill="#f4bc9c" stroke="#1e1e1e" stroke-width="0.7"/>
<circle cx="248.43" cy="493.43" r="2.95" fill="#f4bc9c" stroke="#1e1e1e" stroke-width="0.7"/>
<circle cx="248.43" cy="487.76" r="2.95" fill="#f4bc9c" stroke="#1e1e1e" stroke-width="0.7"/>
<circle cx="248.43" cy="482.09" r="2.95" fill="#ffffff" stroke="#1e1e1e" stroke-width="0.7"/>
<circle cx="248.43" cy="476.41" r="2.95" fill="#ffffff" stroke="#1e1e1e" stroke-width="0.7"/>
<circle cx="248.43" cy="470.74" r="2.95" fill="#ffffff" stroke="#1e1e1e" stroke-width="0.7"/>
<circle cx="248.43" cy="465.07" r="2.95" fill="#ffffff" stroke="#1e1e1e" stroke-width="0.7"/>
<circle cx="248.43" cy="459.39" r="2.95" fill="#ffffff" stroke="#1e1e1e" stroke-width="0.7"/>
<circle cx="248.43" cy="453.72" r="2.95" fill="#ffffff" stroke="#1e1e1e" stroke-width="0.7"/>
<circle cx="248.43" cy="448.05" r="2.95" fill="#ffffff" stroke="#1e1e1e" stroke-width="0.7"/>
<line x1="258.36" y1="587.2" x2="258.36" y2="591" stroke="#999" stroke-width="0.7"/>
<text transform="translate(258.36,595.6) rotate(-90)" font-size="7.85" text-anchor="end" fill="#231f20" dominant-baseline="central">CRUKP3581</text>
<circle cx="258.36" cy="578.53" r="2.95" fill="#b0182c" stroke="#1e1e1e" stroke-width="0.7"/>
<circle cx="258.36" cy="572.85" r="2.95" fill="#b0182c" stroke="#1e1e1e" stroke-width="0.7"/>
<circle cx="258.36" cy="567.18" r="2.95" fill="#b0182c" stroke="#1e1e1e" stroke-width="0.7"/>
<circle cx="258.36" cy="561.51" r="2.95" fill="#b0182c" stroke="#1e1e1e" stroke-width="0.7"/>
<circle cx="258.36" cy="555.84" r="2.95" fill="#b0182c" stroke="#1e1e1e" stroke-width="0.7"/>
<circle cx="258.36" cy="550.16" r="2.95" fill="#b0182c" stroke="#1e1e1e" stroke-width="0.7"/>
<circle cx="258.36" cy="544.49" r="2.95" fill="#b0182c" stroke="#1e1e1e" stroke-width="0.7"/>
<circle cx="258.36" cy="538.82" r="2.95" fill="#b0182c" stroke="#1e1e1e" stroke-width="0.7"/>
<circle cx="258.36" cy="533.14" r="2.95" fill="#b0182c" stroke="#1e1e1e" stroke-width="0.7"/>
<circle cx="258.36" cy="527.47" r="2.95" fill="#b0182c" stroke="#1e1e1e" stroke-width="0.7"/>
<circle cx="258.36" cy="521.8" r="2.95" fill="#b0182c" stroke="#1e1e1e" stroke-width="0.7"/>
<circle cx="258.36" cy="516.12" r="2.95" fill="#b0182c" stroke="#1e1e1e" stroke-width="0.7"/>
<circle cx="258.36" cy="510.45" r="2.95" fill="#b0182c" stroke="#1e1e1e" stroke-width="0.7"/>
<circle cx="258.36" cy="504.78" r="2.95" fill="#b0182c" stroke="#1e1e1e" stroke-width="0.7"/>
<circle cx="258.36" cy="499.11" r="2.95" fill="#b0182c" stroke="#1e1e1e" stroke-width="0.7"/>
<circle cx="258.36" cy="493.43" r="2.95" fill="#b0182c" stroke="#1e1e1e" stroke-width="0.7"/>
<circle cx="258.36" cy="487.76" r="2.95" fill="#b0182c" stroke="#1e1e1e" stroke-width="0.7"/>
<circle cx="258.36" cy="482.09" r="2.95" fill="#b0182c" stroke="#1e1e1e" stroke-width="0.7"/>
<circle cx="258.36" cy="476.41" r="2.95" fill="#b0182c" stroke="#1e1e1e" stroke-width="0.7"/>
<circle cx="258.36" cy="470.74" r="2.95" fill="#b0182c" stroke="#1e1e1e" stroke-width="0.7"/>
<circle cx="258.36" cy="465.07" r="2.95" fill="#b0182c" stroke="#1e1e1e" stroke-width="0.7"/>
<circle cx="258.36" cy="459.39" r="2.95" fill="#b0182c" stroke="#1e1e1e" stroke-width="0.7"/>
<circle cx="258.36" cy="453.72" r="2.95" fill="#f4bc9c" stroke="#1e1e1e" stroke-width="0.7"/>
<circle cx="258.36" cy="448.05" r="2.95" fill="#f4bc9c" stroke="#1e1e1e" stroke-width="0.7"/>
<circle cx="258.36" cy="442.38" r="2.95" fill="#f4bc9c" stroke="#1e1e1e" stroke-width="0.7"/>
<circle cx="258.36" cy="436.7" r="2.95" fill="#f4bc9c" stroke="#1e1e1e" stroke-width="0.7"/>
<circle cx="258.36" cy="431.03" r="2.95" fill="#f4bc9c" stroke="#1e1e1e" stroke-width="0.7"/>
<circle cx="258.36" cy="425.36" r="2.95" fill="#ffffff" stroke="#1e1e1e" stroke-width="0.7"/>
<circle cx="258.36" cy="419.68" r="2.95" fill="#ffffff" stroke="#1e1e1e" stroke-width="0.7"/>
<circle cx="258.36" cy="414.01" r="2.95" fill="#ffffff" stroke="#1e1e1e" stroke-width="0.7"/>
<circle cx="258.36" cy="408.34" r="2.95" fill="#ffffff" stroke="#1e1e1e" stroke-width="0.7"/>
<path d="M134.7,453.4 L134.7,418 A35.4,35.4 0 0 1 169.07,444.91 Z" fill="#ffffff" stroke="#2a2a2a" stroke-width="0.7"/>
<path d="M134.7,453.4 L169.07,444.91 A35.4,35.4 0 0 1 133.23,488.77 Z" fill="#f4bc9c" stroke="#2a2a2a" stroke-width="0.7"/>
<path d="M134.7,453.4 L133.23,488.77 A35.4,35.4 0 0 1 134.7,418 Z" fill="#b0182c" stroke="#2a2a2a" stroke-width="0.7"/>
<text x="114.9" y="453.6" font-size="7.85" text-anchor="middle" fill="#231f20" font-weight="normal" dominant-baseline="central" >112</text>
<text x="148.1" y="442.6" font-size="7.85" text-anchor="middle" fill="#231f20" font-weight="normal" dominant-baseline="central" >48</text>
<text x="150" y="462.5" font-size="7.85" text-anchor="middle" fill="#231f20" font-weight="normal" dominant-baseline="central" >67</text>
<text x="93" y="443.8" font-size="7.85" text-anchor="end" fill="#231f20" font-weight="normal" dominant-baseline="central" >Imaged and</text>
<text x="93" y="453.3" font-size="7.85" text-anchor="end" fill="#231f20" font-weight="normal" dominant-baseline="central" >sampled</text>
<text x="157.6" y="419.4" font-size="7.85" text-anchor="start" fill="#231f20" font-weight="normal" dominant-baseline="central" >Imaged only</text>
<text x="168.6" y="475.8" font-size="7.85" text-anchor="start" fill="#231f20" font-weight="normal" dominant-baseline="central" >Sampled</text>
<text x="168.6" y="485.3" font-size="7.85" text-anchor="start" fill="#231f20" font-weight="normal" dominant-baseline="central" >only</text>
<text x="316.3" y="402.8" font-size="10.6" font-weight="bold" fill="#000">c</text>
<circle cx="377.6" cy="418" r="2.6" fill="none" stroke="#9a9a9a" stroke-width="0.8"/>
<circle cx="477.5" cy="451.7" r="2.6" fill="none" stroke="#9a9a9a" stroke-width="0.8"/>
<line x1="376.17" y1="500.8" x2="408.98" y2="552.67" stroke="#707070" stroke-width="0.55" stroke-dasharray="1.7,1"/>
<line x1="376.59" y1="519.43" x2="411.73" y2="560.08" stroke="#707070" stroke-width="0.55" stroke-dasharray="1.7,1"/>
<line x1="378.71" y1="542.72" x2="414.27" y2="544.2" stroke="#707070" stroke-width="0.55" stroke-dasharray="1.7,1"/>
<line x1="376.17" y1="541.02" x2="413.21" y2="557.96" stroke="#707070" stroke-width="0.55" stroke-dasharray="1.7,1"/>
<line x1="376.17" y1="517.32" x2="409.61" y2="543.14" stroke="#707070" stroke-width="0.55" stroke-dasharray="1.7,1"/>
<line x1="375.75" y1="526.21" x2="410.46" y2="544.2" stroke="#707070" stroke-width="0.55" stroke-dasharray="1.7,1"/>
<line x1="378.71" y1="551.61" x2="413.21" y2="546.95" stroke="#707070" stroke-width="0.55" stroke-dasharray="1.7,1"/>
<line x1="375.75" y1="551.61" x2="411.1" y2="545.68" stroke="#707070" stroke-width="0.55" stroke-dasharray="1.7,1"/>
<line x1="378.29" y1="562.19" x2="410.46" y2="555.42" stroke="#707070" stroke-width="0.55" stroke-dasharray="1.7,1"/>
<line x1="381.46" y1="538.48" x2="412.15" y2="543.14" stroke="#707070" stroke-width="0.55" stroke-dasharray="1.7,1"/>
<line x1="378.29" y1="555.42" x2="412.58" y2="563.25" stroke="#707070" stroke-width="0.55" stroke-dasharray="1.7,1"/>
<line x1="377.23" y1="559.65" x2="412.15" y2="553.3" stroke="#707070" stroke-width="0.55" stroke-dasharray="1.7,1"/>
<line x1="380.4" y1="546.32" x2="414.27" y2="547.38" stroke="#707070" stroke-width="0.55" stroke-dasharray="1.7,1"/>
<line x1="376.17" y1="562.19" x2="413.85" y2="566" stroke="#707070" stroke-width="0.55" stroke-dasharray="1.7,1"/>
<line x1="379.98" y1="556.9" x2="409.61" y2="561.13" stroke="#707070" stroke-width="0.55" stroke-dasharray="1.7,1"/>
<line x1="381.46" y1="552.67" x2="411.1" y2="565.37" stroke="#707070" stroke-width="0.55" stroke-dasharray="1.7,1"/>
<line x1="408.98" y1="552.67" x2="443.91" y2="513.08" stroke="#707070" stroke-width="0.55" stroke-dasharray="1.7,1"/>
<line x1="412.15" y1="553.3" x2="446.02" y2="542.08" stroke="#707070" stroke-width="0.55" stroke-dasharray="1.7,1"/>
<line x1="410.46" y1="544.2" x2="447.08" y2="533.62" stroke="#707070" stroke-width="0.55" stroke-dasharray="1.7,1"/>
<line x1="409.61" y1="543.14" x2="446.02" y2="553.73" stroke="#707070" stroke-width="0.55" stroke-dasharray="1.7,1"/>
<line x1="410.46" y1="555.42" x2="446.02" y2="531.5" stroke="#707070" stroke-width="0.55" stroke-dasharray="1.7,1"/>
<line x1="414.27" y1="544.2" x2="448.14" y2="524.51" stroke="#707070" stroke-width="0.55" stroke-dasharray="1.7,1"/>
<line x1="414.27" y1="547.38" x2="442.85" y2="541.02" stroke="#707070" stroke-width="0.55" stroke-dasharray="1.7,1"/>
<line x1="412.58" y1="563.25" x2="443.91" y2="534.67" stroke="#707070" stroke-width="0.55" stroke-dasharray="1.7,1"/>
<line x1="411.73" y1="560.08" x2="448.14" y2="531.5" stroke="#707070" stroke-width="0.55" stroke-dasharray="1.7,1"/>
<line x1="412.15" y1="543.14" x2="444.97" y2="553.73" stroke="#707070" stroke-width="0.55" stroke-dasharray="1.7,1"/>
<line x1="411.1" y1="565.37" x2="444.97" y2="536.79" stroke="#707070" stroke-width="0.55" stroke-dasharray="1.7,1"/>
<line x1="413.21" y1="546.95" x2="441.79" y2="547.38" stroke="#707070" stroke-width="0.55" stroke-dasharray="1.7,1"/>
<line x1="413.85" y1="566" x2="442.21" y2="556.9" stroke="#707070" stroke-width="0.55" stroke-dasharray="1.7,1"/>
<line x1="411.1" y1="545.68" x2="447.72" y2="548.43" stroke="#707070" stroke-width="0.55" stroke-dasharray="1.7,1"/>
<line x1="409.61" y1="561.13" x2="443.48" y2="552.67" stroke="#707070" stroke-width="0.55" stroke-dasharray="1.7,1"/>
<line x1="413.21" y1="557.96" x2="443.48" y2="557.96" stroke="#707070" stroke-width="0.55" stroke-dasharray="1.7,1"/>
<line x1="443.91" y1="513.08" x2="477.35" y2="466.93" stroke="#707070" stroke-width="0.55" stroke-dasharray="1.7,1"/>
<line x1="448.14" y1="524.51" x2="480.95" y2="451.69" stroke="#707070" stroke-width="0.55" stroke-dasharray="1.7,1"/>
<line x1="443.91" y1="534.67" x2="475.66" y2="465.24" stroke="#707070" stroke-width="0.55" stroke-dasharray="1.7,1"/>
<line x1="446.02" y1="542.08" x2="481.59" y2="515.62" stroke="#707070" stroke-width="0.55" stroke-dasharray="1.7,1"/>
<line x1="447.08" y1="533.62" x2="477.78" y2="470.32" stroke="#707070" stroke-width="0.55" stroke-dasharray="1.7,1"/>
<line x1="444.97" y1="553.73" x2="477.35" y2="505.04" stroke="#707070" stroke-width="0.55" stroke-dasharray="1.7,1"/>
<line x1="446.02" y1="553.73" x2="476.72" y2="523.03" stroke="#707070" stroke-width="0.55" stroke-dasharray="1.7,1"/>
<line x1="442.85" y1="541.02" x2="475.66" y2="531.5" stroke="#707070" stroke-width="0.55" stroke-dasharray="1.7,1"/>
<line x1="441.79" y1="547.38" x2="479.89" y2="523.03" stroke="#707070" stroke-width="0.55" stroke-dasharray="1.7,1"/>
<line x1="446.02" y1="531.5" x2="480.95" y2="543.14" stroke="#707070" stroke-width="0.55" stroke-dasharray="1.7,1"/>
<line x1="444.97" y1="536.79" x2="478.2" y2="518.16" stroke="#707070" stroke-width="0.55" stroke-dasharray="1.7,1"/>
<line x1="448.14" y1="531.5" x2="477.78" y2="541.02" stroke="#707070" stroke-width="0.55" stroke-dasharray="1.7,1"/>
<line x1="447.72" y1="548.43" x2="476.72" y2="534.67" stroke="#707070" stroke-width="0.55" stroke-dasharray="1.7,1"/>
<line x1="442.21" y1="556.9" x2="478.84" y2="546.32" stroke="#707070" stroke-width="0.55" stroke-dasharray="1.7,1"/>
<line x1="443.48" y1="557.96" x2="475.66" y2="536.79" stroke="#707070" stroke-width="0.55" stroke-dasharray="1.7,1"/>
<line x1="443.48" y1="552.67" x2="475.24" y2="545.26" stroke="#707070" stroke-width="0.55" stroke-dasharray="1.7,1"/>
<line x1="376.17" y1="562.19" x2="442.21" y2="556.9" stroke="#707070" stroke-width="0.55" stroke-dasharray="1.7,1"/>
<line x1="375.75" y1="526.21" x2="441.79" y2="547.38" stroke="#707070" stroke-width="0.55" stroke-dasharray="1.7,1"/>
<line x1="377.23" y1="559.65" x2="446.02" y2="542.08" stroke="#707070" stroke-width="0.55" stroke-dasharray="1.7,1"/>
<line x1="378.71" y1="551.61" x2="446.02" y2="553.73" stroke="#707070" stroke-width="0.55" stroke-dasharray="1.7,1"/>
<line x1="379.3" y1="418" x2="411.5" y2="545" stroke="#707070" stroke-width="0.55" stroke-dasharray="1.7,1"/>
<line x1="479.5" y1="451.7" x2="445" y2="520" stroke="#707070" stroke-width="0.55" stroke-dasharray="1.7,1"/>
<line x1="479.5" y1="451.7" x2="444" y2="540" stroke="#707070" stroke-width="0.55" stroke-dasharray="1.7,1"/>
<line x1="476" y1="466" x2="446" y2="528" stroke="#707070" stroke-width="0.55" stroke-dasharray="1.7,1"/>
<line x1="477" y1="467" x2="441" y2="545" stroke="#707070" stroke-width="0.55" stroke-dasharray="1.7,1"/>
<line x1="378.6" y1="500.9" x2="378.6" y2="532.8" stroke="#b4b4b4" stroke-width="1.1"/>
<line x1="378.6" y1="556.9" x2="378.6" y2="563.1" stroke="#b4b4b4" stroke-width="1.1"/>
<line x1="371.9" y1="500.9" x2="385.7" y2="500.9" stroke="#b4b4b4" stroke-width="1.1"/>
<line x1="371.9" y1="563.1" x2="385.7" y2="563.1" stroke="#b4b4b4" stroke-width="1.1"/>
<rect x="365.2" y="532.8" width="26.8" height="24.1" fill="none" stroke="#b4b4b4" stroke-width="1.1"/>
<line x1="365.2" y1="551.4" x2="392" y2="551.4" stroke="#b4b4b4" stroke-width="1.1"/>
<line x1="411.65" y1="542.1" x2="411.65" y2="546.2" stroke="#b4b4b4" stroke-width="1.1"/>
<line x1="411.65" y1="559" x2="411.65" y2="566" stroke="#b4b4b4" stroke-width="1.1"/>
<line x1="404.8" y1="542.1" x2="418.5" y2="542.1" stroke="#b4b4b4" stroke-width="1.1"/>
<line x1="404.8" y1="566" x2="418.5" y2="566" stroke="#b4b4b4" stroke-width="1.1"/>
<rect x="398.4" y="546.2" width="26.5" height="12.8" fill="none" stroke="#b4b4b4" stroke-width="1.1"/>
<line x1="398.4" y1="554.4" x2="424.9" y2="554.4" stroke="#b4b4b4" stroke-width="1.1"/>
<line x1="444.85" y1="513.2" x2="444.85" y2="535.4" stroke="#b4b4b4" stroke-width="1.1"/>
<line x1="444.85" y1="553.2" x2="444.85" y2="558.2" stroke="#b4b4b4" stroke-width="1.1"/>
<line x1="437.9" y1="513.2" x2="451.8" y2="513.2" stroke="#b4b4b4" stroke-width="1.1"/>
<line x1="437.9" y1="558.2" x2="451.8" y2="558.2" stroke="#b4b4b4" stroke-width="1.1"/>
<rect x="431.4" y="535.4" width="26.9" height="17.8" fill="none" stroke="#b4b4b4" stroke-width="1.1"/>
<line x1="431.4" y1="541" x2="458.3" y2="541" stroke="#b4b4b4" stroke-width="1.1"/>
<line x1="477.95" y1="465.2" x2="477.95" y2="510.3" stroke="#b4b4b4" stroke-width="1.1"/>
<line x1="477.95" y1="543.1" x2="477.95" y2="552.7" stroke="#b4b4b4" stroke-width="1.1"/>
<line x1="473.5" y1="465.2" x2="485.2" y2="465.2" stroke="#b4b4b4" stroke-width="1.1"/>
<line x1="473.5" y1="552.7" x2="485.2" y2="552.7" stroke="#b4b4b4" stroke-width="1.1"/>
<rect x="464.7" y="510.3" width="26.5" height="32.8" fill="none" stroke="#b4b4b4" stroke-width="1.1"/>
<line x1="464.7" y1="527.6" x2="491.2" y2="527.6" stroke="#b4b4b4" stroke-width="1.1"/>
<circle cx="376.17" cy="500.8" r="2.35" fill="#2f6496" stroke="none" stroke-width="0"/>
<circle cx="376.17" cy="517.32" r="2.35" fill="#2f6496" stroke="none" stroke-width="0"/>
<circle cx="376.59" cy="519.43" r="2.35" fill="#2f6496" stroke="none" stroke-width="0"/>
<circle cx="375.75" cy="526.21" r="2.35" fill="#2f6496" stroke="none" stroke-width="0"/>
<circle cx="381.46" cy="538.48" r="2.35" fill="#2f6496" stroke="none" stroke-width="0"/>
<circle cx="376.17" cy="541.02" r="2.35" fill="#2f6496" stroke="none" stroke-width="0"/>
<circle cx="378.71" cy="542.72" r="2.35" fill="#2f6496" stroke="none" stroke-width="0"/>
<circle cx="380.4" cy="546.32" r="2.35" fill="#2f6496" stroke="none" stroke-width="0"/>
<circle cx="375.75" cy="551.61" r="2.35" fill="#2f6496" stroke="none" stroke-width="0"/>
<circle cx="378.71" cy="551.61" r="2.35" fill="#2f6496" stroke="none" stroke-width="0"/>
<circle cx="381.46" cy="552.67" r="2.35" fill="#2f6496" stroke="none" stroke-width="0"/>
<circle cx="378.29" cy="555.42" r="2.35" fill="#2f6496" stroke="none" stroke-width="0"/>
<circle cx="379.98" cy="556.9" r="2.35" fill="#2f6496" stroke="none" stroke-width="0"/>
<circle cx="377.23" cy="559.65" r="2.35" fill="#2f6496" stroke="none" stroke-width="0"/>
<circle cx="376.17" cy="562.19" r="2.35" fill="#2f6496" stroke="none" stroke-width="0"/>
<circle cx="378.29" cy="562.19" r="2.35" fill="#2f6496" stroke="none" stroke-width="0"/>
<circle cx="379.3" cy="418" r="2.35" fill="#2f6496" stroke="none" stroke-width="0"/>
<circle cx="409.61" cy="543.14" r="2.35" fill="#0d4d26" stroke="none" stroke-width="0"/>
<circle cx="412.15" cy="543.14" r="2.35" fill="#0d4d26" stroke="none" stroke-width="0"/>
<circle cx="414.27" cy="544.2" r="2.35" fill="#0d4d26" stroke="none" stroke-width="0"/>
<circle cx="411.1" cy="545.68" r="2.35" fill="#0d4d26" stroke="none" stroke-width="0"/>
<circle cx="413.21" cy="546.95" r="2.35" fill="#0d4d26" stroke="none" stroke-width="0"/>
<circle cx="408.98" cy="552.67" r="2.35" fill="#0d4d26" stroke="none" stroke-width="0"/>
<circle cx="412.15" cy="553.3" r="2.35" fill="#0d4d26" stroke="none" stroke-width="0"/>
<circle cx="410.46" cy="555.42" r="2.35" fill="#0d4d26" stroke="none" stroke-width="0"/>
<circle cx="413.21" cy="557.96" r="2.35" fill="#0d4d26" stroke="none" stroke-width="0"/>
<circle cx="411.73" cy="560.08" r="2.35" fill="#0d4d26" stroke="none" stroke-width="0"/>
<circle cx="409.61" cy="561.13" r="2.35" fill="#0d4d26" stroke="none" stroke-width="0"/>
<circle cx="412.58" cy="563.25" r="2.35" fill="#0d4d26" stroke="none" stroke-width="0"/>
<circle cx="413.85" cy="566" r="2.35" fill="#0d4d26" stroke="none" stroke-width="0"/>
<circle cx="411.1" cy="565.37" r="2.35" fill="#0d4d26" stroke="none" stroke-width="0"/>
<circle cx="410.46" cy="544.2" r="2.35" fill="#0d4d26" stroke="none" stroke-width="0"/>
<circle cx="414.27" cy="547.38" r="2.35" fill="#0d4d26" stroke="none" stroke-width="0"/>
<circle cx="443.91" cy="513.08" r="2.35" fill="#2e9e5a" stroke="none" stroke-width="0"/>
<circle cx="448.14" cy="524.51" r="2.35" fill="#2e9e5a" stroke="none" stroke-width="0"/>
<circle cx="446.02" cy="531.5" r="2.35" fill="#2e9e5a" stroke="none" stroke-width="0"/>
<circle cx="448.14" cy="531.5" r="2.35" fill="#2e9e5a" stroke="none" stroke-width="0"/>
<circle cx="443.91" cy="534.67" r="2.35" fill="#2e9e5a" stroke="none" stroke-width="0"/>
<circle cx="444.97" cy="536.79" r="2.35" fill="#2e9e5a" stroke="none" stroke-width="0"/>
<circle cx="442.85" cy="541.02" r="2.35" fill="#2e9e5a" stroke="none" stroke-width="0"/>
<circle cx="446.02" cy="542.08" r="2.35" fill="#2e9e5a" stroke="none" stroke-width="0"/>
<circle cx="441.79" cy="547.38" r="2.35" fill="#2e9e5a" stroke="none" stroke-width="0"/>
<circle cx="447.72" cy="548.43" r="2.35" fill="#2e9e5a" stroke="none" stroke-width="0"/>
<circle cx="443.48" cy="552.67" r="2.35" fill="#2e9e5a" stroke="none" stroke-width="0"/>
<circle cx="444.97" cy="553.73" r="2.35" fill="#2e9e5a" stroke="none" stroke-width="0"/>
<circle cx="442.21" cy="556.9" r="2.35" fill="#2e9e5a" stroke="none" stroke-width="0"/>
<circle cx="446.02" cy="553.73" r="2.35" fill="#2e9e5a" stroke="none" stroke-width="0"/>
<circle cx="443.48" cy="557.96" r="2.35" fill="#2e9e5a" stroke="none" stroke-width="0"/>
<circle cx="447.08" cy="533.62" r="2.35" fill="#2e9e5a" stroke="none" stroke-width="0"/>
<circle cx="480.95" cy="451.69" r="2.35" fill="#19aac4" stroke="none" stroke-width="0"/>
<circle cx="475.66" cy="465.24" r="2.35" fill="#19aac4" stroke="none" stroke-width="0"/>
<circle cx="477.35" cy="466.93" r="2.35" fill="#19aac4" stroke="none" stroke-width="0"/>
<circle cx="477.78" cy="470.32" r="2.35" fill="#19aac4" stroke="none" stroke-width="0"/>
<circle cx="477.35" cy="505.04" r="2.35" fill="#19aac4" stroke="none" stroke-width="0"/>
<circle cx="481.59" cy="515.62" r="2.35" fill="#19aac4" stroke="none" stroke-width="0"/>
<circle cx="478.2" cy="518.16" r="2.35" fill="#19aac4" stroke="none" stroke-width="0"/>
<circle cx="476.72" cy="523.03" r="2.35" fill="#19aac4" stroke="none" stroke-width="0"/>
<circle cx="475.66" cy="531.5" r="2.35" fill="#19aac4" stroke="none" stroke-width="0"/>
<circle cx="476.72" cy="534.67" r="2.35" fill="#19aac4" stroke="none" stroke-width="0"/>
<circle cx="475.66" cy="536.79" r="2.35" fill="#19aac4" stroke="none" stroke-width="0"/>
<circle cx="477.78" cy="541.02" r="2.35" fill="#19aac4" stroke="none" stroke-width="0"/>
<circle cx="480.95" cy="543.14" r="2.35" fill="#19aac4" stroke="none" stroke-width="0"/>
<circle cx="475.24" cy="545.26" r="2.35" fill="#19aac4" stroke="none" stroke-width="0"/>
<circle cx="478.84" cy="546.32" r="2.35" fill="#19aac4" stroke="none" stroke-width="0"/>
<circle cx="480.95" cy="547.8" r="2.35" fill="#19aac4" stroke="none" stroke-width="0"/>
<circle cx="475.24" cy="552.67" r="2.35" fill="#19aac4" stroke="none" stroke-width="0"/>
<circle cx="479.89" cy="523.03" r="2.35" fill="#19aac4" stroke="none" stroke-width="0"/>
<line x1="359.1" y1="407.5" x2="359.1" y2="573.3" stroke="#c4c4c4" stroke-width="1"/>
<line x1="355.5" y1="566.2" x2="359.1" y2="566.2" stroke="#999" stroke-width="0.7"/>
<text x="353.3" y="567.1" font-size="7.85" text-anchor="end" fill="#231f20" font-weight="normal" dominant-baseline="central" >0</text>
<line x1="355.5" y1="534.6" x2="359.1" y2="534.6" stroke="#999" stroke-width="0.7"/>
<text x="353.3" y="535.5" font-size="7.85" text-anchor="end" fill="#231f20" font-weight="normal" dominant-baseline="central" >0.2</text>
<line x1="355.5" y1="503" x2="359.1" y2="503" stroke="#999" stroke-width="0.7"/>
<text x="353.3" y="503.9" font-size="7.85" text-anchor="end" fill="#231f20" font-weight="normal" dominant-baseline="central" >0.4</text>
<line x1="355.5" y1="471.4" x2="359.1" y2="471.4" stroke="#999" stroke-width="0.7"/>
<text x="353.3" y="472.3" font-size="7.85" text-anchor="end" fill="#231f20" font-weight="normal" dominant-baseline="central" >0.6</text>
<line x1="355.5" y1="439.8" x2="359.1" y2="439.8" stroke="#999" stroke-width="0.7"/>
<text x="353.3" y="440.7" font-size="7.85" text-anchor="end" fill="#231f20" font-weight="normal" dominant-baseline="central" >0.8</text>
<line x1="355.5" y1="408.2" x2="359.1" y2="408.2" stroke="#999" stroke-width="0.7"/>
<text x="353.3" y="409.1" font-size="7.85" text-anchor="end" fill="#231f20" font-weight="normal" dominant-baseline="central" >1.0</text>
<line x1="358.6" y1="573.3" x2="497.5" y2="573.3" stroke="#c4c4c4" stroke-width="1"/>
<line x1="378.3" y1="573.3" x2="378.3" y2="576.6" stroke="#999" stroke-width="0.7"/>
<text transform="translate(380,582.0) rotate(-45)" font-size="7.85" text-anchor="end" fill="#231f20" dominant-baseline="central">Intra-primary</text>
<line x1="411.4" y1="573.3" x2="411.4" y2="576.6" stroke="#999" stroke-width="0.7"/>
<text transform="translate(413.1,582.0) rotate(-45)" font-size="7.85" text-anchor="end" fill="#231f20" dominant-baseline="central">Intra-met</text>
<line x1="444.5" y1="573.3" x2="444.5" y2="576.6" stroke="#999" stroke-width="0.7"/>
<text transform="translate(446.2,582.0) rotate(-45)" font-size="7.85" text-anchor="end" fill="#231f20" dominant-baseline="central">Inter-met</text>
<line x1="477.8" y1="573.3" x2="477.8" y2="576.6" stroke="#999" stroke-width="0.7"/>
<text transform="translate(479.5,582.0) rotate(-45)" font-size="7.85" text-anchor="end" fill="#231f20" dominant-baseline="central">Primary–met</text>
<text transform="translate(320.5,491) rotate(-90)" font-size="7.85" text-anchor="middle" fill="#231f20" dominant-baseline="central">Mean mutation diversity</text>
<text transform="translate(330.2,491) rotate(-90)" font-size="7.85" text-anchor="middle" fill="#231f20" dominant-baseline="central">per patient</text>
<line x1="378.3" y1="414.5" x2="477.8" y2="414.5" stroke="#444" stroke-width="0.8"/>
<text x="428" y="409.5" font-size="7.85" text-anchor="middle" fill="#231f20" font-weight="normal" dominant-baseline="central" >1.5 × 10<tspan font-size="5.6" dy="-2.6">−4</tspan></text>
<line x1="380" y1="427.4" x2="441.8" y2="427.4" stroke="#444" stroke-width="0.8"/>
<text x="410" y="422.6" font-size="7.85" text-anchor="middle" fill="#231f20" font-weight="normal" dominant-baseline="central" >0.443</text>
<line x1="448.1" y1="427.4" x2="477.8" y2="427.4" stroke="#444" stroke-width="0.8"/>
<text x="463" y="422.6" font-size="7.85" text-anchor="middle" fill="#231f20" font-weight="normal" dominant-baseline="central" >0.004</text>
<line x1="378.3" y1="441.1" x2="407.9" y2="441.1" stroke="#444" stroke-width="0.8"/>
<text x="393.1" y="437.1" font-size="7.85" text-anchor="middle" fill="#231f20" font-weight="normal" dominant-baseline="central" >0.033</text>
<line x1="415.3" y1="441.1" x2="441.8" y2="441.1" stroke="#444" stroke-width="0.8"/>
<text x="428" y="437.1" font-size="7.85" text-anchor="middle" fill="#231f20" font-weight="normal" dominant-baseline="central" >5.7 × 10<tspan font-size="5.6" dy="-2.6">−6</tspan></text>
<line x1="558.43" y1="477.95" x2="588.65" y2="523.94" stroke="#707070" stroke-width="0.55" stroke-dasharray="1.7,1"/>
<line x1="559.09" y1="470.95" x2="592.37" y2="519.12" stroke="#707070" stroke-width="0.55" stroke-dasharray="1.7,1"/>
<line x1="561.28" y1="501.16" x2="592.37" y2="530.51" stroke="#707070" stroke-width="0.55" stroke-dasharray="1.7,1"/>
<line x1="557.99" y1="513.65" x2="589.74" y2="540.58" stroke="#707070" stroke-width="0.55" stroke-dasharray="1.7,1"/>
<line x1="560.18" y1="518.68" x2="590.84" y2="537.73" stroke="#707070" stroke-width="0.55" stroke-dasharray="1.7,1"/>
<line x1="556.9" y1="509.27" x2="592.37" y2="551.53" stroke="#707070" stroke-width="0.55" stroke-dasharray="1.7,1"/>
<line x1="560.18" y1="526.78" x2="589.74" y2="551.96" stroke="#707070" stroke-width="0.55" stroke-dasharray="1.7,1"/>
<line x1="555.36" y1="507.08" x2="590.84" y2="518.68" stroke="#707070" stroke-width="0.55" stroke-dasharray="1.7,1"/>
<line x1="559.52" y1="501.6" x2="589.3" y2="554.15" stroke="#707070" stroke-width="0.55" stroke-dasharray="1.7,1"/>
<line x1="557.99" y1="530.07" x2="588.65" y2="548.68" stroke="#707070" stroke-width="0.55" stroke-dasharray="1.7,1"/>
<line x1="556.9" y1="514.3" x2="593.68" y2="538.39" stroke="#707070" stroke-width="0.55" stroke-dasharray="1.7,1"/>
<line x1="559.09" y1="522.4" x2="589.3" y2="560.72" stroke="#707070" stroke-width="0.55" stroke-dasharray="1.7,1"/>
<line x1="560.84" y1="538.17" x2="590.84" y2="549.77" stroke="#707070" stroke-width="0.55" stroke-dasharray="1.7,1"/>
<line x1="560.18" y1="531.82" x2="593.02" y2="545.4" stroke="#707070" stroke-width="0.55" stroke-dasharray="1.7,1"/>
<line x1="555.8" y1="547.58" x2="592.37" y2="538.83" stroke="#707070" stroke-width="0.55" stroke-dasharray="1.7,1"/>
<line x1="557.99" y1="564.01" x2="590.18" y2="559.63" stroke="#707070" stroke-width="0.55" stroke-dasharray="1.7,1"/>
<line x1="592.37" y1="519.12" x2="622.15" y2="479.27" stroke="#707070" stroke-width="0.55" stroke-dasharray="1.7,1"/>
<line x1="590.84" y1="518.68" x2="627.4" y2="470.95" stroke="#707070" stroke-width="0.55" stroke-dasharray="1.7,1"/>
<line x1="590.84" y1="537.73" x2="623.68" y2="495.47" stroke="#707070" stroke-width="0.55" stroke-dasharray="1.7,1"/>
<line x1="589.74" y1="551.96" x2="625.87" y2="478.61" stroke="#707070" stroke-width="0.55" stroke-dasharray="1.7,1"/>
<line x1="589.3" y1="560.72" x2="626.96" y2="502.7" stroke="#707070" stroke-width="0.55" stroke-dasharray="1.7,1"/>
<line x1="588.65" y1="548.68" x2="625.21" y2="502.7" stroke="#707070" stroke-width="0.55" stroke-dasharray="1.7,1"/>
<line x1="588.65" y1="523.94" x2="622.15" y2="514.74" stroke="#707070" stroke-width="0.55" stroke-dasharray="1.7,1"/>
<line x1="591.49" y1="556.34" x2="622.58" y2="511.46" stroke="#707070" stroke-width="0.55" stroke-dasharray="1.7,1"/>
<line x1="592.37" y1="530.51" x2="624.77" y2="538.39" stroke="#707070" stroke-width="0.55" stroke-dasharray="1.7,1"/>
<line x1="589.74" y1="540.58" x2="626.53" y2="531.82" stroke="#707070" stroke-width="0.55" stroke-dasharray="1.7,1"/>
<line x1="592.37" y1="538.83" x2="627.62" y2="516.93" stroke="#707070" stroke-width="0.55" stroke-dasharray="1.7,1"/>
<line x1="592.37" y1="551.53" x2="626.53" y2="549.77" stroke="#707070" stroke-width="0.55" stroke-dasharray="1.7,1"/>
<line x1="593.02" y1="545.4" x2="622.15" y2="520.87" stroke="#707070" stroke-width="0.55" stroke-dasharray="1.7,1"/>
<line x1="593.68" y1="538.39" x2="628.72" y2="549.77" stroke="#707070" stroke-width="0.55" stroke-dasharray="1.7,1"/>
<line x1="590.18" y1="559.63" x2="622.15" y2="537.73" stroke="#707070" stroke-width="0.55" stroke-dasharray="1.7,1"/>
<line x1="590.84" y1="557.44" x2="628.06" y2="537.07" stroke="#707070" stroke-width="0.55" stroke-dasharray="1.7,1"/>
<line x1="627.4" y1="470.95" x2="657.4" y2="457.1" stroke="#707070" stroke-width="0.55" stroke-dasharray="1.7,1"/>
<line x1="625.87" y1="478.61" x2="660.6" y2="437" stroke="#707070" stroke-width="0.55" stroke-dasharray="1.7,1"/>
<line x1="623.68" y1="495.47" x2="654.99" y2="473.58" stroke="#707070" stroke-width="0.55" stroke-dasharray="1.7,1"/>
<line x1="622.15" y1="479.27" x2="658.71" y2="473.58" stroke="#707070" stroke-width="0.55" stroke-dasharray="1.7,1"/>
<line x1="625.21" y1="502.7" x2="660.9" y2="474.23" stroke="#707070" stroke-width="0.55" stroke-dasharray="1.7,1"/>
<line x1="622.58" y1="511.46" x2="656.52" y2="478.61" stroke="#707070" stroke-width="0.55" stroke-dasharray="1.7,1"/>
<line x1="622.15" y1="514.74" x2="660.25" y2="495.03" stroke="#707070" stroke-width="0.55" stroke-dasharray="1.7,1"/>
<line x1="626.53" y1="531.82" x2="657.62" y2="486.28" stroke="#707070" stroke-width="0.55" stroke-dasharray="1.7,1"/>
<line x1="627.62" y1="516.93" x2="659.37" y2="478.61" stroke="#707070" stroke-width="0.55" stroke-dasharray="1.7,1"/>
<line x1="626.96" y1="502.7" x2="658.71" y2="460" stroke="#707070" stroke-width="0.55" stroke-dasharray="1.7,1"/>
<line x1="622.15" y1="537.73" x2="657.62" y2="484.09" stroke="#707070" stroke-width="0.55" stroke-dasharray="1.7,1"/>
<line x1="628.06" y1="546.49" x2="656.52" y2="495.03" stroke="#707070" stroke-width="0.55" stroke-dasharray="1.7,1"/>
<line x1="622.15" y1="520.87" x2="658.71" y2="500.51" stroke="#707070" stroke-width="0.55" stroke-dasharray="1.7,1"/>
<line x1="624.77" y1="538.39" x2="660.25" y2="499.85" stroke="#707070" stroke-width="0.55" stroke-dasharray="1.7,1"/>
<line x1="628.72" y1="549.77" x2="654.99" y2="531.16" stroke="#707070" stroke-width="0.55" stroke-dasharray="1.7,1"/>
<line x1="626.53" y1="549.77" x2="656.09" y2="504.89" stroke="#707070" stroke-width="0.55" stroke-dasharray="1.7,1"/>
<line x1="560.18" y1="531.82" x2="624.77" y2="538.39" stroke="#707070" stroke-width="0.55" stroke-dasharray="1.7,1"/>
<line x1="561.28" y1="501.16" x2="625.87" y2="543.21" stroke="#707070" stroke-width="0.55" stroke-dasharray="1.7,1"/>
<line x1="561.28" y1="561.82" x2="624.77" y2="538.39" stroke="#707070" stroke-width="0.55" stroke-dasharray="1.7,1"/>
<line x1="558.43" y1="477.95" x2="622.58" y2="511.46" stroke="#707070" stroke-width="0.55" stroke-dasharray="1.7,1"/>
<line x1="558.65" y1="471" x2="558.65" y2="510.4" stroke="#b4b4b4" stroke-width="1.1"/>
<line x1="558.65" y1="542.5" x2="558.65" y2="563.4" stroke="#b4b4b4" stroke-width="1.1"/>
<line x1="552" y1="471" x2="565.7" y2="471" stroke="#b4b4b4" stroke-width="1.1"/>
<line x1="552" y1="563.4" x2="565.7" y2="563.4" stroke="#b4b4b4" stroke-width="1.1"/>
<rect x="545.5" y="510.4" width="26.3" height="32.1" fill="none" stroke="#b4b4b4" stroke-width="1.1"/>
<line x1="545.5" y1="526.1" x2="571.8" y2="526.1" stroke="#b4b4b4" stroke-width="1.1"/>
<line x1="592.15" y1="518.7" x2="592.15" y2="538.4" stroke="#b4b4b4" stroke-width="1.1"/>
<line x1="592.15" y1="552.4" x2="592.15" y2="560.3" stroke="#b4b4b4" stroke-width="1.1"/>
<line x1="585.3" y1="518.7" x2="599" y2="518.7" stroke="#b4b4b4" stroke-width="1.1"/>
<line x1="585.3" y1="560.3" x2="599" y2="560.3" stroke="#b4b4b4" stroke-width="1.1"/>
<rect x="578.8" y="538.4" width="26.7" height="14" fill="none" stroke="#b4b4b4" stroke-width="1.1"/>
<line x1="578.8" y1="549.8" x2="605.5" y2="549.8" stroke="#b4b4b4" stroke-width="1.1"/>
<line x1="625" y1="471" x2="625" y2="507.1" stroke="#b4b4b4" stroke-width="1.1"/>
<line x1="625" y1="539.9" x2="625" y2="550.2" stroke="#b4b4b4" stroke-width="1.1"/>
<line x1="618.2" y1="471" x2="631.8" y2="471" stroke="#b4b4b4" stroke-width="1.1"/>
<line x1="618.2" y1="550.2" x2="631.8" y2="550.2" stroke="#b4b4b4" stroke-width="1.1"/>
<rect x="611.6" y="507.1" width="26.8" height="32.8" fill="none" stroke="#b4b4b4" stroke-width="1.1"/>
<line x1="611.6" y1="531.8" x2="638.4" y2="531.8" stroke="#b4b4b4" stroke-width="1.1"/>
<line x1="658.4" y1="436.8" x2="658.4" y2="476.9" stroke="#b4b4b4" stroke-width="1.1"/>
<line x1="658.4" y1="506.6" x2="658.4" y2="542.8" stroke="#b4b4b4" stroke-width="1.1"/>
<line x1="651.6" y1="436.8" x2="665.2" y2="436.8" stroke="#b4b4b4" stroke-width="1.1"/>
<line x1="651.6" y1="542.8" x2="665.2" y2="542.8" stroke="#b4b4b4" stroke-width="1.1"/>
<rect x="644.9" y="476.9" width="27" height="29.7" fill="none" stroke="#b4b4b4" stroke-width="1.1"/>
<line x1="644.9" y1="491.3" x2="671.9" y2="491.3" stroke="#b4b4b4" stroke-width="1.1"/>
<circle cx="559.09" cy="470.95" r="2.35" fill="#2f6496" stroke="none" stroke-width="0"/>
<circle cx="558.43" cy="477.95" r="2.35" fill="#2f6496" stroke="none" stroke-width="0"/>
<circle cx="559.52" cy="501.6" r="2.35" fill="#2f6496" stroke="none" stroke-width="0"/>
<circle cx="561.28" cy="501.16" r="2.35" fill="#2f6496" stroke="none" stroke-width="0"/>
<circle cx="555.36" cy="507.08" r="2.35" fill="#2f6496" stroke="none" stroke-width="0"/>
<circle cx="556.9" cy="509.27" r="2.35" fill="#2f6496" stroke="none" stroke-width="0"/>
<circle cx="557.99" cy="513.65" r="2.35" fill="#2f6496" stroke="none" stroke-width="0"/>
<circle cx="556.9" cy="514.3" r="2.35" fill="#2f6496" stroke="none" stroke-width="0"/>
<circle cx="560.18" cy="518.68" r="2.35" fill="#2f6496" stroke="none" stroke-width="0"/>
<circle cx="559.09" cy="522.4" r="2.35" fill="#2f6496" stroke="none" stroke-width="0"/>
<circle cx="560.18" cy="526.78" r="2.35" fill="#2f6496" stroke="none" stroke-width="0"/>
<circle cx="557.99" cy="530.07" r="2.35" fill="#2f6496" stroke="none" stroke-width="0"/>
<circle cx="560.18" cy="531.82" r="2.35" fill="#2f6496" stroke="none" stroke-width="0"/>
<circle cx="556.9" cy="536.64" r="2.35" fill="#2f6496" stroke="none" stroke-width="0"/>
<circle cx="560.84" cy="538.17" r="2.35" fill="#2f6496" stroke="none" stroke-width="0"/>
<circle cx="555.8" cy="547.58" r="2.35" fill="#2f6496" stroke="none" stroke-width="0"/>
<circle cx="558.65" cy="547.58" r="2.35" fill="#2f6496" stroke="none" stroke-width="0"/>
<circle cx="561.71" cy="549.34" r="2.35" fill="#2f6496" stroke="none" stroke-width="0"/>
<circle cx="555.8" cy="554.15" r="2.35" fill="#2f6496" stroke="none" stroke-width="0"/>
<circle cx="559.09" cy="562.47" r="2.35" fill="#2f6496" stroke="none" stroke-width="0"/>
<circle cx="561.28" cy="561.82" r="2.35" fill="#2f6496" stroke="none" stroke-width="0"/>
<circle cx="557.99" cy="564.01" r="2.35" fill="#2f6496" stroke="none" stroke-width="0"/>
<circle cx="590.84" cy="518.68" r="2.35" fill="#0d4d26" stroke="none" stroke-width="0"/>
<circle cx="592.37" cy="519.12" r="2.35" fill="#0d4d26" stroke="none" stroke-width="0"/>
<circle cx="588.65" cy="523.94" r="2.35" fill="#0d4d26" stroke="none" stroke-width="0"/>
<circle cx="592.37" cy="530.51" r="2.35" fill="#0d4d26" stroke="none" stroke-width="0"/>
<circle cx="590.84" cy="537.73" r="2.35" fill="#0d4d26" stroke="none" stroke-width="0"/>
<circle cx="592.37" cy="538.83" r="2.35" fill="#0d4d26" stroke="none" stroke-width="0"/>
<circle cx="589.74" cy="540.58" r="2.35" fill="#0d4d26" stroke="none" stroke-width="0"/>
<circle cx="593.68" cy="538.39" r="2.35" fill="#0d4d26" stroke="none" stroke-width="0"/>
<circle cx="593.02" cy="545.4" r="2.35" fill="#0d4d26" stroke="none" stroke-width="0"/>
<circle cx="588.65" cy="548.68" r="2.35" fill="#0d4d26" stroke="none" stroke-width="0"/>
<circle cx="590.84" cy="549.77" r="2.35" fill="#0d4d26" stroke="none" stroke-width="0"/>
<circle cx="589.74" cy="551.96" r="2.35" fill="#0d4d26" stroke="none" stroke-width="0"/>
<circle cx="592.37" cy="551.53" r="2.35" fill="#0d4d26" stroke="none" stroke-width="0"/>
<circle cx="589.3" cy="554.15" r="2.35" fill="#0d4d26" stroke="none" stroke-width="0"/>
<circle cx="591.49" cy="556.34" r="2.35" fill="#0d4d26" stroke="none" stroke-width="0"/>
<circle cx="590.18" cy="559.63" r="2.35" fill="#0d4d26" stroke="none" stroke-width="0"/>
<circle cx="589.3" cy="560.72" r="2.35" fill="#0d4d26" stroke="none" stroke-width="0"/>
<circle cx="590.84" cy="557.44" r="2.35" fill="#0d4d26" stroke="none" stroke-width="0"/>
<circle cx="627.4" cy="470.95" r="2.35" fill="#2e9e5a" stroke="none" stroke-width="0"/>
<circle cx="622.15" cy="479.27" r="2.35" fill="#2e9e5a" stroke="none" stroke-width="0"/>
<circle cx="625.87" cy="478.61" r="2.35" fill="#2e9e5a" stroke="none" stroke-width="0"/>
<circle cx="623.68" cy="495.47" r="2.35" fill="#2e9e5a" stroke="none" stroke-width="0"/>
<circle cx="625.21" cy="502.7" r="2.35" fill="#2e9e5a" stroke="none" stroke-width="0"/>
<circle cx="626.96" cy="502.7" r="2.35" fill="#2e9e5a" stroke="none" stroke-width="0"/>
<circle cx="622.58" cy="511.46" r="2.35" fill="#2e9e5a" stroke="none" stroke-width="0"/>
<circle cx="622.15" cy="514.74" r="2.35" fill="#2e9e5a" stroke="none" stroke-width="0"/>
<circle cx="627.62" cy="516.93" r="2.35" fill="#2e9e5a" stroke="none" stroke-width="0"/>
<circle cx="622.15" cy="520.87" r="2.35" fill="#2e9e5a" stroke="none" stroke-width="0"/>
<circle cx="626.53" cy="531.82" r="2.35" fill="#2e9e5a" stroke="none" stroke-width="0"/>
<circle cx="622.15" cy="537.73" r="2.35" fill="#2e9e5a" stroke="none" stroke-width="0"/>
<circle cx="624.77" cy="538.39" r="2.35" fill="#2e9e5a" stroke="none" stroke-width="0"/>
<circle cx="628.06" cy="537.07" r="2.35" fill="#2e9e5a" stroke="none" stroke-width="0"/>
<circle cx="624.34" cy="541.02" r="2.35" fill="#2e9e5a" stroke="none" stroke-width="0"/>
<circle cx="625.87" cy="543.21" r="2.35" fill="#2e9e5a" stroke="none" stroke-width="0"/>
<circle cx="628.06" cy="546.49" r="2.35" fill="#2e9e5a" stroke="none" stroke-width="0"/>
<circle cx="626.53" cy="549.77" r="2.35" fill="#2e9e5a" stroke="none" stroke-width="0"/>
<circle cx="628.72" cy="549.77" r="2.35" fill="#2e9e5a" stroke="none" stroke-width="0"/>
<circle cx="626.96" cy="550.87" r="2.35" fill="#2e9e5a" stroke="none" stroke-width="0"/>
<circle cx="658.71" cy="460" r="2.35" fill="#19aac4" stroke="none" stroke-width="0"/>
<circle cx="654.99" cy="473.58" r="2.35" fill="#19aac4" stroke="none" stroke-width="0"/>
<circle cx="658.71" cy="473.58" r="2.35" fill="#19aac4" stroke="none" stroke-width="0"/>
<circle cx="660.9" cy="474.23" r="2.35" fill="#19aac4" stroke="none" stroke-width="0"/>
<circle cx="656.52" cy="478.61" r="2.35" fill="#19aac4" stroke="none" stroke-width="0"/>
<circle cx="659.37" cy="478.61" r="2.35" fill="#19aac4" stroke="none" stroke-width="0"/>
<circle cx="657.62" cy="484.09" r="2.35" fill="#19aac4" stroke="none" stroke-width="0"/>
<circle cx="657.62" cy="486.28" r="2.35" fill="#19aac4" stroke="none" stroke-width="0"/>
<circle cx="660.25" cy="495.03" r="2.35" fill="#19aac4" stroke="none" stroke-width="0"/>
<circle cx="656.52" cy="495.03" r="2.35" fill="#19aac4" stroke="none" stroke-width="0"/>
<circle cx="658.71" cy="500.51" r="2.35" fill="#19aac4" stroke="none" stroke-width="0"/>
<circle cx="660.25" cy="499.85" r="2.35" fill="#19aac4" stroke="none" stroke-width="0"/>
<circle cx="657.62" cy="503.79" r="2.35" fill="#19aac4" stroke="none" stroke-width="0"/>
<circle cx="656.09" cy="504.89" r="2.35" fill="#19aac4" stroke="none" stroke-width="0"/>
<circle cx="656.09" cy="513.65" r="2.35" fill="#19aac4" stroke="none" stroke-width="0"/>
<circle cx="658.71" cy="525.69" r="2.35" fill="#19aac4" stroke="none" stroke-width="0"/>
<circle cx="659.81" cy="529.63" r="2.35" fill="#19aac4" stroke="none" stroke-width="0"/>
<circle cx="654.99" cy="531.16" r="2.35" fill="#19aac4" stroke="none" stroke-width="0"/>
<circle cx="658.71" cy="537.73" r="2.35" fill="#19aac4" stroke="none" stroke-width="0"/>
<circle cx="660.25" cy="541.02" r="2.35" fill="#19aac4" stroke="none" stroke-width="0"/>
<circle cx="659.37" cy="543.21" r="2.35" fill="#19aac4" stroke="none" stroke-width="0"/>
<circle cx="660.6" cy="437" r="2.35" fill="#19aac4" stroke="none" stroke-width="0"/>
<circle cx="657.4" cy="457.1" r="2.35" fill="#19aac4" stroke="none" stroke-width="0"/>
<line x1="538.9" y1="407.5" x2="538.9" y2="573.3" stroke="#c4c4c4" stroke-width="1"/>
<line x1="535.3" y1="566.2" x2="538.9" y2="566.2" stroke="#999" stroke-width="0.7"/>
<line x1="535.3" y1="534.6" x2="538.9" y2="534.6" stroke="#999" stroke-width="0.7"/>
<line x1="535.3" y1="503" x2="538.9" y2="503" stroke="#999" stroke-width="0.7"/>
<line x1="535.3" y1="471.4" x2="538.9" y2="471.4" stroke="#999" stroke-width="0.7"/>
<line x1="535.3" y1="439.8" x2="538.9" y2="439.8" stroke="#999" stroke-width="0.7"/>
<line x1="535.3" y1="408.2" x2="538.9" y2="408.2" stroke="#999" stroke-width="0.7"/>
<line x1="538.4" y1="573.3" x2="677.3" y2="573.3" stroke="#c4c4c4" stroke-width="1"/>
<line x1="558.4" y1="573.3" x2="558.4" y2="576.6" stroke="#999" stroke-width="0.7"/>
<text transform="translate(560.1,582.0) rotate(-45)" font-size="7.85" text-anchor="end" fill="#231f20" dominant-baseline="central">Intra-primary</text>
<line x1="591.9" y1="573.3" x2="591.9" y2="576.6" stroke="#999" stroke-width="0.7"/>
<text transform="translate(593.6,582.0) rotate(-45)" font-size="7.85" text-anchor="end" fill="#231f20" dominant-baseline="central">Intra-met</text>
<line x1="624.8" y1="573.3" x2="624.8" y2="576.6" stroke="#999" stroke-width="0.7"/>
<text transform="translate(626.5,582.0) rotate(-45)" font-size="7.85" text-anchor="end" fill="#231f20" dominant-baseline="central">Inter-met</text>
<line x1="658.3" y1="573.3" x2="658.3" y2="576.6" stroke="#999" stroke-width="0.7"/>
<text transform="translate(660,582.0) rotate(-45)" font-size="7.85" text-anchor="end" fill="#231f20" dominant-baseline="central">Primary–met</text>
<text transform="translate(515.1,490.7) rotate(-90)" font-size="7.85" text-anchor="middle" fill="#231f20" dominant-baseline="central">Mean SCNA diversity</text>
<text transform="translate(526.3,490.7) rotate(-90)" font-size="7.85" text-anchor="middle" fill="#231f20" dominant-baseline="central">per patient</text>
<line x1="558.5" y1="414.5" x2="659.4" y2="414.5" stroke="#444" stroke-width="0.8"/>
<text x="608.7" y="409.5" font-size="7.85" text-anchor="middle" fill="#231f20" font-weight="normal" dominant-baseline="central" >3.3 × 10<tspan font-size="5.6" dy="-2.6">−6</tspan></text>
<line x1="558.5" y1="427.4" x2="620" y2="427.4" stroke="#444" stroke-width="0.8"/>
<text x="590.4" y="422.6" font-size="7.85" text-anchor="middle" fill="#231f20" font-weight="normal" dominant-baseline="central" >0.656</text>
<line x1="625.7" y1="427.4" x2="659.4" y2="427.4" stroke="#444" stroke-width="0.8"/>
<text x="637.1" y="422.6" font-size="7.85" text-anchor="middle" fill="#231f20" font-weight="normal" dominant-baseline="central" >6.0 × 10<tspan font-size="5.6" dy="-2.6">−5</tspan></text>
<line x1="558.5" y1="441.1" x2="588.4" y2="441.1" stroke="#444" stroke-width="0.8"/>
<text x="573" y="437.1" font-size="7.85" text-anchor="middle" fill="#231f20" font-weight="normal" dominant-baseline="central" >0.004</text>
<line x1="594.5" y1="441.1" x2="620.9" y2="441.1" stroke="#444" stroke-width="0.8"/>
<text x="607.9" y="437.1" font-size="7.85" text-anchor="middle" fill="#231f20" font-weight="normal" dominant-baseline="central" >1.9 × 10<tspan font-size="5.6" dy="-2.6">−6</tspan></text>
</svg></body></html>
